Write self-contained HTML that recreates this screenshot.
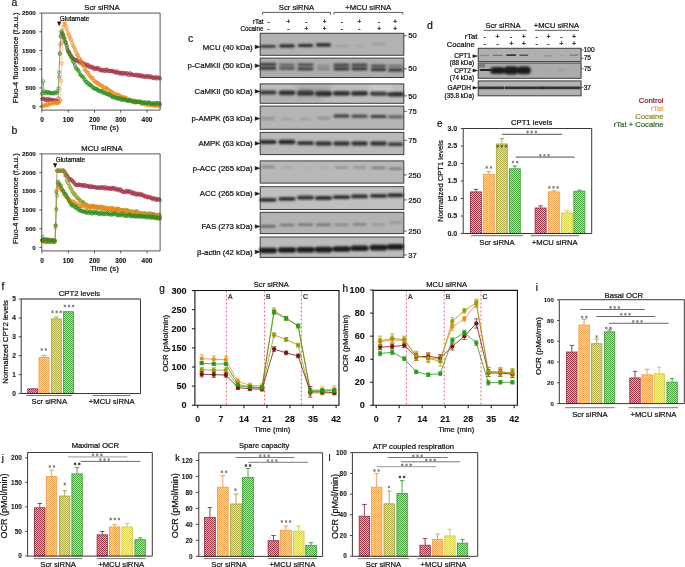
<!DOCTYPE html>
<html><head><meta charset="utf-8"><style>
html,body{margin:0;padding:0;background:#fff;}
svg{display:block;font-family:"Liberation Sans", sans-serif;will-change:transform;}
</style></head><body>
<svg width="685" height="567" viewBox="0 0 685 567">
<rect width="685" height="567" fill="#fff"/>
<path d="M42.00,99.15 L42.68,98.58 L43.37,99.10 L44.05,98.70 L44.73,98.77 L45.41,100.15 L46.09,100.39 L46.78,98.67 L47.46,100.09 L48.14,100.27 L48.83,98.68 L49.51,99.99 L50.19,99.29 L50.87,100.22 L51.55,99.98 L52.24,101.20 L52.92,100.24 L53.60,99.84 L54.29,100.73 L54.97,100.37 L55.65,100.65 L56.33,102.14 L57.02,100.66 L57.70,101.10 L58.38,98.37 L59.06,76.80 L59.75,53.05 L60.43,44.39 L61.11,36.54 L61.79,33.26 L62.47,34.44 L63.16,35.07 L63.84,38.28 L64.52,39.41 L65.20,42.25 L65.89,43.18 L66.57,45.35 L67.25,49.14 L67.93,51.09 L68.62,52.78 L69.30,52.07 L69.98,54.23 L70.66,54.78 L71.35,56.48 L72.03,56.99 L72.71,58.24 L73.39,59.29 L74.08,59.32 L74.76,59.79 L75.44,59.55 L76.12,60.53 L76.81,60.33 L77.49,60.76 L78.17,60.73 L78.85,61.72 L79.54,63.13 L80.22,61.83 L80.90,61.87 L81.58,62.28 L82.27,63.30 L82.95,63.25 L83.63,64.65 L84.31,63.52 L85.00,64.37 L85.68,65.29 L86.36,66.06 L87.04,64.56 L87.73,64.52 L88.41,66.82 L89.09,65.49 L89.77,66.64 L90.46,67.49 L91.14,67.44 L91.82,66.64 L92.50,66.68 L93.19,68.81 L93.87,67.80 L94.55,69.35 L95.23,68.01 L95.92,69.00 L96.60,67.89 L97.28,67.79 L97.96,68.98 L98.65,68.00 L99.33,69.66 L100.01,70.31 L100.69,69.26 L101.38,70.66 L102.06,70.41 L102.74,70.06 L103.42,69.73 L104.11,70.87 L104.79,71.25 L105.47,69.52 L106.15,70.88 L106.84,69.56 L107.52,69.82 L108.20,71.11 L108.88,71.05 L109.57,71.03 L110.25,70.88 L110.93,71.11 L111.61,71.31 L112.30,71.30 L112.98,70.70 L113.66,71.80 L114.34,72.09 L115.03,71.55 L115.71,72.73 L116.39,72.68 L117.07,71.26 L117.76,72.38 L118.44,72.41 L119.12,73.71 L119.80,72.90 L120.49,72.63 L121.17,73.98 L121.85,72.74 L122.54,72.79 L123.22,74.17 L123.90,72.99 L124.58,73.45 L125.27,73.07 L125.95,73.89 L126.63,73.19 L127.31,73.22 L128.00,74.92 L128.68,74.93 L129.36,73.64 L130.04,73.09 L130.73,74.79 L131.41,74.42 L132.09,74.21 L132.77,74.92 L133.46,74.91 L134.14,75.12 L134.82,75.09 L135.50,74.68 L136.19,75.44 L136.87,75.36 L137.55,74.57 L138.23,76.34 L138.92,75.22 L139.60,74.95 L140.28,76.00 L140.96,76.29 L141.65,75.09 L142.33,76.45 L143.01,76.66 L143.69,76.20 L144.38,75.71 L145.06,77.15 L145.74,76.75 L146.42,76.82 L147.11,75.80 L147.79,76.78 L148.47,75.94 L149.15,77.58 L149.84,77.30 L150.52,76.69 L151.20,76.27 L151.88,77.34 L152.57,77.94 L153.25,78.27 L153.93,77.45 L154.61,78.31 L155.30,77.02 L155.98,77.05 L156.66,78.62 L157.34,78.50 L158.03,77.41 L158.71,77.88 L159.39,77.61 L160.07,78.74" fill="none" stroke="#a23444" stroke-width="0.45" opacity="0.9"/>
<g fill="none" stroke="#a23444" stroke-width="0.62"><circle cx="42.00" cy="99.15" r="1.55"/><circle cx="42.68" cy="98.58" r="1.55"/><circle cx="43.37" cy="99.10" r="1.55"/><circle cx="44.05" cy="98.70" r="1.55"/><circle cx="44.73" cy="98.77" r="1.55"/><circle cx="45.41" cy="100.15" r="1.55"/><circle cx="46.09" cy="100.39" r="1.55"/><circle cx="46.78" cy="98.67" r="1.55"/><circle cx="47.46" cy="100.09" r="1.55"/><circle cx="48.14" cy="100.27" r="1.55"/><circle cx="48.83" cy="98.68" r="1.55"/><circle cx="49.51" cy="99.99" r="1.55"/><circle cx="50.19" cy="99.29" r="1.55"/><circle cx="50.87" cy="100.22" r="1.55"/><circle cx="51.55" cy="99.98" r="1.55"/><circle cx="52.24" cy="101.20" r="1.55"/><circle cx="52.92" cy="100.24" r="1.55"/><circle cx="53.60" cy="99.84" r="1.55"/><circle cx="54.29" cy="100.73" r="1.55"/><circle cx="54.97" cy="100.37" r="1.55"/><circle cx="55.65" cy="100.65" r="1.55"/><circle cx="56.33" cy="102.14" r="1.55"/><circle cx="57.02" cy="100.66" r="1.55"/><circle cx="57.70" cy="101.10" r="1.55"/><circle cx="58.38" cy="98.37" r="1.55"/><circle cx="59.06" cy="76.80" r="1.55"/><circle cx="59.75" cy="53.05" r="1.55"/><circle cx="60.43" cy="44.39" r="1.55"/><circle cx="61.11" cy="36.54" r="1.55"/><circle cx="61.79" cy="33.26" r="1.55"/><circle cx="62.47" cy="34.44" r="1.55"/><circle cx="63.16" cy="35.07" r="1.55"/><circle cx="63.84" cy="38.28" r="1.55"/><circle cx="64.52" cy="39.41" r="1.55"/><circle cx="65.20" cy="42.25" r="1.55"/><circle cx="65.89" cy="43.18" r="1.55"/><circle cx="66.57" cy="45.35" r="1.55"/><circle cx="67.25" cy="49.14" r="1.55"/><circle cx="67.93" cy="51.09" r="1.55"/><circle cx="68.62" cy="52.78" r="1.55"/><circle cx="69.30" cy="52.07" r="1.55"/><circle cx="69.98" cy="54.23" r="1.55"/><circle cx="70.66" cy="54.78" r="1.55"/><circle cx="71.35" cy="56.48" r="1.55"/><circle cx="72.03" cy="56.99" r="1.55"/><circle cx="72.71" cy="58.24" r="1.55"/><circle cx="73.39" cy="59.29" r="1.55"/><circle cx="74.08" cy="59.32" r="1.55"/><circle cx="74.76" cy="59.79" r="1.55"/><circle cx="75.44" cy="59.55" r="1.55"/><circle cx="76.12" cy="60.53" r="1.55"/><circle cx="76.81" cy="60.33" r="1.55"/><circle cx="77.49" cy="60.76" r="1.55"/><circle cx="78.17" cy="60.73" r="1.55"/><circle cx="78.85" cy="61.72" r="1.55"/><circle cx="79.54" cy="63.13" r="1.55"/><circle cx="80.22" cy="61.83" r="1.55"/><circle cx="80.90" cy="61.87" r="1.55"/><circle cx="81.58" cy="62.28" r="1.55"/><circle cx="82.27" cy="63.30" r="1.55"/><circle cx="82.95" cy="63.25" r="1.55"/><circle cx="83.63" cy="64.65" r="1.55"/><circle cx="84.31" cy="63.52" r="1.55"/><circle cx="85.00" cy="64.37" r="1.55"/><circle cx="85.68" cy="65.29" r="1.55"/><circle cx="86.36" cy="66.06" r="1.55"/><circle cx="87.04" cy="64.56" r="1.55"/><circle cx="87.73" cy="64.52" r="1.55"/><circle cx="88.41" cy="66.82" r="1.55"/><circle cx="89.09" cy="65.49" r="1.55"/><circle cx="89.77" cy="66.64" r="1.55"/><circle cx="90.46" cy="67.49" r="1.55"/><circle cx="91.14" cy="67.44" r="1.55"/><circle cx="91.82" cy="66.64" r="1.55"/><circle cx="92.50" cy="66.68" r="1.55"/><circle cx="93.19" cy="68.81" r="1.55"/><circle cx="93.87" cy="67.80" r="1.55"/><circle cx="94.55" cy="69.35" r="1.55"/><circle cx="95.23" cy="68.01" r="1.55"/><circle cx="95.92" cy="69.00" r="1.55"/><circle cx="96.60" cy="67.89" r="1.55"/><circle cx="97.28" cy="67.79" r="1.55"/><circle cx="97.96" cy="68.98" r="1.55"/><circle cx="98.65" cy="68.00" r="1.55"/><circle cx="99.33" cy="69.66" r="1.55"/><circle cx="100.01" cy="70.31" r="1.55"/><circle cx="100.69" cy="69.26" r="1.55"/><circle cx="101.38" cy="70.66" r="1.55"/><circle cx="102.06" cy="70.41" r="1.55"/><circle cx="102.74" cy="70.06" r="1.55"/><circle cx="103.42" cy="69.73" r="1.55"/><circle cx="104.11" cy="70.87" r="1.55"/><circle cx="104.79" cy="71.25" r="1.55"/><circle cx="105.47" cy="69.52" r="1.55"/><circle cx="106.15" cy="70.88" r="1.55"/><circle cx="106.84" cy="69.56" r="1.55"/><circle cx="107.52" cy="69.82" r="1.55"/><circle cx="108.20" cy="71.11" r="1.55"/><circle cx="108.88" cy="71.05" r="1.55"/><circle cx="109.57" cy="71.03" r="1.55"/><circle cx="110.25" cy="70.88" r="1.55"/><circle cx="110.93" cy="71.11" r="1.55"/><circle cx="111.61" cy="71.31" r="1.55"/><circle cx="112.30" cy="71.30" r="1.55"/><circle cx="112.98" cy="70.70" r="1.55"/><circle cx="113.66" cy="71.80" r="1.55"/><circle cx="114.34" cy="72.09" r="1.55"/><circle cx="115.03" cy="71.55" r="1.55"/><circle cx="115.71" cy="72.73" r="1.55"/><circle cx="116.39" cy="72.68" r="1.55"/><circle cx="117.07" cy="71.26" r="1.55"/><circle cx="117.76" cy="72.38" r="1.55"/><circle cx="118.44" cy="72.41" r="1.55"/><circle cx="119.12" cy="73.71" r="1.55"/><circle cx="119.80" cy="72.90" r="1.55"/><circle cx="120.49" cy="72.63" r="1.55"/><circle cx="121.17" cy="73.98" r="1.55"/><circle cx="121.85" cy="72.74" r="1.55"/><circle cx="122.54" cy="72.79" r="1.55"/><circle cx="123.22" cy="74.17" r="1.55"/><circle cx="123.90" cy="72.99" r="1.55"/><circle cx="124.58" cy="73.45" r="1.55"/><circle cx="125.27" cy="73.07" r="1.55"/><circle cx="125.95" cy="73.89" r="1.55"/><circle cx="126.63" cy="73.19" r="1.55"/><circle cx="127.31" cy="73.22" r="1.55"/><circle cx="128.00" cy="74.92" r="1.55"/><circle cx="128.68" cy="74.93" r="1.55"/><circle cx="129.36" cy="73.64" r="1.55"/><circle cx="130.04" cy="73.09" r="1.55"/><circle cx="130.73" cy="74.79" r="1.55"/><circle cx="131.41" cy="74.42" r="1.55"/><circle cx="132.09" cy="74.21" r="1.55"/><circle cx="132.77" cy="74.92" r="1.55"/><circle cx="133.46" cy="74.91" r="1.55"/><circle cx="134.14" cy="75.12" r="1.55"/><circle cx="134.82" cy="75.09" r="1.55"/><circle cx="135.50" cy="74.68" r="1.55"/><circle cx="136.19" cy="75.44" r="1.55"/><circle cx="136.87" cy="75.36" r="1.55"/><circle cx="137.55" cy="74.57" r="1.55"/><circle cx="138.23" cy="76.34" r="1.55"/><circle cx="138.92" cy="75.22" r="1.55"/><circle cx="139.60" cy="74.95" r="1.55"/><circle cx="140.28" cy="76.00" r="1.55"/><circle cx="140.96" cy="76.29" r="1.55"/><circle cx="141.65" cy="75.09" r="1.55"/><circle cx="142.33" cy="76.45" r="1.55"/><circle cx="143.01" cy="76.66" r="1.55"/><circle cx="143.69" cy="76.20" r="1.55"/><circle cx="144.38" cy="75.71" r="1.55"/><circle cx="145.06" cy="77.15" r="1.55"/><circle cx="145.74" cy="76.75" r="1.55"/><circle cx="146.42" cy="76.82" r="1.55"/><circle cx="147.11" cy="75.80" r="1.55"/><circle cx="147.79" cy="76.78" r="1.55"/><circle cx="148.47" cy="75.94" r="1.55"/><circle cx="149.15" cy="77.58" r="1.55"/><circle cx="149.84" cy="77.30" r="1.55"/><circle cx="150.52" cy="76.69" r="1.55"/><circle cx="151.20" cy="76.27" r="1.55"/><circle cx="151.88" cy="77.34" r="1.55"/><circle cx="152.57" cy="77.94" r="1.55"/><circle cx="153.25" cy="78.27" r="1.55"/><circle cx="153.93" cy="77.45" r="1.55"/><circle cx="154.61" cy="78.31" r="1.55"/><circle cx="155.30" cy="77.02" r="1.55"/><circle cx="155.98" cy="77.05" r="1.55"/><circle cx="156.66" cy="78.62" r="1.55"/><circle cx="157.34" cy="78.50" r="1.55"/><circle cx="158.03" cy="77.41" r="1.55"/><circle cx="158.71" cy="77.88" r="1.55"/><circle cx="159.39" cy="77.61" r="1.55"/><circle cx="160.07" cy="78.74" r="1.55"/></g>
<path d="M42.00,106.57 L42.68,106.11 L43.37,104.99 L44.05,105.86 L44.73,105.57 L45.41,105.28 L46.09,105.13 L46.78,105.01 L47.46,103.87 L48.14,105.21 L48.83,105.36 L49.51,103.39 L50.19,103.36 L50.87,103.01 L51.55,103.94 L52.24,102.79 L52.92,102.69 L53.60,103.91 L54.29,102.75 L54.97,102.43 L55.65,102.62 L56.33,102.75 L57.02,103.05 L57.70,102.81 L58.38,102.66 L59.06,102.58 L59.75,101.18 L60.43,100.00 L61.11,80.75 L61.79,63.35 L62.47,42.24 L63.16,27.37 L63.84,24.60 L64.52,21.94 L65.20,23.75 L65.89,26.07 L66.57,28.47 L67.25,30.38 L67.93,33.30 L68.62,34.93 L69.30,35.83 L69.98,37.71 L70.66,39.54 L71.35,40.13 L72.03,42.38 L72.71,44.52 L73.39,46.31 L74.08,46.73 L74.76,49.09 L75.44,50.11 L76.12,52.56 L76.81,54.27 L77.49,54.90 L78.17,55.64 L78.85,58.18 L79.54,58.26 L80.22,59.30 L80.90,60.81 L81.58,62.06 L82.27,64.93 L82.95,65.01 L83.63,65.84 L84.31,68.71 L85.00,69.57 L85.68,70.79 L86.36,71.10 L87.04,72.12 L87.73,72.84 L88.41,73.06 L89.09,75.39 L89.77,76.10 L90.46,76.78 L91.14,77.60 L91.82,78.53 L92.50,77.58 L93.19,78.63 L93.87,80.94 L94.55,80.95 L95.23,81.86 L95.92,82.30 L96.60,82.66 L97.28,82.52 L97.96,83.07 L98.65,83.95 L99.33,84.71 L100.01,84.87 L100.69,85.71 L101.38,85.30 L102.06,85.42 L102.74,86.51 L103.42,87.53 L104.11,87.77 L104.79,87.82 L105.47,87.81 L106.15,87.90 L106.84,89.11 L107.52,88.73 L108.20,89.51 L108.88,90.31 L109.57,90.86 L110.25,91.06 L110.93,91.09 L111.61,92.07 L112.30,91.97 L112.98,92.86 L113.66,93.71 L114.34,93.58 L115.03,93.65 L115.71,95.17 L116.39,94.79 L117.07,95.10 L117.76,94.52 L118.44,94.72 L119.12,96.13 L119.80,95.42 L120.49,95.93 L121.17,97.27 L121.85,97.19 L122.54,98.11 L123.22,97.01 L123.90,97.54 L124.58,97.35 L125.27,97.77 L125.95,98.25 L126.63,98.37 L127.31,98.94 L128.00,100.07 L128.68,99.37 L129.36,100.74 L130.04,100.71 L130.73,99.73 L131.41,101.39 L132.09,101.53 L132.77,101.76 L133.46,100.48 L134.14,102.08 L134.82,102.63 L135.50,101.20 L136.19,102.75 L136.87,101.49 L137.55,101.97 L138.23,101.80 L138.92,101.72 L139.60,102.60 L140.28,102.32 L140.96,103.95 L141.65,102.67 L142.33,103.32 L143.01,103.07 L143.69,104.40 L144.38,103.30 L145.06,103.09 L145.74,104.94 L146.42,104.57 L147.11,104.24 L147.79,103.81 L148.47,105.03 L149.15,105.24 L149.84,105.18 L150.52,104.55 L151.20,104.37 L151.88,105.15 L152.57,105.28 L153.25,105.30 L153.93,105.48 L154.61,105.43 L155.30,106.16 L155.98,105.43 L156.66,104.59 L157.34,105.76 L158.03,105.19 L158.71,106.42 L159.39,105.47 L160.07,105.42" fill="none" stroke="#f08a18" stroke-width="0.45" opacity="0.9"/>
<g fill="none" stroke="#f08a18" stroke-width="0.62"><circle cx="42.00" cy="106.57" r="1.55"/><circle cx="42.68" cy="106.11" r="1.55"/><circle cx="43.37" cy="104.99" r="1.55"/><circle cx="44.05" cy="105.86" r="1.55"/><circle cx="44.73" cy="105.57" r="1.55"/><circle cx="45.41" cy="105.28" r="1.55"/><circle cx="46.09" cy="105.13" r="1.55"/><circle cx="46.78" cy="105.01" r="1.55"/><circle cx="47.46" cy="103.87" r="1.55"/><circle cx="48.14" cy="105.21" r="1.55"/><circle cx="48.83" cy="105.36" r="1.55"/><circle cx="49.51" cy="103.39" r="1.55"/><circle cx="50.19" cy="103.36" r="1.55"/><circle cx="50.87" cy="103.01" r="1.55"/><circle cx="51.55" cy="103.94" r="1.55"/><circle cx="52.24" cy="102.79" r="1.55"/><circle cx="52.92" cy="102.69" r="1.55"/><circle cx="53.60" cy="103.91" r="1.55"/><circle cx="54.29" cy="102.75" r="1.55"/><circle cx="54.97" cy="102.43" r="1.55"/><circle cx="55.65" cy="102.62" r="1.55"/><circle cx="56.33" cy="102.75" r="1.55"/><circle cx="57.02" cy="103.05" r="1.55"/><circle cx="57.70" cy="102.81" r="1.55"/><circle cx="58.38" cy="102.66" r="1.55"/><circle cx="59.06" cy="102.58" r="1.55"/><circle cx="59.75" cy="101.18" r="1.55"/><circle cx="60.43" cy="100.00" r="1.55"/><circle cx="61.11" cy="80.75" r="1.55"/><circle cx="61.79" cy="63.35" r="1.55"/><circle cx="62.47" cy="42.24" r="1.55"/><circle cx="63.16" cy="27.37" r="1.55"/><circle cx="63.84" cy="24.60" r="1.55"/><circle cx="64.52" cy="21.94" r="1.55"/><circle cx="65.20" cy="23.75" r="1.55"/><circle cx="65.89" cy="26.07" r="1.55"/><circle cx="66.57" cy="28.47" r="1.55"/><circle cx="67.25" cy="30.38" r="1.55"/><circle cx="67.93" cy="33.30" r="1.55"/><circle cx="68.62" cy="34.93" r="1.55"/><circle cx="69.30" cy="35.83" r="1.55"/><circle cx="69.98" cy="37.71" r="1.55"/><circle cx="70.66" cy="39.54" r="1.55"/><circle cx="71.35" cy="40.13" r="1.55"/><circle cx="72.03" cy="42.38" r="1.55"/><circle cx="72.71" cy="44.52" r="1.55"/><circle cx="73.39" cy="46.31" r="1.55"/><circle cx="74.08" cy="46.73" r="1.55"/><circle cx="74.76" cy="49.09" r="1.55"/><circle cx="75.44" cy="50.11" r="1.55"/><circle cx="76.12" cy="52.56" r="1.55"/><circle cx="76.81" cy="54.27" r="1.55"/><circle cx="77.49" cy="54.90" r="1.55"/><circle cx="78.17" cy="55.64" r="1.55"/><circle cx="78.85" cy="58.18" r="1.55"/><circle cx="79.54" cy="58.26" r="1.55"/><circle cx="80.22" cy="59.30" r="1.55"/><circle cx="80.90" cy="60.81" r="1.55"/><circle cx="81.58" cy="62.06" r="1.55"/><circle cx="82.27" cy="64.93" r="1.55"/><circle cx="82.95" cy="65.01" r="1.55"/><circle cx="83.63" cy="65.84" r="1.55"/><circle cx="84.31" cy="68.71" r="1.55"/><circle cx="85.00" cy="69.57" r="1.55"/><circle cx="85.68" cy="70.79" r="1.55"/><circle cx="86.36" cy="71.10" r="1.55"/><circle cx="87.04" cy="72.12" r="1.55"/><circle cx="87.73" cy="72.84" r="1.55"/><circle cx="88.41" cy="73.06" r="1.55"/><circle cx="89.09" cy="75.39" r="1.55"/><circle cx="89.77" cy="76.10" r="1.55"/><circle cx="90.46" cy="76.78" r="1.55"/><circle cx="91.14" cy="77.60" r="1.55"/><circle cx="91.82" cy="78.53" r="1.55"/><circle cx="92.50" cy="77.58" r="1.55"/><circle cx="93.19" cy="78.63" r="1.55"/><circle cx="93.87" cy="80.94" r="1.55"/><circle cx="94.55" cy="80.95" r="1.55"/><circle cx="95.23" cy="81.86" r="1.55"/><circle cx="95.92" cy="82.30" r="1.55"/><circle cx="96.60" cy="82.66" r="1.55"/><circle cx="97.28" cy="82.52" r="1.55"/><circle cx="97.96" cy="83.07" r="1.55"/><circle cx="98.65" cy="83.95" r="1.55"/><circle cx="99.33" cy="84.71" r="1.55"/><circle cx="100.01" cy="84.87" r="1.55"/><circle cx="100.69" cy="85.71" r="1.55"/><circle cx="101.38" cy="85.30" r="1.55"/><circle cx="102.06" cy="85.42" r="1.55"/><circle cx="102.74" cy="86.51" r="1.55"/><circle cx="103.42" cy="87.53" r="1.55"/><circle cx="104.11" cy="87.77" r="1.55"/><circle cx="104.79" cy="87.82" r="1.55"/><circle cx="105.47" cy="87.81" r="1.55"/><circle cx="106.15" cy="87.90" r="1.55"/><circle cx="106.84" cy="89.11" r="1.55"/><circle cx="107.52" cy="88.73" r="1.55"/><circle cx="108.20" cy="89.51" r="1.55"/><circle cx="108.88" cy="90.31" r="1.55"/><circle cx="109.57" cy="90.86" r="1.55"/><circle cx="110.25" cy="91.06" r="1.55"/><circle cx="110.93" cy="91.09" r="1.55"/><circle cx="111.61" cy="92.07" r="1.55"/><circle cx="112.30" cy="91.97" r="1.55"/><circle cx="112.98" cy="92.86" r="1.55"/><circle cx="113.66" cy="93.71" r="1.55"/><circle cx="114.34" cy="93.58" r="1.55"/><circle cx="115.03" cy="93.65" r="1.55"/><circle cx="115.71" cy="95.17" r="1.55"/><circle cx="116.39" cy="94.79" r="1.55"/><circle cx="117.07" cy="95.10" r="1.55"/><circle cx="117.76" cy="94.52" r="1.55"/><circle cx="118.44" cy="94.72" r="1.55"/><circle cx="119.12" cy="96.13" r="1.55"/><circle cx="119.80" cy="95.42" r="1.55"/><circle cx="120.49" cy="95.93" r="1.55"/><circle cx="121.17" cy="97.27" r="1.55"/><circle cx="121.85" cy="97.19" r="1.55"/><circle cx="122.54" cy="98.11" r="1.55"/><circle cx="123.22" cy="97.01" r="1.55"/><circle cx="123.90" cy="97.54" r="1.55"/><circle cx="124.58" cy="97.35" r="1.55"/><circle cx="125.27" cy="97.77" r="1.55"/><circle cx="125.95" cy="98.25" r="1.55"/><circle cx="126.63" cy="98.37" r="1.55"/><circle cx="127.31" cy="98.94" r="1.55"/><circle cx="128.00" cy="100.07" r="1.55"/><circle cx="128.68" cy="99.37" r="1.55"/><circle cx="129.36" cy="100.74" r="1.55"/><circle cx="130.04" cy="100.71" r="1.55"/><circle cx="130.73" cy="99.73" r="1.55"/><circle cx="131.41" cy="101.39" r="1.55"/><circle cx="132.09" cy="101.53" r="1.55"/><circle cx="132.77" cy="101.76" r="1.55"/><circle cx="133.46" cy="100.48" r="1.55"/><circle cx="134.14" cy="102.08" r="1.55"/><circle cx="134.82" cy="102.63" r="1.55"/><circle cx="135.50" cy="101.20" r="1.55"/><circle cx="136.19" cy="102.75" r="1.55"/><circle cx="136.87" cy="101.49" r="1.55"/><circle cx="137.55" cy="101.97" r="1.55"/><circle cx="138.23" cy="101.80" r="1.55"/><circle cx="138.92" cy="101.72" r="1.55"/><circle cx="139.60" cy="102.60" r="1.55"/><circle cx="140.28" cy="102.32" r="1.55"/><circle cx="140.96" cy="103.95" r="1.55"/><circle cx="141.65" cy="102.67" r="1.55"/><circle cx="142.33" cy="103.32" r="1.55"/><circle cx="143.01" cy="103.07" r="1.55"/><circle cx="143.69" cy="104.40" r="1.55"/><circle cx="144.38" cy="103.30" r="1.55"/><circle cx="145.06" cy="103.09" r="1.55"/><circle cx="145.74" cy="104.94" r="1.55"/><circle cx="146.42" cy="104.57" r="1.55"/><circle cx="147.11" cy="104.24" r="1.55"/><circle cx="147.79" cy="103.81" r="1.55"/><circle cx="148.47" cy="105.03" r="1.55"/><circle cx="149.15" cy="105.24" r="1.55"/><circle cx="149.84" cy="105.18" r="1.55"/><circle cx="150.52" cy="104.55" r="1.55"/><circle cx="151.20" cy="104.37" r="1.55"/><circle cx="151.88" cy="105.15" r="1.55"/><circle cx="152.57" cy="105.28" r="1.55"/><circle cx="153.25" cy="105.30" r="1.55"/><circle cx="153.93" cy="105.48" r="1.55"/><circle cx="154.61" cy="105.43" r="1.55"/><circle cx="155.30" cy="106.16" r="1.55"/><circle cx="155.98" cy="105.43" r="1.55"/><circle cx="156.66" cy="104.59" r="1.55"/><circle cx="157.34" cy="105.76" r="1.55"/><circle cx="158.03" cy="105.19" r="1.55"/><circle cx="158.71" cy="106.42" r="1.55"/><circle cx="159.39" cy="105.47" r="1.55"/><circle cx="160.07" cy="105.42" r="1.55"/></g>
<path d="M42.00,93.92 L42.68,93.25 L43.37,81.25 L44.05,91.31 L44.73,91.65 L45.41,93.15 L46.09,93.29 L46.78,92.07 L47.46,91.78 L48.14,92.60 L48.83,92.79 L49.51,92.29 L50.19,93.37 L50.87,93.25 L51.55,93.43 L52.24,92.71 L52.92,93.28 L53.60,93.48 L54.29,92.63 L54.97,92.17 L55.65,93.49 L56.33,92.73 L57.02,92.60 L57.70,90.91 L58.38,88.18 L59.06,72.27 L59.75,54.04 L60.43,36.20 L61.11,31.75 L61.79,30.99 L62.47,33.12 L63.16,34.46 L63.84,36.81 L64.52,38.20 L65.20,41.69 L65.89,42.31 L66.57,45.58 L67.25,47.61 L67.93,50.14 L68.62,51.56 L69.30,53.01 L69.98,54.95 L70.66,56.52 L71.35,57.48 L72.03,58.64 L72.71,60.95 L73.39,61.72 L74.08,62.70 L74.76,65.08 L75.44,66.97 L76.12,68.38 L76.81,68.58 L77.49,69.61 L78.17,70.01 L78.85,71.16 L79.54,73.30 L80.22,74.35 L80.90,75.17 L81.58,76.26 L82.27,76.20 L82.95,76.85 L83.63,77.72 L84.31,79.93 L85.00,79.69 L85.68,81.65 L86.36,81.98 L87.04,81.93 L87.73,83.72 L88.41,84.25 L89.09,83.35 L89.77,84.94 L90.46,85.36 L91.14,85.47 L91.82,85.82 L92.50,87.67 L93.19,87.57 L93.87,87.91 L94.55,88.36 L95.23,89.28 L95.92,88.86 L96.60,88.45 L97.28,89.86 L97.96,89.87 L98.65,91.01 L99.33,91.02 L100.01,90.57 L100.69,91.95 L101.38,90.76 L102.06,91.03 L102.74,92.92 L103.42,91.59 L104.11,93.00 L104.79,92.54 L105.47,92.88 L106.15,94.09 L106.84,93.66 L107.52,94.01 L108.20,94.03 L108.88,95.39 L109.57,94.75 L110.25,94.66 L110.93,95.53 L111.61,96.11 L112.30,97.24 L112.98,96.81 L113.66,97.40 L114.34,97.00 L115.03,97.32 L115.71,97.70 L116.39,98.62 L117.07,97.88 L117.76,98.08 L118.44,99.12 L119.12,97.91 L119.80,98.53 L120.49,99.73 L121.17,98.32 L121.85,100.03 L122.54,99.78 L123.22,99.13 L123.90,99.48 L124.58,99.66 L125.27,99.59 L125.95,100.06 L126.63,100.45 L127.31,100.82 L128.00,101.14 L128.68,99.98 L129.36,100.01 L130.04,100.53 L130.73,100.25 L131.41,101.10 L132.09,101.38 L132.77,101.26 L133.46,100.41 L134.14,102.13 L134.82,101.34 L135.50,101.93 L136.19,101.00 L136.87,101.89 L137.55,102.01 L138.23,101.96 L138.92,101.78 L139.60,101.41 L140.28,102.31 L140.96,101.44 L141.65,102.95 L142.33,102.73 L143.01,103.14 L143.69,103.20 L144.38,101.99 L145.06,102.18 L145.74,103.32 L146.42,103.39 L147.11,103.03 L147.79,102.45 L148.47,102.36 L149.15,102.55 L149.84,102.91 L150.52,103.83 L151.20,103.39 L151.88,103.85 L152.57,103.25 L153.25,103.23 L153.93,103.99 L154.61,103.95 L155.30,102.97 L155.98,104.49 L156.66,103.04 L157.34,102.92 L158.03,102.87 L158.71,104.02 L159.39,103.75 L160.07,103.74" fill="none" stroke="#2e8c1e" stroke-width="0.45" opacity="0.9"/>
<g fill="none" stroke="#2e8c1e" stroke-width="0.62"><circle cx="42.00" cy="93.92" r="1.55"/><circle cx="42.68" cy="93.25" r="1.55"/><circle cx="43.37" cy="81.25" r="1.55"/><circle cx="44.05" cy="91.31" r="1.55"/><circle cx="44.73" cy="91.65" r="1.55"/><circle cx="45.41" cy="93.15" r="1.55"/><circle cx="46.09" cy="93.29" r="1.55"/><circle cx="46.78" cy="92.07" r="1.55"/><circle cx="47.46" cy="91.78" r="1.55"/><circle cx="48.14" cy="92.60" r="1.55"/><circle cx="48.83" cy="92.79" r="1.55"/><circle cx="49.51" cy="92.29" r="1.55"/><circle cx="50.19" cy="93.37" r="1.55"/><circle cx="50.87" cy="93.25" r="1.55"/><circle cx="51.55" cy="93.43" r="1.55"/><circle cx="52.24" cy="92.71" r="1.55"/><circle cx="52.92" cy="93.28" r="1.55"/><circle cx="53.60" cy="93.48" r="1.55"/><circle cx="54.29" cy="92.63" r="1.55"/><circle cx="54.97" cy="92.17" r="1.55"/><circle cx="55.65" cy="93.49" r="1.55"/><circle cx="56.33" cy="92.73" r="1.55"/><circle cx="57.02" cy="92.60" r="1.55"/><circle cx="57.70" cy="90.91" r="1.55"/><circle cx="58.38" cy="88.18" r="1.55"/><circle cx="59.06" cy="72.27" r="1.55"/><circle cx="59.75" cy="54.04" r="1.55"/><circle cx="60.43" cy="36.20" r="1.55"/><circle cx="61.11" cy="31.75" r="1.55"/><circle cx="61.79" cy="30.99" r="1.55"/><circle cx="62.47" cy="33.12" r="1.55"/><circle cx="63.16" cy="34.46" r="1.55"/><circle cx="63.84" cy="36.81" r="1.55"/><circle cx="64.52" cy="38.20" r="1.55"/><circle cx="65.20" cy="41.69" r="1.55"/><circle cx="65.89" cy="42.31" r="1.55"/><circle cx="66.57" cy="45.58" r="1.55"/><circle cx="67.25" cy="47.61" r="1.55"/><circle cx="67.93" cy="50.14" r="1.55"/><circle cx="68.62" cy="51.56" r="1.55"/><circle cx="69.30" cy="53.01" r="1.55"/><circle cx="69.98" cy="54.95" r="1.55"/><circle cx="70.66" cy="56.52" r="1.55"/><circle cx="71.35" cy="57.48" r="1.55"/><circle cx="72.03" cy="58.64" r="1.55"/><circle cx="72.71" cy="60.95" r="1.55"/><circle cx="73.39" cy="61.72" r="1.55"/><circle cx="74.08" cy="62.70" r="1.55"/><circle cx="74.76" cy="65.08" r="1.55"/><circle cx="75.44" cy="66.97" r="1.55"/><circle cx="76.12" cy="68.38" r="1.55"/><circle cx="76.81" cy="68.58" r="1.55"/><circle cx="77.49" cy="69.61" r="1.55"/><circle cx="78.17" cy="70.01" r="1.55"/><circle cx="78.85" cy="71.16" r="1.55"/><circle cx="79.54" cy="73.30" r="1.55"/><circle cx="80.22" cy="74.35" r="1.55"/><circle cx="80.90" cy="75.17" r="1.55"/><circle cx="81.58" cy="76.26" r="1.55"/><circle cx="82.27" cy="76.20" r="1.55"/><circle cx="82.95" cy="76.85" r="1.55"/><circle cx="83.63" cy="77.72" r="1.55"/><circle cx="84.31" cy="79.93" r="1.55"/><circle cx="85.00" cy="79.69" r="1.55"/><circle cx="85.68" cy="81.65" r="1.55"/><circle cx="86.36" cy="81.98" r="1.55"/><circle cx="87.04" cy="81.93" r="1.55"/><circle cx="87.73" cy="83.72" r="1.55"/><circle cx="88.41" cy="84.25" r="1.55"/><circle cx="89.09" cy="83.35" r="1.55"/><circle cx="89.77" cy="84.94" r="1.55"/><circle cx="90.46" cy="85.36" r="1.55"/><circle cx="91.14" cy="85.47" r="1.55"/><circle cx="91.82" cy="85.82" r="1.55"/><circle cx="92.50" cy="87.67" r="1.55"/><circle cx="93.19" cy="87.57" r="1.55"/><circle cx="93.87" cy="87.91" r="1.55"/><circle cx="94.55" cy="88.36" r="1.55"/><circle cx="95.23" cy="89.28" r="1.55"/><circle cx="95.92" cy="88.86" r="1.55"/><circle cx="96.60" cy="88.45" r="1.55"/><circle cx="97.28" cy="89.86" r="1.55"/><circle cx="97.96" cy="89.87" r="1.55"/><circle cx="98.65" cy="91.01" r="1.55"/><circle cx="99.33" cy="91.02" r="1.55"/><circle cx="100.01" cy="90.57" r="1.55"/><circle cx="100.69" cy="91.95" r="1.55"/><circle cx="101.38" cy="90.76" r="1.55"/><circle cx="102.06" cy="91.03" r="1.55"/><circle cx="102.74" cy="92.92" r="1.55"/><circle cx="103.42" cy="91.59" r="1.55"/><circle cx="104.11" cy="93.00" r="1.55"/><circle cx="104.79" cy="92.54" r="1.55"/><circle cx="105.47" cy="92.88" r="1.55"/><circle cx="106.15" cy="94.09" r="1.55"/><circle cx="106.84" cy="93.66" r="1.55"/><circle cx="107.52" cy="94.01" r="1.55"/><circle cx="108.20" cy="94.03" r="1.55"/><circle cx="108.88" cy="95.39" r="1.55"/><circle cx="109.57" cy="94.75" r="1.55"/><circle cx="110.25" cy="94.66" r="1.55"/><circle cx="110.93" cy="95.53" r="1.55"/><circle cx="111.61" cy="96.11" r="1.55"/><circle cx="112.30" cy="97.24" r="1.55"/><circle cx="112.98" cy="96.81" r="1.55"/><circle cx="113.66" cy="97.40" r="1.55"/><circle cx="114.34" cy="97.00" r="1.55"/><circle cx="115.03" cy="97.32" r="1.55"/><circle cx="115.71" cy="97.70" r="1.55"/><circle cx="116.39" cy="98.62" r="1.55"/><circle cx="117.07" cy="97.88" r="1.55"/><circle cx="117.76" cy="98.08" r="1.55"/><circle cx="118.44" cy="99.12" r="1.55"/><circle cx="119.12" cy="97.91" r="1.55"/><circle cx="119.80" cy="98.53" r="1.55"/><circle cx="120.49" cy="99.73" r="1.55"/><circle cx="121.17" cy="98.32" r="1.55"/><circle cx="121.85" cy="100.03" r="1.55"/><circle cx="122.54" cy="99.78" r="1.55"/><circle cx="123.22" cy="99.13" r="1.55"/><circle cx="123.90" cy="99.48" r="1.55"/><circle cx="124.58" cy="99.66" r="1.55"/><circle cx="125.27" cy="99.59" r="1.55"/><circle cx="125.95" cy="100.06" r="1.55"/><circle cx="126.63" cy="100.45" r="1.55"/><circle cx="127.31" cy="100.82" r="1.55"/><circle cx="128.00" cy="101.14" r="1.55"/><circle cx="128.68" cy="99.98" r="1.55"/><circle cx="129.36" cy="100.01" r="1.55"/><circle cx="130.04" cy="100.53" r="1.55"/><circle cx="130.73" cy="100.25" r="1.55"/><circle cx="131.41" cy="101.10" r="1.55"/><circle cx="132.09" cy="101.38" r="1.55"/><circle cx="132.77" cy="101.26" r="1.55"/><circle cx="133.46" cy="100.41" r="1.55"/><circle cx="134.14" cy="102.13" r="1.55"/><circle cx="134.82" cy="101.34" r="1.55"/><circle cx="135.50" cy="101.93" r="1.55"/><circle cx="136.19" cy="101.00" r="1.55"/><circle cx="136.87" cy="101.89" r="1.55"/><circle cx="137.55" cy="102.01" r="1.55"/><circle cx="138.23" cy="101.96" r="1.55"/><circle cx="138.92" cy="101.78" r="1.55"/><circle cx="139.60" cy="101.41" r="1.55"/><circle cx="140.28" cy="102.31" r="1.55"/><circle cx="140.96" cy="101.44" r="1.55"/><circle cx="141.65" cy="102.95" r="1.55"/><circle cx="142.33" cy="102.73" r="1.55"/><circle cx="143.01" cy="103.14" r="1.55"/><circle cx="143.69" cy="103.20" r="1.55"/><circle cx="144.38" cy="101.99" r="1.55"/><circle cx="145.06" cy="102.18" r="1.55"/><circle cx="145.74" cy="103.32" r="1.55"/><circle cx="146.42" cy="103.39" r="1.55"/><circle cx="147.11" cy="103.03" r="1.55"/><circle cx="147.79" cy="102.45" r="1.55"/><circle cx="148.47" cy="102.36" r="1.55"/><circle cx="149.15" cy="102.55" r="1.55"/><circle cx="149.84" cy="102.91" r="1.55"/><circle cx="150.52" cy="103.83" r="1.55"/><circle cx="151.20" cy="103.39" r="1.55"/><circle cx="151.88" cy="103.85" r="1.55"/><circle cx="152.57" cy="103.25" r="1.55"/><circle cx="153.25" cy="103.23" r="1.55"/><circle cx="153.93" cy="103.99" r="1.55"/><circle cx="154.61" cy="103.95" r="1.55"/><circle cx="155.30" cy="102.97" r="1.55"/><circle cx="155.98" cy="104.49" r="1.55"/><circle cx="156.66" cy="103.04" r="1.55"/><circle cx="157.34" cy="102.92" r="1.55"/><circle cx="158.03" cy="102.87" r="1.55"/><circle cx="158.71" cy="104.02" r="1.55"/><circle cx="159.39" cy="103.75" r="1.55"/><circle cx="160.07" cy="103.74" r="1.55"/></g>
<path d="M41.80,13.10 H160.12 V110.10 H41.80 Z" fill="none" stroke="#444" stroke-width="0.9"/>
<line x1="39.30" y1="106.60" x2="41.80" y2="106.60" stroke="#333" stroke-width="0.8" />
<text x="35.80" y="108.73" font-size="6.2" text-anchor="end" font-weight="bold" fill="#111" stroke="#111" stroke-width="0.1" >0</text>
<line x1="39.30" y1="87.90" x2="41.80" y2="87.90" stroke="#333" stroke-width="0.8" />
<text x="35.80" y="90.03" font-size="6.2" text-anchor="end" font-weight="bold" fill="#111" stroke="#111" stroke-width="0.1" >500</text>
<line x1="39.30" y1="69.20" x2="41.80" y2="69.20" stroke="#333" stroke-width="0.8" />
<text x="35.80" y="71.33" font-size="6.2" text-anchor="end" font-weight="bold" fill="#111" stroke="#111" stroke-width="0.1" >1000</text>
<line x1="39.30" y1="50.50" x2="41.80" y2="50.50" stroke="#333" stroke-width="0.8" />
<text x="35.80" y="52.63" font-size="6.2" text-anchor="end" font-weight="bold" fill="#111" stroke="#111" stroke-width="0.1" >1500</text>
<line x1="39.30" y1="31.80" x2="41.80" y2="31.80" stroke="#333" stroke-width="0.8" />
<text x="35.80" y="33.93" font-size="6.2" text-anchor="end" font-weight="bold" fill="#111" stroke="#111" stroke-width="0.1" >2000</text>
<line x1="39.30" y1="13.10" x2="41.80" y2="13.10" stroke="#333" stroke-width="0.8" />
<text x="35.80" y="15.23" font-size="6.2" text-anchor="end" font-weight="bold" fill="#111" stroke="#111" stroke-width="0.1" >2500</text>
<line x1="42.00" y1="110.10" x2="42.00" y2="112.60" stroke="#333" stroke-width="0.8" />
<text x="42.00" y="121.94" font-size="6.5" text-anchor="middle" font-weight="bold" fill="#111" stroke="#111" stroke-width="0.1" >0</text>
<line x1="68.25" y1="110.10" x2="68.25" y2="112.60" stroke="#333" stroke-width="0.8" />
<text x="68.25" y="121.94" font-size="6.5" text-anchor="middle" font-weight="bold" fill="#111" stroke="#111" stroke-width="0.1" >100</text>
<line x1="94.50" y1="110.10" x2="94.50" y2="112.60" stroke="#333" stroke-width="0.8" />
<text x="94.50" y="121.94" font-size="6.5" text-anchor="middle" font-weight="bold" fill="#111" stroke="#111" stroke-width="0.1" >200</text>
<line x1="120.75" y1="110.10" x2="120.75" y2="112.60" stroke="#333" stroke-width="0.8" />
<text x="120.75" y="121.94" font-size="6.5" text-anchor="middle" font-weight="bold" fill="#111" stroke="#111" stroke-width="0.1" >300</text>
<line x1="147.00" y1="110.10" x2="147.00" y2="112.60" stroke="#333" stroke-width="0.8" />
<text x="147.00" y="121.94" font-size="6.5" text-anchor="middle" font-weight="bold" fill="#111" stroke="#111" stroke-width="0.1" >400</text>
<text x="104.60" y="130.02" font-size="7.9" text-anchor="middle" font-weight="normal" fill="#111" stroke="#111" stroke-width="0.22" >Time (s)</text>
<text x="0" y="2.61" font-size="7.6" text-anchor="middle" font-weight="normal" fill="#111" stroke="#111" stroke-width="0.22" transform="translate(15.80,57.85) rotate(-90)" >Fluo-4 fluorescence (f.a.u.)</text>
<text x="102.00" y="10.05" font-size="7.7" text-anchor="middle" font-weight="normal" fill="#111" stroke="#111" stroke-width="0.22" >Scr siRNA</text>
<path d="M57.04,21.60 L61.36,21.60 L59.20,26.40 Z" fill="#1a1a1a"/>
<text x="59.80" y="20.60" font-size="6.4" text-anchor="start" font-weight="normal" fill="#111" stroke="#111" stroke-width="0.22" >Glutamate</text>
<text x="11.50" y="5.81" font-size="10.5" text-anchor="start" font-weight="normal" fill="#222" stroke="#222" stroke-width="0.22" >a</text>
<path d="M42.00,240.37 L42.68,239.61 L43.37,240.27 L44.05,241.15 L44.73,239.90 L45.41,240.75 L46.09,240.50 L46.78,240.23 L47.46,241.86 L48.14,240.15 L48.83,240.40 L49.51,240.79 L50.19,240.73 L50.87,240.88 L51.55,241.49 L52.24,240.75 L52.92,241.86 L53.60,240.83 L54.29,240.52 L54.97,240.98 L55.65,225.12 L56.33,191.52 L57.02,170.55 L57.70,170.87 L58.38,170.55 L59.06,170.61 L59.75,170.85 L60.43,170.69 L61.11,170.73 L61.79,170.79 L62.47,170.56 L63.16,170.37 L63.84,170.71 L64.52,171.60 L65.20,172.81 L65.89,174.85 L66.57,174.38 L67.25,176.13 L67.93,176.56 L68.62,178.10 L69.30,178.54 L69.98,179.93 L70.66,179.38 L71.35,179.60 L72.03,180.25 L72.71,181.70 L73.39,181.48 L74.08,182.58 L74.76,183.92 L75.44,184.57 L76.12,184.98 L76.81,185.12 L77.49,185.32 L78.17,184.67 L78.85,184.33 L79.54,184.80 L80.22,185.17 L80.90,184.77 L81.58,185.65 L82.27,185.41 L82.95,184.86 L83.63,185.77 L84.31,186.37 L85.00,184.84 L85.68,185.30 L86.36,186.16 L87.04,186.21 L87.73,185.92 L88.41,185.83 L89.09,186.73 L89.77,187.29 L90.46,186.89 L91.14,185.67 L91.82,187.16 L92.50,186.52 L93.19,187.17 L93.87,187.21 L94.55,187.35 L95.23,186.90 L95.92,187.49 L96.60,187.87 L97.28,187.74 L97.96,187.68 L98.65,187.02 L99.33,188.05 L100.01,188.19 L100.69,187.30 L101.38,187.45 L102.06,186.85 L102.74,188.38 L103.42,187.65 L104.11,187.73 L104.79,188.62 L105.47,186.58 L106.15,188.32 L106.84,188.66 L107.52,187.87 L108.20,188.63 L108.88,187.66 L109.57,188.35 L110.25,188.91 L110.93,189.13 L111.61,187.68 L112.30,188.76 L112.98,187.69 L113.66,188.57 L114.34,187.68 L115.03,189.26 L115.71,189.54 L116.39,189.66 L117.07,188.59 L117.76,189.17 L118.44,189.97 L119.12,190.69 L119.80,189.53 L120.49,189.05 L121.17,190.06 L121.85,191.54 L122.54,191.64 L123.22,191.67 L123.90,191.65 L124.58,192.11 L125.27,192.23 L125.95,191.05 L126.63,190.66 L127.31,192.39 L128.00,190.81 L128.68,192.09 L129.36,191.52 L130.04,191.42 L130.73,191.53 L131.41,193.73 L132.09,193.28 L132.77,192.77 L133.46,192.16 L134.14,194.25 L134.82,193.95 L135.50,192.87 L136.19,194.68 L136.87,194.22 L137.55,194.51 L138.23,193.89 L138.92,193.49 L139.60,195.35 L140.28,194.24 L140.96,194.44 L141.65,194.40 L142.33,195.23 L143.01,194.59 L143.69,196.04 L144.38,196.12 L145.06,196.73 L145.74,195.69 L146.42,196.55 L147.11,197.22 L147.79,197.64 L148.47,196.59 L149.15,197.05 L149.84,197.00 L150.52,197.92 L151.20,197.89 L151.88,198.83 L152.57,197.78 L153.25,199.51 L153.93,198.71 L154.61,198.25 L155.30,198.62 L155.98,200.12 L156.66,200.00 L157.34,198.83 L158.03,199.47 L158.71,199.14 L159.39,199.34 L160.07,200.49" fill="none" stroke="#a23444" stroke-width="0.45" opacity="0.9"/>
<g fill="none" stroke="#a23444" stroke-width="0.62"><circle cx="42.00" cy="240.37" r="1.55"/><circle cx="42.68" cy="239.61" r="1.55"/><circle cx="43.37" cy="240.27" r="1.55"/><circle cx="44.05" cy="241.15" r="1.55"/><circle cx="44.73" cy="239.90" r="1.55"/><circle cx="45.41" cy="240.75" r="1.55"/><circle cx="46.09" cy="240.50" r="1.55"/><circle cx="46.78" cy="240.23" r="1.55"/><circle cx="47.46" cy="241.86" r="1.55"/><circle cx="48.14" cy="240.15" r="1.55"/><circle cx="48.83" cy="240.40" r="1.55"/><circle cx="49.51" cy="240.79" r="1.55"/><circle cx="50.19" cy="240.73" r="1.55"/><circle cx="50.87" cy="240.88" r="1.55"/><circle cx="51.55" cy="241.49" r="1.55"/><circle cx="52.24" cy="240.75" r="1.55"/><circle cx="52.92" cy="241.86" r="1.55"/><circle cx="53.60" cy="240.83" r="1.55"/><circle cx="54.29" cy="240.52" r="1.55"/><circle cx="54.97" cy="240.98" r="1.55"/><circle cx="55.65" cy="225.12" r="1.55"/><circle cx="56.33" cy="191.52" r="1.55"/><circle cx="57.02" cy="170.55" r="1.55"/><circle cx="57.70" cy="170.87" r="1.55"/><circle cx="58.38" cy="170.55" r="1.55"/><circle cx="59.06" cy="170.61" r="1.55"/><circle cx="59.75" cy="170.85" r="1.55"/><circle cx="60.43" cy="170.69" r="1.55"/><circle cx="61.11" cy="170.73" r="1.55"/><circle cx="61.79" cy="170.79" r="1.55"/><circle cx="62.47" cy="170.56" r="1.55"/><circle cx="63.16" cy="170.37" r="1.55"/><circle cx="63.84" cy="170.71" r="1.55"/><circle cx="64.52" cy="171.60" r="1.55"/><circle cx="65.20" cy="172.81" r="1.55"/><circle cx="65.89" cy="174.85" r="1.55"/><circle cx="66.57" cy="174.38" r="1.55"/><circle cx="67.25" cy="176.13" r="1.55"/><circle cx="67.93" cy="176.56" r="1.55"/><circle cx="68.62" cy="178.10" r="1.55"/><circle cx="69.30" cy="178.54" r="1.55"/><circle cx="69.98" cy="179.93" r="1.55"/><circle cx="70.66" cy="179.38" r="1.55"/><circle cx="71.35" cy="179.60" r="1.55"/><circle cx="72.03" cy="180.25" r="1.55"/><circle cx="72.71" cy="181.70" r="1.55"/><circle cx="73.39" cy="181.48" r="1.55"/><circle cx="74.08" cy="182.58" r="1.55"/><circle cx="74.76" cy="183.92" r="1.55"/><circle cx="75.44" cy="184.57" r="1.55"/><circle cx="76.12" cy="184.98" r="1.55"/><circle cx="76.81" cy="185.12" r="1.55"/><circle cx="77.49" cy="185.32" r="1.55"/><circle cx="78.17" cy="184.67" r="1.55"/><circle cx="78.85" cy="184.33" r="1.55"/><circle cx="79.54" cy="184.80" r="1.55"/><circle cx="80.22" cy="185.17" r="1.55"/><circle cx="80.90" cy="184.77" r="1.55"/><circle cx="81.58" cy="185.65" r="1.55"/><circle cx="82.27" cy="185.41" r="1.55"/><circle cx="82.95" cy="184.86" r="1.55"/><circle cx="83.63" cy="185.77" r="1.55"/><circle cx="84.31" cy="186.37" r="1.55"/><circle cx="85.00" cy="184.84" r="1.55"/><circle cx="85.68" cy="185.30" r="1.55"/><circle cx="86.36" cy="186.16" r="1.55"/><circle cx="87.04" cy="186.21" r="1.55"/><circle cx="87.73" cy="185.92" r="1.55"/><circle cx="88.41" cy="185.83" r="1.55"/><circle cx="89.09" cy="186.73" r="1.55"/><circle cx="89.77" cy="187.29" r="1.55"/><circle cx="90.46" cy="186.89" r="1.55"/><circle cx="91.14" cy="185.67" r="1.55"/><circle cx="91.82" cy="187.16" r="1.55"/><circle cx="92.50" cy="186.52" r="1.55"/><circle cx="93.19" cy="187.17" r="1.55"/><circle cx="93.87" cy="187.21" r="1.55"/><circle cx="94.55" cy="187.35" r="1.55"/><circle cx="95.23" cy="186.90" r="1.55"/><circle cx="95.92" cy="187.49" r="1.55"/><circle cx="96.60" cy="187.87" r="1.55"/><circle cx="97.28" cy="187.74" r="1.55"/><circle cx="97.96" cy="187.68" r="1.55"/><circle cx="98.65" cy="187.02" r="1.55"/><circle cx="99.33" cy="188.05" r="1.55"/><circle cx="100.01" cy="188.19" r="1.55"/><circle cx="100.69" cy="187.30" r="1.55"/><circle cx="101.38" cy="187.45" r="1.55"/><circle cx="102.06" cy="186.85" r="1.55"/><circle cx="102.74" cy="188.38" r="1.55"/><circle cx="103.42" cy="187.65" r="1.55"/><circle cx="104.11" cy="187.73" r="1.55"/><circle cx="104.79" cy="188.62" r="1.55"/><circle cx="105.47" cy="186.58" r="1.55"/><circle cx="106.15" cy="188.32" r="1.55"/><circle cx="106.84" cy="188.66" r="1.55"/><circle cx="107.52" cy="187.87" r="1.55"/><circle cx="108.20" cy="188.63" r="1.55"/><circle cx="108.88" cy="187.66" r="1.55"/><circle cx="109.57" cy="188.35" r="1.55"/><circle cx="110.25" cy="188.91" r="1.55"/><circle cx="110.93" cy="189.13" r="1.55"/><circle cx="111.61" cy="187.68" r="1.55"/><circle cx="112.30" cy="188.76" r="1.55"/><circle cx="112.98" cy="187.69" r="1.55"/><circle cx="113.66" cy="188.57" r="1.55"/><circle cx="114.34" cy="187.68" r="1.55"/><circle cx="115.03" cy="189.26" r="1.55"/><circle cx="115.71" cy="189.54" r="1.55"/><circle cx="116.39" cy="189.66" r="1.55"/><circle cx="117.07" cy="188.59" r="1.55"/><circle cx="117.76" cy="189.17" r="1.55"/><circle cx="118.44" cy="189.97" r="1.55"/><circle cx="119.12" cy="190.69" r="1.55"/><circle cx="119.80" cy="189.53" r="1.55"/><circle cx="120.49" cy="189.05" r="1.55"/><circle cx="121.17" cy="190.06" r="1.55"/><circle cx="121.85" cy="191.54" r="1.55"/><circle cx="122.54" cy="191.64" r="1.55"/><circle cx="123.22" cy="191.67" r="1.55"/><circle cx="123.90" cy="191.65" r="1.55"/><circle cx="124.58" cy="192.11" r="1.55"/><circle cx="125.27" cy="192.23" r="1.55"/><circle cx="125.95" cy="191.05" r="1.55"/><circle cx="126.63" cy="190.66" r="1.55"/><circle cx="127.31" cy="192.39" r="1.55"/><circle cx="128.00" cy="190.81" r="1.55"/><circle cx="128.68" cy="192.09" r="1.55"/><circle cx="129.36" cy="191.52" r="1.55"/><circle cx="130.04" cy="191.42" r="1.55"/><circle cx="130.73" cy="191.53" r="1.55"/><circle cx="131.41" cy="193.73" r="1.55"/><circle cx="132.09" cy="193.28" r="1.55"/><circle cx="132.77" cy="192.77" r="1.55"/><circle cx="133.46" cy="192.16" r="1.55"/><circle cx="134.14" cy="194.25" r="1.55"/><circle cx="134.82" cy="193.95" r="1.55"/><circle cx="135.50" cy="192.87" r="1.55"/><circle cx="136.19" cy="194.68" r="1.55"/><circle cx="136.87" cy="194.22" r="1.55"/><circle cx="137.55" cy="194.51" r="1.55"/><circle cx="138.23" cy="193.89" r="1.55"/><circle cx="138.92" cy="193.49" r="1.55"/><circle cx="139.60" cy="195.35" r="1.55"/><circle cx="140.28" cy="194.24" r="1.55"/><circle cx="140.96" cy="194.44" r="1.55"/><circle cx="141.65" cy="194.40" r="1.55"/><circle cx="142.33" cy="195.23" r="1.55"/><circle cx="143.01" cy="194.59" r="1.55"/><circle cx="143.69" cy="196.04" r="1.55"/><circle cx="144.38" cy="196.12" r="1.55"/><circle cx="145.06" cy="196.73" r="1.55"/><circle cx="145.74" cy="195.69" r="1.55"/><circle cx="146.42" cy="196.55" r="1.55"/><circle cx="147.11" cy="197.22" r="1.55"/><circle cx="147.79" cy="197.64" r="1.55"/><circle cx="148.47" cy="196.59" r="1.55"/><circle cx="149.15" cy="197.05" r="1.55"/><circle cx="149.84" cy="197.00" r="1.55"/><circle cx="150.52" cy="197.92" r="1.55"/><circle cx="151.20" cy="197.89" r="1.55"/><circle cx="151.88" cy="198.83" r="1.55"/><circle cx="152.57" cy="197.78" r="1.55"/><circle cx="153.25" cy="199.51" r="1.55"/><circle cx="153.93" cy="198.71" r="1.55"/><circle cx="154.61" cy="198.25" r="1.55"/><circle cx="155.30" cy="198.62" r="1.55"/><circle cx="155.98" cy="200.12" r="1.55"/><circle cx="156.66" cy="200.00" r="1.55"/><circle cx="157.34" cy="198.83" r="1.55"/><circle cx="158.03" cy="199.47" r="1.55"/><circle cx="158.71" cy="199.14" r="1.55"/><circle cx="159.39" cy="199.34" r="1.55"/><circle cx="160.07" cy="200.49" r="1.55"/></g>
<path d="M42.00,240.15 L42.68,240.53 L43.37,241.43 L44.05,241.36 L44.73,242.04 L45.41,241.32 L46.09,240.08 L46.78,242.00 L47.46,240.97 L48.14,242.00 L48.83,242.08 L49.51,240.81 L50.19,241.74 L50.87,242.18 L51.55,241.96 L52.24,240.86 L52.92,241.01 L53.60,242.30 L54.29,241.82 L54.97,240.18 L55.65,226.02 L56.33,192.41 L57.02,170.77 L57.70,170.60 L58.38,170.68 L59.06,170.60 L59.75,170.71 L60.43,170.87 L61.11,170.87 L61.79,170.92 L62.47,170.58 L63.16,170.90 L63.84,171.10 L64.52,172.70 L65.20,175.61 L65.89,176.08 L66.57,179.92 L67.25,180.91 L67.93,183.07 L68.62,183.33 L69.30,185.43 L69.98,186.99 L70.66,188.34 L71.35,189.23 L72.03,191.33 L72.71,191.67 L73.39,192.95 L74.08,194.62 L74.76,193.91 L75.44,195.37 L76.12,195.80 L76.81,198.00 L77.49,197.82 L78.17,198.56 L78.85,198.53 L79.54,200.56 L80.22,200.53 L80.90,200.78 L81.58,202.28 L82.27,201.77 L82.95,201.93 L83.63,203.19 L84.31,203.26 L85.00,203.92 L85.68,205.37 L86.36,205.63 L87.04,204.50 L87.73,206.14 L88.41,206.09 L89.09,207.03 L89.77,206.89 L90.46,207.17 L91.14,205.62 L91.82,206.24 L92.50,206.07 L93.19,205.98 L93.87,206.98 L94.55,206.42 L95.23,207.38 L95.92,207.71 L96.60,206.59 L97.28,206.75 L97.96,206.72 L98.65,207.83 L99.33,207.25 L100.01,208.14 L100.69,206.88 L101.38,207.12 L102.06,208.60 L102.74,207.23 L103.42,208.98 L104.11,209.25 L104.79,207.91 L105.47,208.94 L106.15,208.50 L106.84,208.30 L107.52,209.71 L108.20,208.20 L108.88,209.32 L109.57,209.04 L110.25,209.30 L110.93,208.48 L111.61,208.54 L112.30,209.63 L112.98,210.12 L113.66,209.74 L114.34,209.56 L115.03,210.38 L115.71,210.28 L116.39,208.98 L117.07,209.18 L117.76,208.63 L118.44,208.69 L119.12,208.99 L119.80,210.19 L120.49,210.73 L121.17,210.48 L121.85,210.24 L122.54,210.20 L123.22,210.26 L123.90,210.76 L124.58,209.75 L125.27,211.13 L125.95,210.82 L126.63,209.97 L127.31,210.25 L128.00,211.49 L128.68,211.71 L129.36,210.54 L130.04,212.42 L130.73,212.25 L131.41,211.45 L132.09,211.54 L132.77,212.46 L133.46,212.82 L134.14,212.57 L134.82,211.40 L135.50,212.18 L136.19,211.12 L136.87,211.66 L137.55,211.32 L138.23,213.53 L138.92,213.29 L139.60,213.78 L140.28,212.93 L140.96,213.24 L141.65,213.98 L142.33,212.97 L143.01,214.08 L143.69,213.69 L144.38,213.93 L145.06,212.79 L145.74,213.74 L146.42,214.20 L147.11,214.78 L147.79,214.01 L148.47,213.66 L149.15,213.65 L149.84,213.22 L150.52,213.55 L151.20,214.91 L151.88,215.25 L152.57,213.95 L153.25,213.98 L153.93,214.71 L154.61,214.08 L155.30,214.81 L155.98,215.51 L156.66,215.86 L157.34,216.30 L158.03,214.99 L158.71,214.52 L159.39,214.59 L160.07,215.68" fill="none" stroke="#8e9420" stroke-width="0.45" opacity="0.9"/>
<g fill="none" stroke="#8e9420" stroke-width="0.62"><circle cx="42.00" cy="240.15" r="1.55"/><circle cx="42.68" cy="240.53" r="1.55"/><circle cx="43.37" cy="241.43" r="1.55"/><circle cx="44.05" cy="241.36" r="1.55"/><circle cx="44.73" cy="242.04" r="1.55"/><circle cx="45.41" cy="241.32" r="1.55"/><circle cx="46.09" cy="240.08" r="1.55"/><circle cx="46.78" cy="242.00" r="1.55"/><circle cx="47.46" cy="240.97" r="1.55"/><circle cx="48.14" cy="242.00" r="1.55"/><circle cx="48.83" cy="242.08" r="1.55"/><circle cx="49.51" cy="240.81" r="1.55"/><circle cx="50.19" cy="241.74" r="1.55"/><circle cx="50.87" cy="242.18" r="1.55"/><circle cx="51.55" cy="241.96" r="1.55"/><circle cx="52.24" cy="240.86" r="1.55"/><circle cx="52.92" cy="241.01" r="1.55"/><circle cx="53.60" cy="242.30" r="1.55"/><circle cx="54.29" cy="241.82" r="1.55"/><circle cx="54.97" cy="240.18" r="1.55"/><circle cx="55.65" cy="226.02" r="1.55"/><circle cx="56.33" cy="192.41" r="1.55"/><circle cx="57.02" cy="170.77" r="1.55"/><circle cx="57.70" cy="170.60" r="1.55"/><circle cx="58.38" cy="170.68" r="1.55"/><circle cx="59.06" cy="170.60" r="1.55"/><circle cx="59.75" cy="170.71" r="1.55"/><circle cx="60.43" cy="170.87" r="1.55"/><circle cx="61.11" cy="170.87" r="1.55"/><circle cx="61.79" cy="170.92" r="1.55"/><circle cx="62.47" cy="170.58" r="1.55"/><circle cx="63.16" cy="170.90" r="1.55"/><circle cx="63.84" cy="171.10" r="1.55"/><circle cx="64.52" cy="172.70" r="1.55"/><circle cx="65.20" cy="175.61" r="1.55"/><circle cx="65.89" cy="176.08" r="1.55"/><circle cx="66.57" cy="179.92" r="1.55"/><circle cx="67.25" cy="180.91" r="1.55"/><circle cx="67.93" cy="183.07" r="1.55"/><circle cx="68.62" cy="183.33" r="1.55"/><circle cx="69.30" cy="185.43" r="1.55"/><circle cx="69.98" cy="186.99" r="1.55"/><circle cx="70.66" cy="188.34" r="1.55"/><circle cx="71.35" cy="189.23" r="1.55"/><circle cx="72.03" cy="191.33" r="1.55"/><circle cx="72.71" cy="191.67" r="1.55"/><circle cx="73.39" cy="192.95" r="1.55"/><circle cx="74.08" cy="194.62" r="1.55"/><circle cx="74.76" cy="193.91" r="1.55"/><circle cx="75.44" cy="195.37" r="1.55"/><circle cx="76.12" cy="195.80" r="1.55"/><circle cx="76.81" cy="198.00" r="1.55"/><circle cx="77.49" cy="197.82" r="1.55"/><circle cx="78.17" cy="198.56" r="1.55"/><circle cx="78.85" cy="198.53" r="1.55"/><circle cx="79.54" cy="200.56" r="1.55"/><circle cx="80.22" cy="200.53" r="1.55"/><circle cx="80.90" cy="200.78" r="1.55"/><circle cx="81.58" cy="202.28" r="1.55"/><circle cx="82.27" cy="201.77" r="1.55"/><circle cx="82.95" cy="201.93" r="1.55"/><circle cx="83.63" cy="203.19" r="1.55"/><circle cx="84.31" cy="203.26" r="1.55"/><circle cx="85.00" cy="203.92" r="1.55"/><circle cx="85.68" cy="205.37" r="1.55"/><circle cx="86.36" cy="205.63" r="1.55"/><circle cx="87.04" cy="204.50" r="1.55"/><circle cx="87.73" cy="206.14" r="1.55"/><circle cx="88.41" cy="206.09" r="1.55"/><circle cx="89.09" cy="207.03" r="1.55"/><circle cx="89.77" cy="206.89" r="1.55"/><circle cx="90.46" cy="207.17" r="1.55"/><circle cx="91.14" cy="205.62" r="1.55"/><circle cx="91.82" cy="206.24" r="1.55"/><circle cx="92.50" cy="206.07" r="1.55"/><circle cx="93.19" cy="205.98" r="1.55"/><circle cx="93.87" cy="206.98" r="1.55"/><circle cx="94.55" cy="206.42" r="1.55"/><circle cx="95.23" cy="207.38" r="1.55"/><circle cx="95.92" cy="207.71" r="1.55"/><circle cx="96.60" cy="206.59" r="1.55"/><circle cx="97.28" cy="206.75" r="1.55"/><circle cx="97.96" cy="206.72" r="1.55"/><circle cx="98.65" cy="207.83" r="1.55"/><circle cx="99.33" cy="207.25" r="1.55"/><circle cx="100.01" cy="208.14" r="1.55"/><circle cx="100.69" cy="206.88" r="1.55"/><circle cx="101.38" cy="207.12" r="1.55"/><circle cx="102.06" cy="208.60" r="1.55"/><circle cx="102.74" cy="207.23" r="1.55"/><circle cx="103.42" cy="208.98" r="1.55"/><circle cx="104.11" cy="209.25" r="1.55"/><circle cx="104.79" cy="207.91" r="1.55"/><circle cx="105.47" cy="208.94" r="1.55"/><circle cx="106.15" cy="208.50" r="1.55"/><circle cx="106.84" cy="208.30" r="1.55"/><circle cx="107.52" cy="209.71" r="1.55"/><circle cx="108.20" cy="208.20" r="1.55"/><circle cx="108.88" cy="209.32" r="1.55"/><circle cx="109.57" cy="209.04" r="1.55"/><circle cx="110.25" cy="209.30" r="1.55"/><circle cx="110.93" cy="208.48" r="1.55"/><circle cx="111.61" cy="208.54" r="1.55"/><circle cx="112.30" cy="209.63" r="1.55"/><circle cx="112.98" cy="210.12" r="1.55"/><circle cx="113.66" cy="209.74" r="1.55"/><circle cx="114.34" cy="209.56" r="1.55"/><circle cx="115.03" cy="210.38" r="1.55"/><circle cx="115.71" cy="210.28" r="1.55"/><circle cx="116.39" cy="208.98" r="1.55"/><circle cx="117.07" cy="209.18" r="1.55"/><circle cx="117.76" cy="208.63" r="1.55"/><circle cx="118.44" cy="208.69" r="1.55"/><circle cx="119.12" cy="208.99" r="1.55"/><circle cx="119.80" cy="210.19" r="1.55"/><circle cx="120.49" cy="210.73" r="1.55"/><circle cx="121.17" cy="210.48" r="1.55"/><circle cx="121.85" cy="210.24" r="1.55"/><circle cx="122.54" cy="210.20" r="1.55"/><circle cx="123.22" cy="210.26" r="1.55"/><circle cx="123.90" cy="210.76" r="1.55"/><circle cx="124.58" cy="209.75" r="1.55"/><circle cx="125.27" cy="211.13" r="1.55"/><circle cx="125.95" cy="210.82" r="1.55"/><circle cx="126.63" cy="209.97" r="1.55"/><circle cx="127.31" cy="210.25" r="1.55"/><circle cx="128.00" cy="211.49" r="1.55"/><circle cx="128.68" cy="211.71" r="1.55"/><circle cx="129.36" cy="210.54" r="1.55"/><circle cx="130.04" cy="212.42" r="1.55"/><circle cx="130.73" cy="212.25" r="1.55"/><circle cx="131.41" cy="211.45" r="1.55"/><circle cx="132.09" cy="211.54" r="1.55"/><circle cx="132.77" cy="212.46" r="1.55"/><circle cx="133.46" cy="212.82" r="1.55"/><circle cx="134.14" cy="212.57" r="1.55"/><circle cx="134.82" cy="211.40" r="1.55"/><circle cx="135.50" cy="212.18" r="1.55"/><circle cx="136.19" cy="211.12" r="1.55"/><circle cx="136.87" cy="211.66" r="1.55"/><circle cx="137.55" cy="211.32" r="1.55"/><circle cx="138.23" cy="213.53" r="1.55"/><circle cx="138.92" cy="213.29" r="1.55"/><circle cx="139.60" cy="213.78" r="1.55"/><circle cx="140.28" cy="212.93" r="1.55"/><circle cx="140.96" cy="213.24" r="1.55"/><circle cx="141.65" cy="213.98" r="1.55"/><circle cx="142.33" cy="212.97" r="1.55"/><circle cx="143.01" cy="214.08" r="1.55"/><circle cx="143.69" cy="213.69" r="1.55"/><circle cx="144.38" cy="213.93" r="1.55"/><circle cx="145.06" cy="212.79" r="1.55"/><circle cx="145.74" cy="213.74" r="1.55"/><circle cx="146.42" cy="214.20" r="1.55"/><circle cx="147.11" cy="214.78" r="1.55"/><circle cx="147.79" cy="214.01" r="1.55"/><circle cx="148.47" cy="213.66" r="1.55"/><circle cx="149.15" cy="213.65" r="1.55"/><circle cx="149.84" cy="213.22" r="1.55"/><circle cx="150.52" cy="213.55" r="1.55"/><circle cx="151.20" cy="214.91" r="1.55"/><circle cx="151.88" cy="215.25" r="1.55"/><circle cx="152.57" cy="213.95" r="1.55"/><circle cx="153.25" cy="213.98" r="1.55"/><circle cx="153.93" cy="214.71" r="1.55"/><circle cx="154.61" cy="214.08" r="1.55"/><circle cx="155.30" cy="214.81" r="1.55"/><circle cx="155.98" cy="215.51" r="1.55"/><circle cx="156.66" cy="215.86" r="1.55"/><circle cx="157.34" cy="216.30" r="1.55"/><circle cx="158.03" cy="214.99" r="1.55"/><circle cx="158.71" cy="214.52" r="1.55"/><circle cx="159.39" cy="214.59" r="1.55"/><circle cx="160.07" cy="215.68" r="1.55"/></g>
<path d="M42.00,241.04 L42.68,240.46 L43.37,240.73 L44.05,241.21 L44.73,241.65 L45.41,241.42 L46.09,242.21 L46.78,242.20 L47.46,241.08 L48.14,240.40 L48.83,241.41 L49.51,241.73 L50.19,241.87 L50.87,241.64 L51.55,240.87 L52.24,241.67 L52.92,240.54 L53.60,242.35 L54.29,242.01 L54.97,241.55 L55.65,228.21 L56.33,208.58 L57.02,189.38 L57.70,183.67 L58.38,185.04 L59.06,187.15 L59.75,186.98 L60.43,188.09 L61.11,189.28 L61.79,190.80 L62.47,190.89 L63.16,191.49 L63.84,194.36 L64.52,194.14 L65.20,195.86 L65.89,196.60 L66.57,196.79 L67.25,197.70 L67.93,199.47 L68.62,201.12 L69.30,199.78 L69.98,201.73 L70.66,201.57 L71.35,200.86 L72.03,202.30 L72.71,202.70 L73.39,201.47 L74.08,201.77 L74.76,203.47 L75.44,203.59 L76.12,204.13 L76.81,204.76 L77.49,204.79 L78.17,203.44 L78.85,205.75 L79.54,205.71 L80.22,206.07 L80.90,206.63 L81.58,205.85 L82.27,205.42 L82.95,205.26 L83.63,205.78 L84.31,205.42 L85.00,207.31 L85.68,206.74 L86.36,205.28 L87.04,207.34 L87.73,206.95 L88.41,206.53 L89.09,207.07 L89.77,206.50 L90.46,207.68 L91.14,207.31 L91.82,205.75 L92.50,207.64 L93.19,205.99 L93.87,207.68 L94.55,205.91 L95.23,206.68 L95.92,206.80 L96.60,207.99 L97.28,208.25 L97.96,206.72 L98.65,208.09 L99.33,208.12 L100.01,206.76 L100.69,206.70 L101.38,208.61 L102.06,206.62 L102.74,207.63 L103.42,208.03 L104.11,208.71 L104.79,208.13 L105.47,206.85 L106.15,208.50 L106.84,208.89 L107.52,208.92 L108.20,209.07 L108.88,208.69 L109.57,207.56 L110.25,209.57 L110.93,209.43 L111.61,207.88 L112.30,207.88 L112.98,208.04 L113.66,209.82 L114.34,209.70 L115.03,208.49 L115.71,209.66 L116.39,209.30 L117.07,210.30 L117.76,211.08 L118.44,210.48 L119.12,209.70 L119.80,209.75 L120.49,210.36 L121.17,210.72 L121.85,210.68 L122.54,211.02 L123.22,210.94 L123.90,210.40 L124.58,211.94 L125.27,211.19 L125.95,210.55 L126.63,210.87 L127.31,212.50 L128.00,210.86 L128.68,211.27 L129.36,212.90 L130.04,212.81 L130.73,213.08 L131.41,213.54 L132.09,211.59 L132.77,212.99 L133.46,212.08 L134.14,213.90 L134.82,214.24 L135.50,212.44 L136.19,212.73 L136.87,212.40 L137.55,213.20 L138.23,213.68 L138.92,213.26 L139.60,214.88 L140.28,214.00 L140.96,214.34 L141.65,215.11 L142.33,214.21 L143.01,214.95 L143.69,214.66 L144.38,215.07 L145.06,215.31 L145.74,215.34 L146.42,214.91 L147.11,214.18 L147.79,214.39 L148.47,214.67 L149.15,214.85 L149.84,216.20 L150.52,214.77 L151.20,216.47 L151.88,216.92 L152.57,216.19 L153.25,215.78 L153.93,216.78 L154.61,216.21 L155.30,217.14 L155.98,215.72 L156.66,216.99 L157.34,217.05 L158.03,217.05 L158.71,216.40 L159.39,216.26 L160.07,217.41" fill="none" stroke="#f08a18" stroke-width="0.45" opacity="0.9"/>
<g fill="none" stroke="#f08a18" stroke-width="0.62"><circle cx="42.00" cy="241.04" r="1.55"/><circle cx="42.68" cy="240.46" r="1.55"/><circle cx="43.37" cy="240.73" r="1.55"/><circle cx="44.05" cy="241.21" r="1.55"/><circle cx="44.73" cy="241.65" r="1.55"/><circle cx="45.41" cy="241.42" r="1.55"/><circle cx="46.09" cy="242.21" r="1.55"/><circle cx="46.78" cy="242.20" r="1.55"/><circle cx="47.46" cy="241.08" r="1.55"/><circle cx="48.14" cy="240.40" r="1.55"/><circle cx="48.83" cy="241.41" r="1.55"/><circle cx="49.51" cy="241.73" r="1.55"/><circle cx="50.19" cy="241.87" r="1.55"/><circle cx="50.87" cy="241.64" r="1.55"/><circle cx="51.55" cy="240.87" r="1.55"/><circle cx="52.24" cy="241.67" r="1.55"/><circle cx="52.92" cy="240.54" r="1.55"/><circle cx="53.60" cy="242.35" r="1.55"/><circle cx="54.29" cy="242.01" r="1.55"/><circle cx="54.97" cy="241.55" r="1.55"/><circle cx="55.65" cy="228.21" r="1.55"/><circle cx="56.33" cy="208.58" r="1.55"/><circle cx="57.02" cy="189.38" r="1.55"/><circle cx="57.70" cy="183.67" r="1.55"/><circle cx="58.38" cy="185.04" r="1.55"/><circle cx="59.06" cy="187.15" r="1.55"/><circle cx="59.75" cy="186.98" r="1.55"/><circle cx="60.43" cy="188.09" r="1.55"/><circle cx="61.11" cy="189.28" r="1.55"/><circle cx="61.79" cy="190.80" r="1.55"/><circle cx="62.47" cy="190.89" r="1.55"/><circle cx="63.16" cy="191.49" r="1.55"/><circle cx="63.84" cy="194.36" r="1.55"/><circle cx="64.52" cy="194.14" r="1.55"/><circle cx="65.20" cy="195.86" r="1.55"/><circle cx="65.89" cy="196.60" r="1.55"/><circle cx="66.57" cy="196.79" r="1.55"/><circle cx="67.25" cy="197.70" r="1.55"/><circle cx="67.93" cy="199.47" r="1.55"/><circle cx="68.62" cy="201.12" r="1.55"/><circle cx="69.30" cy="199.78" r="1.55"/><circle cx="69.98" cy="201.73" r="1.55"/><circle cx="70.66" cy="201.57" r="1.55"/><circle cx="71.35" cy="200.86" r="1.55"/><circle cx="72.03" cy="202.30" r="1.55"/><circle cx="72.71" cy="202.70" r="1.55"/><circle cx="73.39" cy="201.47" r="1.55"/><circle cx="74.08" cy="201.77" r="1.55"/><circle cx="74.76" cy="203.47" r="1.55"/><circle cx="75.44" cy="203.59" r="1.55"/><circle cx="76.12" cy="204.13" r="1.55"/><circle cx="76.81" cy="204.76" r="1.55"/><circle cx="77.49" cy="204.79" r="1.55"/><circle cx="78.17" cy="203.44" r="1.55"/><circle cx="78.85" cy="205.75" r="1.55"/><circle cx="79.54" cy="205.71" r="1.55"/><circle cx="80.22" cy="206.07" r="1.55"/><circle cx="80.90" cy="206.63" r="1.55"/><circle cx="81.58" cy="205.85" r="1.55"/><circle cx="82.27" cy="205.42" r="1.55"/><circle cx="82.95" cy="205.26" r="1.55"/><circle cx="83.63" cy="205.78" r="1.55"/><circle cx="84.31" cy="205.42" r="1.55"/><circle cx="85.00" cy="207.31" r="1.55"/><circle cx="85.68" cy="206.74" r="1.55"/><circle cx="86.36" cy="205.28" r="1.55"/><circle cx="87.04" cy="207.34" r="1.55"/><circle cx="87.73" cy="206.95" r="1.55"/><circle cx="88.41" cy="206.53" r="1.55"/><circle cx="89.09" cy="207.07" r="1.55"/><circle cx="89.77" cy="206.50" r="1.55"/><circle cx="90.46" cy="207.68" r="1.55"/><circle cx="91.14" cy="207.31" r="1.55"/><circle cx="91.82" cy="205.75" r="1.55"/><circle cx="92.50" cy="207.64" r="1.55"/><circle cx="93.19" cy="205.99" r="1.55"/><circle cx="93.87" cy="207.68" r="1.55"/><circle cx="94.55" cy="205.91" r="1.55"/><circle cx="95.23" cy="206.68" r="1.55"/><circle cx="95.92" cy="206.80" r="1.55"/><circle cx="96.60" cy="207.99" r="1.55"/><circle cx="97.28" cy="208.25" r="1.55"/><circle cx="97.96" cy="206.72" r="1.55"/><circle cx="98.65" cy="208.09" r="1.55"/><circle cx="99.33" cy="208.12" r="1.55"/><circle cx="100.01" cy="206.76" r="1.55"/><circle cx="100.69" cy="206.70" r="1.55"/><circle cx="101.38" cy="208.61" r="1.55"/><circle cx="102.06" cy="206.62" r="1.55"/><circle cx="102.74" cy="207.63" r="1.55"/><circle cx="103.42" cy="208.03" r="1.55"/><circle cx="104.11" cy="208.71" r="1.55"/><circle cx="104.79" cy="208.13" r="1.55"/><circle cx="105.47" cy="206.85" r="1.55"/><circle cx="106.15" cy="208.50" r="1.55"/><circle cx="106.84" cy="208.89" r="1.55"/><circle cx="107.52" cy="208.92" r="1.55"/><circle cx="108.20" cy="209.07" r="1.55"/><circle cx="108.88" cy="208.69" r="1.55"/><circle cx="109.57" cy="207.56" r="1.55"/><circle cx="110.25" cy="209.57" r="1.55"/><circle cx="110.93" cy="209.43" r="1.55"/><circle cx="111.61" cy="207.88" r="1.55"/><circle cx="112.30" cy="207.88" r="1.55"/><circle cx="112.98" cy="208.04" r="1.55"/><circle cx="113.66" cy="209.82" r="1.55"/><circle cx="114.34" cy="209.70" r="1.55"/><circle cx="115.03" cy="208.49" r="1.55"/><circle cx="115.71" cy="209.66" r="1.55"/><circle cx="116.39" cy="209.30" r="1.55"/><circle cx="117.07" cy="210.30" r="1.55"/><circle cx="117.76" cy="211.08" r="1.55"/><circle cx="118.44" cy="210.48" r="1.55"/><circle cx="119.12" cy="209.70" r="1.55"/><circle cx="119.80" cy="209.75" r="1.55"/><circle cx="120.49" cy="210.36" r="1.55"/><circle cx="121.17" cy="210.72" r="1.55"/><circle cx="121.85" cy="210.68" r="1.55"/><circle cx="122.54" cy="211.02" r="1.55"/><circle cx="123.22" cy="210.94" r="1.55"/><circle cx="123.90" cy="210.40" r="1.55"/><circle cx="124.58" cy="211.94" r="1.55"/><circle cx="125.27" cy="211.19" r="1.55"/><circle cx="125.95" cy="210.55" r="1.55"/><circle cx="126.63" cy="210.87" r="1.55"/><circle cx="127.31" cy="212.50" r="1.55"/><circle cx="128.00" cy="210.86" r="1.55"/><circle cx="128.68" cy="211.27" r="1.55"/><circle cx="129.36" cy="212.90" r="1.55"/><circle cx="130.04" cy="212.81" r="1.55"/><circle cx="130.73" cy="213.08" r="1.55"/><circle cx="131.41" cy="213.54" r="1.55"/><circle cx="132.09" cy="211.59" r="1.55"/><circle cx="132.77" cy="212.99" r="1.55"/><circle cx="133.46" cy="212.08" r="1.55"/><circle cx="134.14" cy="213.90" r="1.55"/><circle cx="134.82" cy="214.24" r="1.55"/><circle cx="135.50" cy="212.44" r="1.55"/><circle cx="136.19" cy="212.73" r="1.55"/><circle cx="136.87" cy="212.40" r="1.55"/><circle cx="137.55" cy="213.20" r="1.55"/><circle cx="138.23" cy="213.68" r="1.55"/><circle cx="138.92" cy="213.26" r="1.55"/><circle cx="139.60" cy="214.88" r="1.55"/><circle cx="140.28" cy="214.00" r="1.55"/><circle cx="140.96" cy="214.34" r="1.55"/><circle cx="141.65" cy="215.11" r="1.55"/><circle cx="142.33" cy="214.21" r="1.55"/><circle cx="143.01" cy="214.95" r="1.55"/><circle cx="143.69" cy="214.66" r="1.55"/><circle cx="144.38" cy="215.07" r="1.55"/><circle cx="145.06" cy="215.31" r="1.55"/><circle cx="145.74" cy="215.34" r="1.55"/><circle cx="146.42" cy="214.91" r="1.55"/><circle cx="147.11" cy="214.18" r="1.55"/><circle cx="147.79" cy="214.39" r="1.55"/><circle cx="148.47" cy="214.67" r="1.55"/><circle cx="149.15" cy="214.85" r="1.55"/><circle cx="149.84" cy="216.20" r="1.55"/><circle cx="150.52" cy="214.77" r="1.55"/><circle cx="151.20" cy="216.47" r="1.55"/><circle cx="151.88" cy="216.92" r="1.55"/><circle cx="152.57" cy="216.19" r="1.55"/><circle cx="153.25" cy="215.78" r="1.55"/><circle cx="153.93" cy="216.78" r="1.55"/><circle cx="154.61" cy="216.21" r="1.55"/><circle cx="155.30" cy="217.14" r="1.55"/><circle cx="155.98" cy="215.72" r="1.55"/><circle cx="156.66" cy="216.99" r="1.55"/><circle cx="157.34" cy="217.05" r="1.55"/><circle cx="158.03" cy="217.05" r="1.55"/><circle cx="158.71" cy="216.40" r="1.55"/><circle cx="159.39" cy="216.26" r="1.55"/><circle cx="160.07" cy="217.41" r="1.55"/></g>
<path d="M42.00,240.06 L42.68,236.65 L43.37,240.96 L44.05,240.17 L44.73,239.22 L45.41,239.46 L46.09,241.24 L46.78,239.40 L47.46,240.59 L48.14,239.23 L48.83,240.76 L49.51,241.19 L50.19,240.46 L50.87,239.72 L51.55,240.87 L52.24,239.89 L52.92,240.33 L53.60,241.23 L54.29,241.44 L54.97,241.01 L55.65,225.58 L56.33,209.58 L57.02,195.57 L57.70,181.70 L58.38,181.97 L59.06,183.67 L59.75,184.52 L60.43,185.42 L61.11,186.09 L61.79,188.49 L62.47,189.89 L63.16,190.58 L63.84,191.92 L64.52,193.79 L65.20,193.83 L65.89,194.18 L66.57,196.36 L67.25,197.14 L67.93,198.18 L68.62,199.41 L69.30,200.49 L69.98,202.88 L70.66,203.57 L71.35,205.57 L72.03,204.14 L72.71,205.73 L73.39,205.89 L74.08,205.28 L74.76,207.11 L75.44,207.74 L76.12,206.61 L76.81,207.53 L77.49,209.15 L78.17,209.68 L78.85,209.29 L79.54,210.51 L80.22,208.92 L80.90,210.86 L81.58,211.03 L82.27,211.15 L82.95,211.24 L83.63,211.82 L84.31,211.59 L85.00,211.57 L85.68,212.16 L86.36,213.02 L87.04,210.96 L87.73,211.71 L88.41,213.22 L89.09,212.41 L89.77,211.72 L90.46,211.20 L91.14,213.47 L91.82,213.66 L92.50,212.59 L93.19,212.78 L93.87,211.71 L94.55,211.92 L95.23,213.16 L95.92,213.01 L96.60,212.67 L97.28,212.00 L97.96,213.69 L98.65,213.29 L99.33,214.07 L100.01,212.80 L100.69,214.32 L101.38,212.20 L102.06,213.24 L102.74,213.18 L103.42,214.40 L104.11,214.10 L104.79,213.59 L105.47,212.71 L106.15,213.53 L106.84,214.19 L107.52,212.58 L108.20,213.39 L108.88,213.76 L109.57,214.59 L110.25,214.41 L110.93,213.02 L111.61,214.90 L112.30,214.00 L112.98,213.83 L113.66,214.52 L114.34,213.58 L115.03,213.29 L115.71,213.46 L116.39,213.79 L117.07,215.12 L117.76,215.52 L118.44,214.67 L119.12,215.01 L119.80,215.34 L120.49,213.77 L121.17,215.38 L121.85,213.98 L122.54,213.75 L123.22,215.76 L123.90,213.91 L124.58,215.19 L125.27,215.69 L125.95,215.80 L126.63,216.20 L127.31,215.15 L128.00,215.47 L128.68,214.40 L129.36,214.49 L130.04,216.40 L130.73,215.62 L131.41,215.70 L132.09,216.25 L132.77,216.13 L133.46,216.15 L134.14,215.17 L134.82,216.09 L135.50,216.70 L136.19,216.51 L136.87,216.05 L137.55,215.82 L138.23,216.65 L138.92,215.63 L139.60,216.86 L140.28,215.84 L140.96,216.06 L141.65,217.16 L142.33,215.85 L143.01,216.77 L143.69,216.49 L144.38,216.42 L145.06,216.42 L145.74,216.93 L146.42,217.92 L147.11,216.24 L147.79,216.14 L148.47,217.09 L149.15,216.94 L149.84,217.76 L150.52,216.32 L151.20,216.89 L151.88,218.07 L152.57,216.71 L153.25,216.38 L153.93,217.98 L154.61,216.49 L155.30,217.79 L155.98,218.58 L156.66,217.36 L157.34,218.34 L158.03,217.46 L158.71,217.89 L159.39,219.09 L160.07,218.16" fill="none" stroke="#2e8c1e" stroke-width="0.45" opacity="0.9"/>
<g fill="none" stroke="#2e8c1e" stroke-width="0.62"><circle cx="42.00" cy="240.06" r="1.55"/><circle cx="42.68" cy="236.65" r="1.55"/><circle cx="43.37" cy="240.96" r="1.55"/><circle cx="44.05" cy="240.17" r="1.55"/><circle cx="44.73" cy="239.22" r="1.55"/><circle cx="45.41" cy="239.46" r="1.55"/><circle cx="46.09" cy="241.24" r="1.55"/><circle cx="46.78" cy="239.40" r="1.55"/><circle cx="47.46" cy="240.59" r="1.55"/><circle cx="48.14" cy="239.23" r="1.55"/><circle cx="48.83" cy="240.76" r="1.55"/><circle cx="49.51" cy="241.19" r="1.55"/><circle cx="50.19" cy="240.46" r="1.55"/><circle cx="50.87" cy="239.72" r="1.55"/><circle cx="51.55" cy="240.87" r="1.55"/><circle cx="52.24" cy="239.89" r="1.55"/><circle cx="52.92" cy="240.33" r="1.55"/><circle cx="53.60" cy="241.23" r="1.55"/><circle cx="54.29" cy="241.44" r="1.55"/><circle cx="54.97" cy="241.01" r="1.55"/><circle cx="55.65" cy="225.58" r="1.55"/><circle cx="56.33" cy="209.58" r="1.55"/><circle cx="57.02" cy="195.57" r="1.55"/><circle cx="57.70" cy="181.70" r="1.55"/><circle cx="58.38" cy="181.97" r="1.55"/><circle cx="59.06" cy="183.67" r="1.55"/><circle cx="59.75" cy="184.52" r="1.55"/><circle cx="60.43" cy="185.42" r="1.55"/><circle cx="61.11" cy="186.09" r="1.55"/><circle cx="61.79" cy="188.49" r="1.55"/><circle cx="62.47" cy="189.89" r="1.55"/><circle cx="63.16" cy="190.58" r="1.55"/><circle cx="63.84" cy="191.92" r="1.55"/><circle cx="64.52" cy="193.79" r="1.55"/><circle cx="65.20" cy="193.83" r="1.55"/><circle cx="65.89" cy="194.18" r="1.55"/><circle cx="66.57" cy="196.36" r="1.55"/><circle cx="67.25" cy="197.14" r="1.55"/><circle cx="67.93" cy="198.18" r="1.55"/><circle cx="68.62" cy="199.41" r="1.55"/><circle cx="69.30" cy="200.49" r="1.55"/><circle cx="69.98" cy="202.88" r="1.55"/><circle cx="70.66" cy="203.57" r="1.55"/><circle cx="71.35" cy="205.57" r="1.55"/><circle cx="72.03" cy="204.14" r="1.55"/><circle cx="72.71" cy="205.73" r="1.55"/><circle cx="73.39" cy="205.89" r="1.55"/><circle cx="74.08" cy="205.28" r="1.55"/><circle cx="74.76" cy="207.11" r="1.55"/><circle cx="75.44" cy="207.74" r="1.55"/><circle cx="76.12" cy="206.61" r="1.55"/><circle cx="76.81" cy="207.53" r="1.55"/><circle cx="77.49" cy="209.15" r="1.55"/><circle cx="78.17" cy="209.68" r="1.55"/><circle cx="78.85" cy="209.29" r="1.55"/><circle cx="79.54" cy="210.51" r="1.55"/><circle cx="80.22" cy="208.92" r="1.55"/><circle cx="80.90" cy="210.86" r="1.55"/><circle cx="81.58" cy="211.03" r="1.55"/><circle cx="82.27" cy="211.15" r="1.55"/><circle cx="82.95" cy="211.24" r="1.55"/><circle cx="83.63" cy="211.82" r="1.55"/><circle cx="84.31" cy="211.59" r="1.55"/><circle cx="85.00" cy="211.57" r="1.55"/><circle cx="85.68" cy="212.16" r="1.55"/><circle cx="86.36" cy="213.02" r="1.55"/><circle cx="87.04" cy="210.96" r="1.55"/><circle cx="87.73" cy="211.71" r="1.55"/><circle cx="88.41" cy="213.22" r="1.55"/><circle cx="89.09" cy="212.41" r="1.55"/><circle cx="89.77" cy="211.72" r="1.55"/><circle cx="90.46" cy="211.20" r="1.55"/><circle cx="91.14" cy="213.47" r="1.55"/><circle cx="91.82" cy="213.66" r="1.55"/><circle cx="92.50" cy="212.59" r="1.55"/><circle cx="93.19" cy="212.78" r="1.55"/><circle cx="93.87" cy="211.71" r="1.55"/><circle cx="94.55" cy="211.92" r="1.55"/><circle cx="95.23" cy="213.16" r="1.55"/><circle cx="95.92" cy="213.01" r="1.55"/><circle cx="96.60" cy="212.67" r="1.55"/><circle cx="97.28" cy="212.00" r="1.55"/><circle cx="97.96" cy="213.69" r="1.55"/><circle cx="98.65" cy="213.29" r="1.55"/><circle cx="99.33" cy="214.07" r="1.55"/><circle cx="100.01" cy="212.80" r="1.55"/><circle cx="100.69" cy="214.32" r="1.55"/><circle cx="101.38" cy="212.20" r="1.55"/><circle cx="102.06" cy="213.24" r="1.55"/><circle cx="102.74" cy="213.18" r="1.55"/><circle cx="103.42" cy="214.40" r="1.55"/><circle cx="104.11" cy="214.10" r="1.55"/><circle cx="104.79" cy="213.59" r="1.55"/><circle cx="105.47" cy="212.71" r="1.55"/><circle cx="106.15" cy="213.53" r="1.55"/><circle cx="106.84" cy="214.19" r="1.55"/><circle cx="107.52" cy="212.58" r="1.55"/><circle cx="108.20" cy="213.39" r="1.55"/><circle cx="108.88" cy="213.76" r="1.55"/><circle cx="109.57" cy="214.59" r="1.55"/><circle cx="110.25" cy="214.41" r="1.55"/><circle cx="110.93" cy="213.02" r="1.55"/><circle cx="111.61" cy="214.90" r="1.55"/><circle cx="112.30" cy="214.00" r="1.55"/><circle cx="112.98" cy="213.83" r="1.55"/><circle cx="113.66" cy="214.52" r="1.55"/><circle cx="114.34" cy="213.58" r="1.55"/><circle cx="115.03" cy="213.29" r="1.55"/><circle cx="115.71" cy="213.46" r="1.55"/><circle cx="116.39" cy="213.79" r="1.55"/><circle cx="117.07" cy="215.12" r="1.55"/><circle cx="117.76" cy="215.52" r="1.55"/><circle cx="118.44" cy="214.67" r="1.55"/><circle cx="119.12" cy="215.01" r="1.55"/><circle cx="119.80" cy="215.34" r="1.55"/><circle cx="120.49" cy="213.77" r="1.55"/><circle cx="121.17" cy="215.38" r="1.55"/><circle cx="121.85" cy="213.98" r="1.55"/><circle cx="122.54" cy="213.75" r="1.55"/><circle cx="123.22" cy="215.76" r="1.55"/><circle cx="123.90" cy="213.91" r="1.55"/><circle cx="124.58" cy="215.19" r="1.55"/><circle cx="125.27" cy="215.69" r="1.55"/><circle cx="125.95" cy="215.80" r="1.55"/><circle cx="126.63" cy="216.20" r="1.55"/><circle cx="127.31" cy="215.15" r="1.55"/><circle cx="128.00" cy="215.47" r="1.55"/><circle cx="128.68" cy="214.40" r="1.55"/><circle cx="129.36" cy="214.49" r="1.55"/><circle cx="130.04" cy="216.40" r="1.55"/><circle cx="130.73" cy="215.62" r="1.55"/><circle cx="131.41" cy="215.70" r="1.55"/><circle cx="132.09" cy="216.25" r="1.55"/><circle cx="132.77" cy="216.13" r="1.55"/><circle cx="133.46" cy="216.15" r="1.55"/><circle cx="134.14" cy="215.17" r="1.55"/><circle cx="134.82" cy="216.09" r="1.55"/><circle cx="135.50" cy="216.70" r="1.55"/><circle cx="136.19" cy="216.51" r="1.55"/><circle cx="136.87" cy="216.05" r="1.55"/><circle cx="137.55" cy="215.82" r="1.55"/><circle cx="138.23" cy="216.65" r="1.55"/><circle cx="138.92" cy="215.63" r="1.55"/><circle cx="139.60" cy="216.86" r="1.55"/><circle cx="140.28" cy="215.84" r="1.55"/><circle cx="140.96" cy="216.06" r="1.55"/><circle cx="141.65" cy="217.16" r="1.55"/><circle cx="142.33" cy="215.85" r="1.55"/><circle cx="143.01" cy="216.77" r="1.55"/><circle cx="143.69" cy="216.49" r="1.55"/><circle cx="144.38" cy="216.42" r="1.55"/><circle cx="145.06" cy="216.42" r="1.55"/><circle cx="145.74" cy="216.93" r="1.55"/><circle cx="146.42" cy="217.92" r="1.55"/><circle cx="147.11" cy="216.24" r="1.55"/><circle cx="147.79" cy="216.14" r="1.55"/><circle cx="148.47" cy="217.09" r="1.55"/><circle cx="149.15" cy="216.94" r="1.55"/><circle cx="149.84" cy="217.76" r="1.55"/><circle cx="150.52" cy="216.32" r="1.55"/><circle cx="151.20" cy="216.89" r="1.55"/><circle cx="151.88" cy="218.07" r="1.55"/><circle cx="152.57" cy="216.71" r="1.55"/><circle cx="153.25" cy="216.38" r="1.55"/><circle cx="153.93" cy="217.98" r="1.55"/><circle cx="154.61" cy="216.49" r="1.55"/><circle cx="155.30" cy="217.79" r="1.55"/><circle cx="155.98" cy="218.58" r="1.55"/><circle cx="156.66" cy="217.36" r="1.55"/><circle cx="157.34" cy="218.34" r="1.55"/><circle cx="158.03" cy="217.46" r="1.55"/><circle cx="158.71" cy="217.89" r="1.55"/><circle cx="159.39" cy="219.09" r="1.55"/><circle cx="160.07" cy="218.16" r="1.55"/></g>
<path d="M41.80,153.90 H160.12 V250.90 H41.80 Z" fill="none" stroke="#444" stroke-width="0.9"/>
<line x1="39.30" y1="247.40" x2="41.80" y2="247.40" stroke="#333" stroke-width="0.8" />
<text x="35.80" y="249.53" font-size="6.2" text-anchor="end" font-weight="bold" fill="#111" stroke="#111" stroke-width="0.1" >0</text>
<line x1="39.30" y1="228.70" x2="41.80" y2="228.70" stroke="#333" stroke-width="0.8" />
<text x="35.80" y="230.83" font-size="6.2" text-anchor="end" font-weight="bold" fill="#111" stroke="#111" stroke-width="0.1" >500</text>
<line x1="39.30" y1="210.00" x2="41.80" y2="210.00" stroke="#333" stroke-width="0.8" />
<text x="35.80" y="212.13" font-size="6.2" text-anchor="end" font-weight="bold" fill="#111" stroke="#111" stroke-width="0.1" >1000</text>
<line x1="39.30" y1="191.30" x2="41.80" y2="191.30" stroke="#333" stroke-width="0.8" />
<text x="35.80" y="193.43" font-size="6.2" text-anchor="end" font-weight="bold" fill="#111" stroke="#111" stroke-width="0.1" >1500</text>
<line x1="39.30" y1="172.60" x2="41.80" y2="172.60" stroke="#333" stroke-width="0.8" />
<text x="35.80" y="174.73" font-size="6.2" text-anchor="end" font-weight="bold" fill="#111" stroke="#111" stroke-width="0.1" >2000</text>
<line x1="39.30" y1="153.90" x2="41.80" y2="153.90" stroke="#333" stroke-width="0.8" />
<text x="35.80" y="156.03" font-size="6.2" text-anchor="end" font-weight="bold" fill="#111" stroke="#111" stroke-width="0.1" >2500</text>
<line x1="42.00" y1="250.90" x2="42.00" y2="253.40" stroke="#333" stroke-width="0.8" />
<text x="42.00" y="262.74" font-size="6.5" text-anchor="middle" font-weight="bold" fill="#111" stroke="#111" stroke-width="0.1" >0</text>
<line x1="68.25" y1="250.90" x2="68.25" y2="253.40" stroke="#333" stroke-width="0.8" />
<text x="68.25" y="262.74" font-size="6.5" text-anchor="middle" font-weight="bold" fill="#111" stroke="#111" stroke-width="0.1" >100</text>
<line x1="94.50" y1="250.90" x2="94.50" y2="253.40" stroke="#333" stroke-width="0.8" />
<text x="94.50" y="262.74" font-size="6.5" text-anchor="middle" font-weight="bold" fill="#111" stroke="#111" stroke-width="0.1" >200</text>
<line x1="120.75" y1="250.90" x2="120.75" y2="253.40" stroke="#333" stroke-width="0.8" />
<text x="120.75" y="262.74" font-size="6.5" text-anchor="middle" font-weight="bold" fill="#111" stroke="#111" stroke-width="0.1" >300</text>
<line x1="147.00" y1="250.90" x2="147.00" y2="253.40" stroke="#333" stroke-width="0.8" />
<text x="147.00" y="262.74" font-size="6.5" text-anchor="middle" font-weight="bold" fill="#111" stroke="#111" stroke-width="0.1" >400</text>
<text x="104.60" y="270.82" font-size="7.9" text-anchor="middle" font-weight="normal" fill="#111" stroke="#111" stroke-width="0.22" >Time (s)</text>
<text x="0" y="2.61" font-size="7.6" text-anchor="middle" font-weight="normal" fill="#111" stroke="#111" stroke-width="0.22" transform="translate(15.80,198.65) rotate(-90)" >Fluo-4 fluorescence (f.a.u.)</text>
<text x="102.00" y="150.85" font-size="7.7" text-anchor="middle" font-weight="normal" fill="#111" stroke="#111" stroke-width="0.22" >MCU siRNA</text>
<path d="M52.94,163.20 L57.26,163.20 L55.10,168.00 Z" fill="#1a1a1a"/>
<text x="55.70" y="162.20" font-size="6.4" text-anchor="start" font-weight="normal" fill="#111" stroke="#111" stroke-width="0.22" >Glutamate</text>
<text x="11.50" y="133.81" font-size="10.5" text-anchor="start" font-weight="normal" fill="#222" stroke="#222" stroke-width="0.22" >b</text>
<defs>
<filter id="bl" x="-20%" y="-100%" width="140%" height="300%"><feGaussianBlur stdDeviation="0.8"/></filter>
<filter id="sm" x="-50%" y="-50%" width="200%" height="200%"><feGaussianBlur stdDeviation="2.5"/></filter>
<filter id="bl2" x="-20%" y="-100%" width="140%" height="300%"><feGaussianBlur stdDeviation="0.45"/></filter>
</defs>
<rect x="260.20" y="33.30" width="143.60" height="22.00" fill="#b2b2b2" stroke="#3c3c3c" stroke-width="1.0" />
<g filter="url(#bl)"><rect x="260.25" y="45.10" width="15.50" height="2.60" rx="1.30" fill="#1c1c1c" opacity="0.85"/><rect x="279.25" y="44.20" width="15.50" height="3.20" rx="1.60" fill="#1c1c1c" opacity="0.92"/><rect x="297.75" y="43.90" width="15.50" height="3.20" rx="1.60" fill="#1c1c1c" opacity="0.92"/><rect x="316.00" y="43.30" width="15.00" height="3.20" rx="1.60" fill="#1c1c1c" opacity="0.95"/><rect x="335.00" y="45.30" width="13.00" height="1.80" rx="0.90" fill="#1c1c1c" opacity="0.14"/><rect x="355.00" y="45.00" width="9.00" height="1.60" rx="0.80" fill="#1c1c1c" opacity="0.10"/><rect x="372.50" y="43.30" width="12.00" height="1.80" rx="0.90" fill="#1c1c1c" opacity="0.24"/></g>
<text x="252.60" y="49.58" font-size="7.8" text-anchor="end" font-weight="normal" fill="#111" stroke="#111" stroke-width="0.22" >MCU (40 kDa)</text>
<path d="M255.10,45.11 L259.80,46.90 L255.10,48.69 Z" fill="#1a1a1a" stroke="#1a1a1a" stroke-width="0.5" stroke-linejoin="round"/>
<line x1="403.80" y1="35.80" x2="406.80" y2="35.80" stroke="#333" stroke-width="0.8" />
<text x="408.30" y="38.45" font-size="7.7" text-anchor="start" font-weight="normal" fill="#111" stroke="#111" stroke-width="0.22" >50</text>
<rect x="260.20" y="58.10" width="143.60" height="19.40" fill="#adadad" stroke="#3c3c3c" stroke-width="1.0" />
<g filter="url(#bl)"><rect x="259.75" y="63.10" width="16.50" height="2.60" rx="1.30" fill="#1c1c1c" opacity="0.85"/><rect x="259.75" y="67.00" width="16.50" height="2.80" rx="1.40" fill="#1c1c1c" opacity="0.90"/><rect x="279.25" y="63.70" width="15.50" height="2.20" rx="1.10" fill="#1c1c1c" opacity="0.60"/><rect x="279.25" y="67.20" width="15.50" height="2.60" rx="1.30" fill="#1c1c1c" opacity="0.72"/><rect x="297.50" y="63.60" width="16.00" height="2.40" rx="1.20" fill="#1c1c1c" opacity="0.72"/><rect x="297.50" y="67.40" width="16.00" height="2.80" rx="1.40" fill="#1c1c1c" opacity="0.85"/><rect x="317.00" y="65.10" width="13.00" height="1.80" rx="0.90" fill="#1c1c1c" opacity="0.28"/><rect x="317.00" y="68.00" width="13.00" height="2.00" rx="1.00" fill="#1c1c1c" opacity="0.36"/><rect x="333.50" y="63.80" width="16.00" height="2.40" rx="1.20" fill="#1c1c1c" opacity="0.85"/><rect x="333.50" y="67.40" width="16.00" height="2.80" rx="1.40" fill="#1c1c1c" opacity="0.92"/><rect x="351.50" y="63.80" width="16.00" height="2.40" rx="1.20" fill="#1c1c1c" opacity="0.85"/><rect x="351.50" y="67.40" width="16.00" height="2.80" rx="1.40" fill="#1c1c1c" opacity="0.92"/><rect x="370.75" y="64.70" width="15.50" height="2.20" rx="1.10" fill="#1c1c1c" opacity="0.75"/><rect x="370.75" y="68.30" width="15.50" height="2.60" rx="1.30" fill="#1c1c1c" opacity="0.90"/><rect x="388.00" y="65.00" width="15.00" height="2.00" rx="1.00" fill="#1c1c1c" opacity="0.50"/><rect x="388.00" y="68.50" width="15.00" height="3.00" rx="1.50" fill="#1c1c1c" opacity="0.82"/></g>
<text x="252.60" y="68.48" font-size="7.8" text-anchor="end" font-weight="normal" fill="#111" stroke="#111" stroke-width="0.22" >p-CaMKII (50 kDa)</text>
<path d="M255.10,64.01 L259.80,65.80 L255.10,67.59 Z" fill="#1a1a1a" stroke="#1a1a1a" stroke-width="0.5" stroke-linejoin="round"/>
<line x1="403.80" y1="68.80" x2="406.80" y2="68.80" stroke="#333" stroke-width="0.8" />
<text x="408.30" y="71.45" font-size="7.7" text-anchor="start" font-weight="normal" fill="#111" stroke="#111" stroke-width="0.22" >50</text>
<rect x="260.20" y="83.90" width="143.60" height="19.40" fill="#bdbdbd" stroke="#3c3c3c" stroke-width="1.0" />
<g filter="url(#bl)"><rect x="259.50" y="90.40" width="17.00" height="4.00" rx="2.00" fill="#1c1c1c" opacity="0.85"/><rect x="278.50" y="90.40" width="17.00" height="4.80" rx="2.40" fill="#1c1c1c" opacity="0.90"/><rect x="297.00" y="90.60" width="17.00" height="5.20" rx="2.60" fill="#1c1c1c" opacity="0.90"/><rect x="315.00" y="91.00" width="17.00" height="5.20" rx="2.60" fill="#1c1c1c" opacity="0.92"/><rect x="333.00" y="91.10" width="17.00" height="4.60" rx="2.30" fill="#1c1c1c" opacity="0.88"/><rect x="351.00" y="91.10" width="17.00" height="4.60" rx="2.30" fill="#1c1c1c" opacity="0.88"/><rect x="370.00" y="91.30" width="17.00" height="4.40" rx="2.20" fill="#1c1c1c" opacity="0.88"/><rect x="387.25" y="91.90" width="16.50" height="4.60" rx="2.30" fill="#1c1c1c" opacity="0.90"/></g>
<text x="252.60" y="94.08" font-size="7.8" text-anchor="end" font-weight="normal" fill="#111" stroke="#111" stroke-width="0.22" >CaMKII (50 kDa)</text>
<path d="M255.10,89.61 L259.80,91.40 L255.10,93.19 Z" fill="#1a1a1a" stroke="#1a1a1a" stroke-width="0.5" stroke-linejoin="round"/>
<line x1="403.80" y1="95.90" x2="406.80" y2="95.90" stroke="#333" stroke-width="0.8" />
<text x="408.30" y="98.55" font-size="7.7" text-anchor="start" font-weight="normal" fill="#111" stroke="#111" stroke-width="0.22" >50</text>
<rect x="260.20" y="106.10" width="143.60" height="23.20" fill="#b5b5b5" stroke="#3c3c3c" stroke-width="1.0" />
<g filter="url(#bl)"><rect x="261.00" y="117.50" width="14.00" height="2.20" rx="1.10" fill="#1c1c1c" opacity="0.28"/><rect x="281.00" y="118.10" width="12.00" height="1.80" rx="0.90" fill="#1c1c1c" opacity="0.14"/><rect x="299.50" y="118.10" width="12.00" height="1.80" rx="0.90" fill="#1c1c1c" opacity="0.14"/><rect x="317.00" y="117.30" width="13.00" height="2.00" rx="1.00" fill="#1c1c1c" opacity="0.30"/><rect x="333.50" y="114.50" width="16.00" height="3.00" rx="1.50" fill="#1c1c1c" opacity="0.78"/><rect x="351.50" y="114.70" width="16.00" height="3.00" rx="1.50" fill="#1c1c1c" opacity="0.75"/><rect x="370.50" y="114.90" width="16.00" height="3.00" rx="1.50" fill="#1c1c1c" opacity="0.78"/><rect x="388.00" y="115.40" width="15.00" height="2.80" rx="1.40" fill="#1c1c1c" opacity="0.60"/></g>
<text x="252.60" y="121.28" font-size="7.8" text-anchor="end" font-weight="normal" fill="#111" stroke="#111" stroke-width="0.22" >p-AMPK (63 kDa)</text>
<path d="M255.10,116.81 L259.80,118.60 L255.10,120.39 Z" fill="#1a1a1a" stroke="#1a1a1a" stroke-width="0.5" stroke-linejoin="round"/>
<line x1="403.80" y1="111.30" x2="406.80" y2="111.30" stroke="#333" stroke-width="0.8" />
<text x="408.30" y="113.95" font-size="7.7" text-anchor="start" font-weight="normal" fill="#111" stroke="#111" stroke-width="0.22" >75</text>
<rect x="260.20" y="132.40" width="143.60" height="22.20" fill="#b9b9b9" stroke="#3c3c3c" stroke-width="1.0" />
<g filter="url(#bl)"><rect x="259.50" y="139.90" width="17.00" height="4.20" rx="2.10" fill="#1c1c1c" opacity="0.92"/><rect x="278.50" y="139.70" width="17.00" height="4.60" rx="2.30" fill="#1c1c1c" opacity="0.92"/><rect x="297.25" y="141.30" width="16.50" height="3.80" rx="1.90" fill="#1c1c1c" opacity="0.90"/><rect x="315.25" y="141.40" width="16.50" height="4.00" rx="2.00" fill="#1c1c1c" opacity="0.90"/><rect x="333.25" y="141.50" width="16.50" height="4.00" rx="2.00" fill="#1c1c1c" opacity="0.90"/><rect x="351.25" y="141.40" width="16.50" height="4.00" rx="2.00" fill="#1c1c1c" opacity="0.90"/><rect x="370.25" y="141.50" width="16.50" height="4.00" rx="2.00" fill="#1c1c1c" opacity="0.90"/><rect x="388.00" y="142.50" width="15.00" height="3.60" rx="1.80" fill="#1c1c1c" opacity="0.85"/></g>
<text x="252.60" y="146.08" font-size="7.8" text-anchor="end" font-weight="normal" fill="#111" stroke="#111" stroke-width="0.22" >AMPK (63 kDa)</text>
<path d="M255.10,141.61 L259.80,143.40 L255.10,145.19 Z" fill="#1a1a1a" stroke="#1a1a1a" stroke-width="0.5" stroke-linejoin="round"/>
<line x1="403.80" y1="140.30" x2="406.80" y2="140.30" stroke="#333" stroke-width="0.8" />
<text x="408.30" y="142.95" font-size="7.7" text-anchor="start" font-weight="normal" fill="#111" stroke="#111" stroke-width="0.22" >75</text>
<rect x="260.20" y="160.90" width="143.60" height="22.20" fill="#b8b8b8" stroke="#3c3c3c" stroke-width="1.0" />
<g filter="url(#bl)"><rect x="261.00" y="166.20" width="14.00" height="1.60" rx="0.80" fill="#1c1c1c" opacity="0.50"/><rect x="281.00" y="166.70" width="12.00" height="1.40" rx="0.70" fill="#1c1c1c" opacity="0.18"/><rect x="300.00" y="167.20" width="11.00" height="1.20" rx="0.60" fill="#1c1c1c" opacity="0.08"/><rect x="318.00" y="167.00" width="11.00" height="1.20" rx="0.60" fill="#1c1c1c" opacity="0.10"/><rect x="335.00" y="166.80" width="13.00" height="1.60" rx="0.80" fill="#1c1c1c" opacity="0.28"/><rect x="353.00" y="166.80" width="13.00" height="1.60" rx="0.80" fill="#1c1c1c" opacity="0.35"/><rect x="371.50" y="166.90" width="14.00" height="1.80" rx="0.90" fill="#1c1c1c" opacity="0.50"/><rect x="388.50" y="167.70" width="14.00" height="1.80" rx="0.90" fill="#1c1c1c" opacity="0.55"/></g>
<text x="252.60" y="170.88" font-size="7.8" text-anchor="end" font-weight="normal" fill="#111" stroke="#111" stroke-width="0.22" >p-ACC (265 kDa)</text>
<path d="M255.10,166.41 L259.80,168.20 L255.10,169.99 Z" fill="#1a1a1a" stroke="#1a1a1a" stroke-width="0.5" stroke-linejoin="round"/>
<line x1="403.80" y1="174.90" x2="406.80" y2="174.90" stroke="#333" stroke-width="0.8" />
<text x="408.30" y="177.55" font-size="7.7" text-anchor="start" font-weight="normal" fill="#111" stroke="#111" stroke-width="0.22" >250</text>
<rect x="260.20" y="186.70" width="143.60" height="22.80" fill="#bfbfbf" stroke="#3c3c3c" stroke-width="1.0" />
<g filter="url(#bl)"><rect x="259.50" y="197.90" width="17.00" height="3.80" rx="1.90" fill="#1c1c1c" opacity="0.90"/><rect x="278.50" y="196.90" width="17.00" height="3.80" rx="1.90" fill="#1c1c1c" opacity="0.90"/><rect x="297.00" y="195.70" width="17.00" height="3.80" rx="1.90" fill="#1c1c1c" opacity="0.90"/><rect x="315.00" y="196.10" width="17.00" height="3.80" rx="1.90" fill="#1c1c1c" opacity="0.90"/><rect x="333.00" y="195.30" width="17.00" height="3.80" rx="1.90" fill="#1c1c1c" opacity="0.90"/><rect x="351.00" y="194.50" width="17.00" height="3.80" rx="1.90" fill="#1c1c1c" opacity="0.90"/><rect x="370.00" y="193.90" width="17.00" height="3.80" rx="1.90" fill="#1c1c1c" opacity="0.90"/><rect x="387.50" y="193.20" width="16.00" height="4.00" rx="2.00" fill="#1c1c1c" opacity="0.90"/></g>
<text x="252.60" y="196.38" font-size="7.8" text-anchor="end" font-weight="normal" fill="#111" stroke="#111" stroke-width="0.22" >ACC (265 kDa)</text>
<path d="M255.10,191.91 L259.80,193.70 L255.10,195.49 Z" fill="#1a1a1a" stroke="#1a1a1a" stroke-width="0.5" stroke-linejoin="round"/>
<line x1="403.80" y1="199.90" x2="406.80" y2="199.90" stroke="#333" stroke-width="0.8" />
<text x="408.30" y="202.55" font-size="7.7" text-anchor="start" font-weight="normal" fill="#111" stroke="#111" stroke-width="0.22" >250</text>
<rect x="260.20" y="212.30" width="143.60" height="21.30" fill="#b3b3b3" stroke="#3c3c3c" stroke-width="1.0" />
<g filter="url(#bl)"><rect x="260.50" y="225.50" width="15.00" height="1.80" rx="0.90" fill="#1c1c1c" opacity="0.75"/><rect x="279.50" y="223.90" width="15.00" height="1.80" rx="0.90" fill="#1c1c1c" opacity="0.55"/><rect x="298.00" y="223.70" width="15.00" height="1.80" rx="0.90" fill="#1c1c1c" opacity="0.60"/><rect x="316.00" y="223.70" width="15.00" height="1.80" rx="0.90" fill="#1c1c1c" opacity="0.60"/><rect x="334.50" y="224.00" width="14.00" height="1.60" rx="0.80" fill="#1c1c1c" opacity="0.45"/><rect x="352.50" y="223.60" width="14.00" height="1.60" rx="0.80" fill="#1c1c1c" opacity="0.40"/><rect x="372.00" y="223.65" width="13.00" height="1.50" rx="0.75" fill="#1c1c1c" opacity="0.25"/><rect x="389.00" y="221.85" width="13.00" height="1.50" rx="0.75" fill="#1c1c1c" opacity="0.25"/></g>
<text x="252.60" y="229.18" font-size="7.8" text-anchor="end" font-weight="normal" fill="#111" stroke="#111" stroke-width="0.22" >FAS (273 kDa)</text>
<path d="M255.10,224.71 L259.80,226.50 L255.10,228.29 Z" fill="#1a1a1a" stroke="#1a1a1a" stroke-width="0.5" stroke-linejoin="round"/>
<line x1="403.80" y1="231.00" x2="406.80" y2="231.00" stroke="#333" stroke-width="0.8" />
<text x="408.30" y="233.65" font-size="7.7" text-anchor="start" font-weight="normal" fill="#111" stroke="#111" stroke-width="0.22" >250</text>
<rect x="260.20" y="237.00" width="143.60" height="20.40" fill="#bbbbbb" stroke="#3c3c3c" stroke-width="1.0" />
<g filter="url(#bl)"><rect x="259.00" y="247.70" width="18.00" height="5.60" rx="2.80" fill="#1c1c1c" opacity="1.00"/><rect x="278.00" y="247.20" width="18.00" height="5.60" rx="2.80" fill="#1c1c1c" opacity="1.00"/><rect x="296.50" y="247.00" width="18.00" height="5.60" rx="2.80" fill="#1c1c1c" opacity="1.00"/><rect x="314.50" y="246.80" width="18.00" height="5.60" rx="2.80" fill="#1c1c1c" opacity="1.00"/><rect x="332.50" y="246.20" width="18.00" height="5.60" rx="2.80" fill="#1c1c1c" opacity="1.00"/><rect x="350.50" y="245.50" width="18.00" height="5.60" rx="2.80" fill="#1c1c1c" opacity="1.00"/><rect x="369.50" y="244.80" width="18.00" height="5.60" rx="2.80" fill="#1c1c1c" opacity="1.00"/><rect x="387.00" y="243.90" width="17.00" height="5.80" rx="2.90" fill="#1c1c1c" opacity="1.00"/></g>
<text x="252.60" y="254.58" font-size="7.8" text-anchor="end" font-weight="normal" fill="#111" stroke="#111" stroke-width="0.22" >&#946;-actin (42 kDa)</text>
<path d="M255.10,250.11 L259.80,251.90 L255.10,253.69 Z" fill="#1a1a1a" stroke="#1a1a1a" stroke-width="0.5" stroke-linejoin="round"/>
<line x1="403.80" y1="254.90" x2="406.80" y2="254.90" stroke="#333" stroke-width="0.8" />
<text x="408.30" y="257.55" font-size="7.7" text-anchor="start" font-weight="normal" fill="#111" stroke="#111" stroke-width="0.22" >37</text>
<g filter="url(#sm)" opacity="0.22"><rect x="296" y="85" width="34" height="10" fill="#555"/><rect x="262" y="96" width="60" height="6" fill="#777"/></g>
<g filter="url(#sm)" opacity="0.25"><rect x="370" y="86" width="22" height="6" fill="#fff"/></g>
<text x="296.50" y="10.25" font-size="7.7" text-anchor="middle" font-weight="normal" fill="#111" stroke="#111" stroke-width="0.22" >Scr siRNA</text>
<text x="368.20" y="10.25" font-size="7.7" text-anchor="middle" font-weight="normal" fill="#111" stroke="#111" stroke-width="0.22" >+MCU siRNA</text>
<path d="M262.4,14.6 V12.4 H330.5 V14.6" fill="none" stroke="#333" stroke-width="0.8"/>
<path d="M333.9,14.6 V12.4 H402.8 V14.6" fill="none" stroke="#333" stroke-width="0.8"/>
<text x="263.50" y="23.67" font-size="6.3" text-anchor="end" font-weight="normal" fill="#111" stroke="#111" stroke-width="0.22" >rTat</text>
<text x="263.50" y="31.07" font-size="6.3" text-anchor="end" font-weight="normal" fill="#111" stroke="#111" stroke-width="0.22" >Cocaine</text>
<text x="268.70" y="23.54" font-size="6.5" text-anchor="middle" font-weight="normal" fill="#111" stroke="#111" stroke-width="0.22" >-</text>
<text x="268.70" y="30.94" font-size="6.5" text-anchor="middle" font-weight="normal" fill="#111" stroke="#111" stroke-width="0.22" >-</text>
<text x="288.40" y="23.54" font-size="6.5" text-anchor="middle" font-weight="normal" fill="#111" stroke="#111" stroke-width="0.22" >+</text>
<text x="288.40" y="30.94" font-size="6.5" text-anchor="middle" font-weight="normal" fill="#111" stroke="#111" stroke-width="0.22" >-</text>
<text x="306.40" y="23.54" font-size="6.5" text-anchor="middle" font-weight="normal" fill="#111" stroke="#111" stroke-width="0.22" >-</text>
<text x="306.40" y="30.94" font-size="6.5" text-anchor="middle" font-weight="normal" fill="#111" stroke="#111" stroke-width="0.22" >+</text>
<text x="324.60" y="23.54" font-size="6.5" text-anchor="middle" font-weight="normal" fill="#111" stroke="#111" stroke-width="0.22" >+</text>
<text x="324.60" y="30.94" font-size="6.5" text-anchor="middle" font-weight="normal" fill="#111" stroke="#111" stroke-width="0.22" >+</text>
<text x="341.90" y="23.54" font-size="6.5" text-anchor="middle" font-weight="normal" fill="#111" stroke="#111" stroke-width="0.22" >-</text>
<text x="341.90" y="30.94" font-size="6.5" text-anchor="middle" font-weight="normal" fill="#111" stroke="#111" stroke-width="0.22" >-</text>
<text x="359.40" y="23.54" font-size="6.5" text-anchor="middle" font-weight="normal" fill="#111" stroke="#111" stroke-width="0.22" >+</text>
<text x="359.40" y="30.94" font-size="6.5" text-anchor="middle" font-weight="normal" fill="#111" stroke="#111" stroke-width="0.22" >-</text>
<text x="379.10" y="23.54" font-size="6.5" text-anchor="middle" font-weight="normal" fill="#111" stroke="#111" stroke-width="0.22" >-</text>
<text x="379.10" y="30.94" font-size="6.5" text-anchor="middle" font-weight="normal" fill="#111" stroke="#111" stroke-width="0.22" >+</text>
<text x="395.20" y="23.54" font-size="6.5" text-anchor="middle" font-weight="normal" fill="#111" stroke="#111" stroke-width="0.22" >+</text>
<text x="395.20" y="30.94" font-size="6.5" text-anchor="middle" font-weight="normal" fill="#111" stroke="#111" stroke-width="0.22" >+</text>
<text x="188.00" y="42.11" font-size="10.5" text-anchor="start" font-weight="normal" fill="#111" stroke="#111" stroke-width="0.22" >c</text>
<rect x="478.20" y="48.30" width="102.90" height="13.30" fill="#b0b0b0" stroke="#3c3c3c" stroke-width="1.0" />
<g filter="url(#bl2)"><rect x="480.20" y="54.85" width="9.00" height="1.30" rx="0.65" fill="#1c1c1c" opacity="0.25"/><rect x="492.60" y="54.70" width="10.00" height="1.40" rx="0.70" fill="#1c1c1c" opacity="0.38"/><rect x="506.20" y="54.30" width="10.00" height="1.80" rx="0.90" fill="#1c1c1c" opacity="0.80"/><rect x="519.30" y="54.50" width="9.00" height="1.60" rx="0.80" fill="#1c1c1c" opacity="0.62"/><rect x="533.20" y="55.50" width="7.00" height="1.00" rx="0.50" fill="#1c1c1c" opacity="0.08"/><rect x="544.50" y="55.20" width="8.00" height="1.20" rx="0.60" fill="#1c1c1c" opacity="0.20"/><rect x="557.40" y="55.30" width="8.00" height="1.00" rx="0.50" fill="#1c1c1c" opacity="0.10"/><rect x="569.50" y="54.60" width="9.00" height="1.40" rx="0.70" fill="#1c1c1c" opacity="0.30"/></g>
<rect x="478.20" y="63.00" width="102.90" height="15.30" fill="#acacac" stroke="#3c3c3c" stroke-width="1.0" />
<g filter="url(#bl)"><rect x="490.10" y="66.90" width="15.00" height="7.00" rx="3.50" fill="#1c1c1c" opacity="1.00"/><rect x="503.70" y="66.20" width="15.00" height="8.40" rx="4.20" fill="#1c1c1c" opacity="1.00"/><rect x="516.80" y="66.60" width="14.00" height="7.60" rx="3.80" fill="#1c1c1c" opacity="1.00"/><rect x="545.00" y="70.00" width="7.00" height="1.00" rx="0.50" fill="#1c1c1c" opacity="0.08"/><rect x="557.40" y="69.60" width="8.00" height="1.40" rx="0.70" fill="#1c1c1c" opacity="0.15"/></g>
<g filter="url(#bl2)"><rect x="479.5" y="68.9" width="11.5" height="2.0" rx="1" fill="#1c1c1c" opacity="0.95"/><rect x="479" y="63.6" width="6" height="4" fill="#505050" opacity="0.5"/></g>
<rect x="478.20" y="80.90" width="102.90" height="14.90" fill="#b2b2b2" stroke="#3c3c3c" stroke-width="1.0" />
<g filter="url(#bl2)"><rect x="477.95" y="86.60" width="13.50" height="2.60" rx="1.30" fill="#1c1c1c" opacity="0.85"/><rect x="490.85" y="86.60" width="13.50" height="2.60" rx="1.30" fill="#1c1c1c" opacity="0.85"/><rect x="504.45" y="86.60" width="13.50" height="2.60" rx="1.30" fill="#1c1c1c" opacity="0.85"/><rect x="517.05" y="86.60" width="13.50" height="2.60" rx="1.30" fill="#1c1c1c" opacity="0.85"/><rect x="529.95" y="86.60" width="13.50" height="2.60" rx="1.30" fill="#1c1c1c" opacity="0.85"/><rect x="541.75" y="86.60" width="13.50" height="2.60" rx="1.30" fill="#1c1c1c" opacity="0.85"/><rect x="554.65" y="86.60" width="13.50" height="2.60" rx="1.30" fill="#1c1c1c" opacity="0.85"/><rect x="567.25" y="86.60" width="13.50" height="2.60" rx="1.30" fill="#1c1c1c" opacity="0.85"/></g>
<text x="471.00" y="58.37" font-size="6.6" text-anchor="end" font-weight="normal" fill="#111" stroke="#111" stroke-width="0.22" >CPT1</text>
<text x="474.00" y="65.17" font-size="6.3" text-anchor="end" font-weight="normal" fill="#111" stroke="#111" stroke-width="0.22" >(88 kDa)</text>
<path d="M472.90,54.72 L477.50,56.10 L472.90,57.48 Z" fill="#1a1a1a" stroke="#1a1a1a" stroke-width="0.5" stroke-linejoin="round"/>
<text x="471.00" y="72.77" font-size="6.6" text-anchor="end" font-weight="normal" fill="#111" stroke="#111" stroke-width="0.22" >CPT2</text>
<text x="474.00" y="79.77" font-size="6.3" text-anchor="end" font-weight="normal" fill="#111" stroke="#111" stroke-width="0.22" >(74 kDa)</text>
<path d="M472.90,69.12 L477.50,70.50 L472.90,71.88 Z" fill="#1a1a1a" stroke="#1a1a1a" stroke-width="0.5" stroke-linejoin="round"/>
<text x="471.00" y="90.07" font-size="6.6" text-anchor="end" font-weight="normal" fill="#111" stroke="#111" stroke-width="0.22" >GAPDH</text>
<text x="474.00" y="97.97" font-size="6.3" text-anchor="end" font-weight="normal" fill="#111" stroke="#111" stroke-width="0.22" >(35.8 kDa)</text>
<path d="M472.90,86.42 L477.50,87.80 L472.90,89.18 Z" fill="#1a1a1a" stroke="#1a1a1a" stroke-width="0.5" stroke-linejoin="round"/>
<line x1="581.10" y1="49.90" x2="583.50" y2="49.90" stroke="#333" stroke-width="0.7" />
<text x="583.70" y="52.17" font-size="6.6" text-anchor="start" font-weight="normal" fill="#111" stroke="#111" stroke-width="0.22" >100</text>
<line x1="581.10" y1="58.20" x2="583.50" y2="58.20" stroke="#333" stroke-width="0.7" />
<text x="583.70" y="60.47" font-size="6.6" text-anchor="start" font-weight="normal" fill="#111" stroke="#111" stroke-width="0.22" >75</text>
<line x1="581.10" y1="68.80" x2="583.50" y2="68.80" stroke="#333" stroke-width="0.7" />
<text x="583.70" y="71.07" font-size="6.6" text-anchor="start" font-weight="normal" fill="#111" stroke="#111" stroke-width="0.22" >75</text>
<line x1="581.10" y1="87.30" x2="583.50" y2="87.30" stroke="#333" stroke-width="0.7" />
<text x="583.70" y="89.57" font-size="6.6" text-anchor="start" font-weight="normal" fill="#111" stroke="#111" stroke-width="0.22" >37</text>
<text x="503.00" y="28.21" font-size="7.6" text-anchor="middle" font-weight="normal" fill="#111" stroke="#111" stroke-width="0.22" >Scr siRNA</text>
<text x="556.40" y="28.21" font-size="7.6" text-anchor="middle" font-weight="normal" fill="#111" stroke="#111" stroke-width="0.22" >+MCU siRNA</text>
<line x1="483.50" y1="30.30" x2="526.80" y2="30.30" stroke="#333" stroke-width="0.8" />
<line x1="535.00" y1="30.30" x2="578.80" y2="30.30" stroke="#333" stroke-width="0.8" />
<text x="477.30" y="39.11" font-size="7.6" text-anchor="end" font-weight="normal" fill="#111" stroke="#111" stroke-width="0.22" >rTat</text>
<text x="474.70" y="46.71" font-size="7.6" text-anchor="end" font-weight="normal" fill="#111" stroke="#111" stroke-width="0.22" >Cocaine</text>
<text x="484.70" y="38.71" font-size="7.0" text-anchor="middle" font-weight="normal" fill="#111" stroke="#111" stroke-width="0.22" >-</text>
<text x="484.70" y="46.31" font-size="7.0" text-anchor="middle" font-weight="normal" fill="#111" stroke="#111" stroke-width="0.22" >-</text>
<text x="497.60" y="38.71" font-size="7.0" text-anchor="middle" font-weight="normal" fill="#111" stroke="#111" stroke-width="0.22" >+</text>
<text x="497.60" y="46.31" font-size="7.0" text-anchor="middle" font-weight="normal" fill="#111" stroke="#111" stroke-width="0.22" >-</text>
<text x="511.20" y="38.71" font-size="7.0" text-anchor="middle" font-weight="normal" fill="#111" stroke="#111" stroke-width="0.22" >-</text>
<text x="511.20" y="46.31" font-size="7.0" text-anchor="middle" font-weight="normal" fill="#111" stroke="#111" stroke-width="0.22" >+</text>
<text x="523.80" y="38.71" font-size="7.0" text-anchor="middle" font-weight="normal" fill="#111" stroke="#111" stroke-width="0.22" >+</text>
<text x="523.80" y="46.31" font-size="7.0" text-anchor="middle" font-weight="normal" fill="#111" stroke="#111" stroke-width="0.22" >+</text>
<text x="536.70" y="38.71" font-size="7.0" text-anchor="middle" font-weight="normal" fill="#111" stroke="#111" stroke-width="0.22" >-</text>
<text x="536.70" y="46.31" font-size="7.0" text-anchor="middle" font-weight="normal" fill="#111" stroke="#111" stroke-width="0.22" >-</text>
<text x="548.50" y="38.71" font-size="7.0" text-anchor="middle" font-weight="normal" fill="#111" stroke="#111" stroke-width="0.22" >+</text>
<text x="548.50" y="46.31" font-size="7.0" text-anchor="middle" font-weight="normal" fill="#111" stroke="#111" stroke-width="0.22" >-</text>
<text x="561.40" y="38.71" font-size="7.0" text-anchor="middle" font-weight="normal" fill="#111" stroke="#111" stroke-width="0.22" >-</text>
<text x="561.40" y="46.31" font-size="7.0" text-anchor="middle" font-weight="normal" fill="#111" stroke="#111" stroke-width="0.22" >+</text>
<text x="574.00" y="38.71" font-size="7.0" text-anchor="middle" font-weight="normal" fill="#111" stroke="#111" stroke-width="0.22" >+</text>
<text x="574.00" y="46.31" font-size="7.0" text-anchor="middle" font-weight="normal" fill="#111" stroke="#111" stroke-width="0.22" >+</text>
<text x="427.00" y="28.81" font-size="10.5" text-anchor="start" font-weight="normal" fill="#111" stroke="#111" stroke-width="0.22" >d</text>
<text x="663.50" y="102.95" font-size="7.7" text-anchor="end" font-weight="normal" fill="#8a1f30" stroke="#8a1f30" stroke-width="0.22" >Control</text>
<text x="663.50" y="111.15" font-size="7.7" text-anchor="end" font-weight="normal" fill="#f0a050" stroke="#f0a050" stroke-width="0.22" >rTat</text>
<text x="663.50" y="118.95" font-size="7.7" text-anchor="end" font-weight="normal" fill="#7f8f2c" stroke="#7f8f2c" stroke-width="0.22" >Cocaine</text>
<text x="663.50" y="127.15" font-size="7.7" text-anchor="end" font-weight="normal" fill="#386630" stroke="#386630" stroke-width="0.22" >rTat + Cocaine</text>
<defs>
<pattern id="pR" width="2" height="2" patternUnits="userSpaceOnUse"><rect width="2" height="2" fill="#e6aeb6"/><rect width="1" height="1" fill="#9c3646"/><rect x="1" y="1" width="1" height="1" fill="#9c3646"/></pattern>
<pattern id="pO" width="2" height="2" patternUnits="userSpaceOnUse"><rect width="2" height="2" fill="#ffdcae"/><rect width="1" height="1" fill="#f4a552"/><rect x="1" y="1" width="1" height="1" fill="#f4a552"/></pattern>
<pattern id="pY" width="2" height="2" patternUnits="userSpaceOnUse"><rect width="2" height="2" fill="#e6e2a4"/><rect width="1" height="1" fill="#b2ae4c"/><rect x="1" y="1" width="1" height="1" fill="#b2ae4c"/></pattern>
<pattern id="pG" width="2" height="2" patternUnits="userSpaceOnUse"><rect width="2" height="2" fill="#b2e2a2"/><rect width="1" height="1" fill="#4aa440"/><rect x="1" y="1" width="1" height="1" fill="#4aa440"/></pattern>
<pattern id="pY2" width="2" height="2" patternUnits="userSpaceOnUse"><rect width="2" height="2" fill="#f6f2ac"/><rect width="1" height="1" fill="#d8d255"/><rect x="1" y="1" width="1" height="1" fill="#d8d255"/></pattern>
</defs>
<rect x="470.40" y="191.90" width="11.00" height="41.60" fill="url(#pR)" stroke="#8e2a3a" stroke-width="0.8" />
<line x1="475.90" y1="191.50" x2="475.90" y2="189.40" stroke="#8e2a3a" stroke-width="0.9" />
<line x1="473.70" y1="189.40" x2="478.10" y2="189.40" stroke="#8e2a3a" stroke-width="0.9" />
<rect x="483.30" y="174.40" width="11.00" height="59.10" fill="url(#pO)" stroke="#f0964a" stroke-width="0.8" />
<line x1="488.80" y1="174.00" x2="488.80" y2="171.55" stroke="#f0964a" stroke-width="0.9" />
<line x1="486.60" y1="171.55" x2="491.00" y2="171.55" stroke="#f0964a" stroke-width="0.9" />
<rect x="496.30" y="143.95" width="11.00" height="89.55" fill="url(#pY)" stroke="#a4a03a" stroke-width="0.8" />
<line x1="501.80" y1="143.55" x2="501.80" y2="138.65" stroke="#a4a03a" stroke-width="0.9" />
<line x1="499.60" y1="138.65" x2="504.00" y2="138.65" stroke="#a4a03a" stroke-width="0.9" />
<rect x="509.30" y="168.80" width="11.00" height="64.70" fill="url(#pG)" stroke="#3e9a36" stroke-width="0.8" />
<line x1="514.80" y1="168.40" x2="514.80" y2="165.95" stroke="#3e9a36" stroke-width="0.9" />
<line x1="512.60" y1="165.95" x2="517.00" y2="165.95" stroke="#3e9a36" stroke-width="0.9" />
<rect x="535.10" y="208.00" width="11.00" height="25.50" fill="url(#pR)" stroke="#8e2a3a" stroke-width="0.8" />
<line x1="540.60" y1="207.60" x2="540.60" y2="205.85" stroke="#8e2a3a" stroke-width="0.9" />
<line x1="538.40" y1="205.85" x2="542.80" y2="205.85" stroke="#8e2a3a" stroke-width="0.9" />
<rect x="548.30" y="191.90" width="11.00" height="41.60" fill="url(#pO)" stroke="#f0964a" stroke-width="0.8" />
<line x1="553.80" y1="191.50" x2="553.80" y2="190.80" stroke="#f0964a" stroke-width="0.9" />
<line x1="551.60" y1="190.80" x2="556.00" y2="190.80" stroke="#f0964a" stroke-width="0.9" />
<rect x="561.40" y="212.90" width="11.00" height="20.60" fill="url(#pY2)" stroke="#d0c840" stroke-width="0.8" />
<line x1="566.90" y1="212.50" x2="566.90" y2="210.75" stroke="#d0c840" stroke-width="0.9" />
<line x1="564.70" y1="210.75" x2="569.10" y2="210.75" stroke="#d0c840" stroke-width="0.9" />
<rect x="573.90" y="191.20" width="11.00" height="42.30" fill="url(#pG)" stroke="#3e9a36" stroke-width="0.8" />
<line x1="579.40" y1="190.80" x2="579.40" y2="190.10" stroke="#3e9a36" stroke-width="0.9" />
<line x1="577.20" y1="190.10" x2="581.60" y2="190.10" stroke="#3e9a36" stroke-width="0.9" />
<path d="M463.20,128.50 H591.70 V233.50 H463.20 Z" fill="none" stroke="#222" stroke-width="0.9"/>
<line x1="460.70" y1="233.50" x2="463.20" y2="233.50" stroke="#222" stroke-width="0.8" />
<text x="457.30" y="235.94" font-size="7.1" text-anchor="end" font-weight="bold" fill="#222" stroke="#222" stroke-width="0.1" >0.0</text>
<line x1="460.70" y1="216.00" x2="463.20" y2="216.00" stroke="#222" stroke-width="0.8" />
<text x="457.30" y="218.44" font-size="7.1" text-anchor="end" font-weight="bold" fill="#222" stroke="#222" stroke-width="0.1" >0.5</text>
<line x1="460.70" y1="198.50" x2="463.20" y2="198.50" stroke="#222" stroke-width="0.8" />
<text x="457.30" y="200.94" font-size="7.1" text-anchor="end" font-weight="bold" fill="#222" stroke="#222" stroke-width="0.1" >1.0</text>
<line x1="460.70" y1="181.00" x2="463.20" y2="181.00" stroke="#222" stroke-width="0.8" />
<text x="457.30" y="183.44" font-size="7.1" text-anchor="end" font-weight="bold" fill="#222" stroke="#222" stroke-width="0.1" >1.5</text>
<line x1="460.70" y1="163.50" x2="463.20" y2="163.50" stroke="#222" stroke-width="0.8" />
<text x="457.30" y="165.94" font-size="7.1" text-anchor="end" font-weight="bold" fill="#222" stroke="#222" stroke-width="0.1" >2.0</text>
<line x1="460.70" y1="146.00" x2="463.20" y2="146.00" stroke="#222" stroke-width="0.8" />
<text x="457.30" y="148.44" font-size="7.1" text-anchor="end" font-weight="bold" fill="#222" stroke="#222" stroke-width="0.1" >2.5</text>
<line x1="460.70" y1="128.50" x2="463.20" y2="128.50" stroke="#222" stroke-width="0.8" />
<text x="457.30" y="130.94" font-size="7.1" text-anchor="end" font-weight="bold" fill="#222" stroke="#222" stroke-width="0.1" >3.0</text>
<text x="0" y="2.61" font-size="7.6" text-anchor="middle" font-weight="normal" fill="#111" stroke="#111" stroke-width="0.22" transform="translate(440.30,181.00) rotate(-90)" >Normalized CPT1 levels</text>
<text x="531.70" y="124.55" font-size="7.7" text-anchor="middle" font-weight="normal" fill="#111" stroke="#111" stroke-width="0.22" >CPT1 levels</text>
<text x="437.00" y="126.84" font-size="10.0" text-anchor="start" font-weight="normal" fill="#111" stroke="#111" stroke-width="0.22" >e</text>
<line x1="502.20" y1="134.30" x2="561.90" y2="134.30" stroke="#333" stroke-width="0.85" />
<line x1="515.70" y1="157.10" x2="574.60" y2="157.10" stroke="#333" stroke-width="0.85" />
<path d="M527.55,130.55 L527.55,133.25 M526.38,131.22 L528.72,132.58 M528.72,131.22 L526.38,132.58 M531.70,130.55 L531.70,133.25 M530.53,131.22 L532.87,132.58 M532.87,131.22 L530.53,132.58 M535.85,130.55 L535.85,133.25 M534.68,131.22 L537.02,132.58 M537.02,131.22 L534.68,132.58" stroke="#7a7a7a" stroke-width="0.95" fill="none"/>
<path d="M540.25,154.05 L540.25,156.75 M539.08,154.72 L541.42,156.08 M541.42,154.72 L539.08,156.08 M544.40,154.05 L544.40,156.75 M543.23,154.72 L545.57,156.08 M545.57,154.72 L543.23,156.08 M548.55,154.05 L548.55,156.75 M547.38,154.72 L549.72,156.08 M549.72,154.72 L547.38,156.08" stroke="#7a7a7a" stroke-width="0.95" fill="none"/>
<path d="M486.73,166.05 L486.73,168.75 M485.56,166.72 L487.89,168.08 M487.89,166.72 L485.56,168.08 M490.88,166.05 L490.88,168.75 M489.71,166.72 L492.04,168.08 M492.04,166.72 L489.71,168.08" stroke="#7a7a7a" stroke-width="0.95" fill="none"/>
<path d="M513.02,160.75 L513.02,163.45 M511.86,161.42 L514.19,162.78 M514.19,161.42 L511.86,162.78 M517.18,160.75 L517.18,163.45 M516.01,161.42 L518.34,162.78 M518.34,161.42 L516.01,162.78" stroke="#7a7a7a" stroke-width="0.95" fill="none"/>
<path d="M497.65,144.95 L497.65,147.65 M496.48,145.62 L498.82,146.98 M498.82,145.62 L496.48,146.98 M501.80,144.95 L501.80,147.65 M500.63,145.62 L502.97,146.98 M502.97,145.62 L500.63,146.98 M505.95,144.95 L505.95,147.65 M504.78,145.62 L507.12,146.98 M507.12,145.62 L504.78,146.98" stroke="#555" stroke-width="0.95" fill="none"/>
<path d="M549.35,186.05 L549.35,188.75 M548.18,186.72 L550.52,188.08 M550.52,186.72 L548.18,188.08 M553.50,186.05 L553.50,188.75 M552.33,186.72 L554.67,188.08 M554.67,186.72 L552.33,188.08 M557.65,186.05 L557.65,188.75 M556.48,186.72 L558.82,188.08 M558.82,186.72 L556.48,188.08" stroke="#7a7a7a" stroke-width="0.95" fill="none"/>
<line x1="471.00" y1="235.70" x2="523.00" y2="235.70" stroke="#8a8a8a" stroke-width="1.3" />
<line x1="530.50" y1="235.70" x2="579.00" y2="235.70" stroke="#8a8a8a" stroke-width="1.3" />
<text x="497.00" y="244.75" font-size="7.7" text-anchor="middle" font-weight="normal" fill="#111" stroke="#111" stroke-width="0.22" >Scr siRNA</text>
<text x="554.75" y="244.75" font-size="7.7" text-anchor="middle" font-weight="normal" fill="#111" stroke="#111" stroke-width="0.22" >+MCU siRNA</text>
<rect x="27.80" y="388.80" width="10.00" height="4.70" fill="url(#pR)" stroke="#8e2a3a" stroke-width="0.8" />
<rect x="39.00" y="357.61" width="10.00" height="35.89" fill="url(#pO)" stroke="#f0964a" stroke-width="0.8" />
<line x1="44.00" y1="357.21" x2="44.00" y2="355.51" stroke="#f0964a" stroke-width="0.9" />
<line x1="41.80" y1="355.51" x2="46.20" y2="355.51" stroke="#f0964a" stroke-width="0.9" />
<rect x="51.30" y="318.87" width="10.00" height="74.63" fill="url(#pY)" stroke="#a4a03a" stroke-width="0.8" />
<line x1="56.30" y1="318.47" x2="56.30" y2="316.95" stroke="#a4a03a" stroke-width="0.9" />
<line x1="54.10" y1="316.95" x2="58.50" y2="316.95" stroke="#a4a03a" stroke-width="0.9" />
<rect x="63.50" y="311.69" width="10.00" height="81.81" fill="url(#pG)" stroke="#3e9a36" stroke-width="0.8" />
<rect x="92.40" y="393.52" width="10.00" height="-0.02" fill="url(#pR)" stroke="#8e2a3a" stroke-width="0.8" />
<rect x="103.40" y="393.52" width="10.00" height="-0.02" fill="url(#pO)" stroke="#f0964a" stroke-width="0.8" />
<rect x="114.40" y="393.52" width="10.00" height="-0.02" fill="url(#pY2)" stroke="#d0c840" stroke-width="0.8" />
<rect x="125.40" y="393.90" width="10.00" height="-0.40" fill="url(#pG)" stroke="#3e9a36" stroke-width="0.8" />
<path d="M21.20,299.00 H140.50 V393.50 H21.20 Z" fill="none" stroke="#222" stroke-width="0.9"/>
<line x1="21.20" y1="299.00" x2="140.50" y2="299.00" stroke="#8a8a8a" stroke-width="1.4" />
<line x1="18.70" y1="393.50" x2="21.20" y2="393.50" stroke="#222" stroke-width="0.8" />
<text x="15.80" y="395.77" font-size="6.6" text-anchor="end" font-weight="bold" fill="#222" stroke="#222" stroke-width="0.1" >0</text>
<line x1="18.70" y1="374.60" x2="21.20" y2="374.60" stroke="#222" stroke-width="0.8" />
<text x="15.80" y="376.87" font-size="6.6" text-anchor="end" font-weight="bold" fill="#222" stroke="#222" stroke-width="0.1" >1</text>
<line x1="18.70" y1="355.70" x2="21.20" y2="355.70" stroke="#222" stroke-width="0.8" />
<text x="15.80" y="357.97" font-size="6.6" text-anchor="end" font-weight="bold" fill="#222" stroke="#222" stroke-width="0.1" >2</text>
<line x1="18.70" y1="336.80" x2="21.20" y2="336.80" stroke="#222" stroke-width="0.8" />
<text x="15.80" y="339.07" font-size="6.6" text-anchor="end" font-weight="bold" fill="#222" stroke="#222" stroke-width="0.1" >3</text>
<line x1="18.70" y1="317.90" x2="21.20" y2="317.90" stroke="#222" stroke-width="0.8" />
<text x="15.80" y="320.17" font-size="6.6" text-anchor="end" font-weight="bold" fill="#222" stroke="#222" stroke-width="0.1" >4</text>
<line x1="18.70" y1="299.00" x2="21.20" y2="299.00" stroke="#222" stroke-width="0.8" />
<text x="15.80" y="301.27" font-size="6.6" text-anchor="end" font-weight="bold" fill="#222" stroke="#222" stroke-width="0.1" >5</text>
<text x="0" y="2.68" font-size="7.8" text-anchor="middle" font-weight="normal" fill="#111" stroke="#111" stroke-width="0.22" transform="translate(5.00,342.00) rotate(-90)" >Normalized CPT2 levels</text>
<text x="79.50" y="295.65" font-size="7.7" text-anchor="middle" font-weight="normal" fill="#111" stroke="#111" stroke-width="0.22" >CPT2 levels</text>
<text x="1.60" y="290.44" font-size="10.0" text-anchor="start" font-weight="normal" fill="#111" stroke="#111" stroke-width="0.22" >f</text>
<path d="M41.72,348.15 L41.72,350.85 M40.56,348.82 L42.89,350.18 M42.89,348.82 L40.56,350.18 M45.88,348.15 L45.88,350.85 M44.71,348.82 L47.04,350.18 M47.04,348.82 L44.71,350.18" stroke="#7a7a7a" stroke-width="0.95" fill="none"/>
<path d="M52.45,310.45 L52.45,313.15 M51.28,311.12 L53.62,312.48 M53.62,311.12 L51.28,312.48 M56.60,310.45 L56.60,313.15 M55.43,311.12 L57.77,312.48 M57.77,311.12 L55.43,312.48 M60.75,310.45 L60.75,313.15 M59.58,311.12 L61.92,312.48 M61.92,311.12 L59.58,312.48" stroke="#7a7a7a" stroke-width="0.95" fill="none"/>
<path d="M64.85,304.65 L64.85,307.35 M63.68,305.32 L66.02,306.68 M66.02,305.32 L63.68,306.68 M69.00,304.65 L69.00,307.35 M67.83,305.32 L70.17,306.68 M70.17,305.32 L67.83,306.68 M73.15,304.65 L73.15,307.35 M71.98,305.32 L74.32,306.68 M74.32,305.32 L71.98,306.68" stroke="#7a7a7a" stroke-width="0.95" fill="none"/>
<line x1="26.30" y1="395.50" x2="72.30" y2="395.50" stroke="#555" stroke-width="0.8" />
<line x1="92.80" y1="395.50" x2="130.60" y2="395.50" stroke="#555" stroke-width="0.8" />
<text x="49.30" y="404.35" font-size="7.7" text-anchor="middle" font-weight="normal" fill="#111" stroke="#111" stroke-width="0.22" >Scr siRNA</text>
<text x="111.70" y="404.35" font-size="7.7" text-anchor="middle" font-weight="normal" fill="#111" stroke="#111" stroke-width="0.22" >+MCU siRNA</text>
<line x1="226.40" y1="290.50" x2="226.40" y2="405.20" stroke="#e2404e" stroke-width="0.8" stroke-dasharray="2.0,2.0"/>
<text x="227.90" y="299.04" font-size="6.8" text-anchor="start" font-weight="normal" fill="#222" stroke="#222" stroke-width="0.22" >A</text>
<line x1="264.60" y1="290.50" x2="264.60" y2="405.20" stroke="#e2404e" stroke-width="0.8" stroke-dasharray="2.0,2.0"/>
<text x="266.10" y="299.04" font-size="6.8" text-anchor="start" font-weight="normal" fill="#222" stroke="#222" stroke-width="0.22" >B</text>
<line x1="301.40" y1="290.50" x2="301.40" y2="405.20" stroke="#e2404e" stroke-width="0.8" stroke-dasharray="2.0,2.0"/>
<text x="302.90" y="299.04" font-size="6.8" text-anchor="start" font-weight="normal" fill="#222" stroke="#222" stroke-width="0.22" >C</text>
<path d="M201.75,358.60 L213.80,359.36 L225.86,359.74 L237.91,381.52 L249.96,385.34 L262.01,386.10 L274.06,310.46 L286.11,318.10 L298.17,325.74 L310.22,389.92 L322.27,389.92 L334.32,389.16" fill="none" stroke="#f08a20" stroke-width="0.8"/>
<line x1="201.75" y1="354.78" x2="201.75" y2="362.42" stroke="#f08a20" stroke-width="0.7" />
<line x1="199.55" y1="354.78" x2="203.95" y2="354.78" stroke="#f08a20" stroke-width="0.7" />
<line x1="199.55" y1="362.42" x2="203.95" y2="362.42" stroke="#f08a20" stroke-width="0.7" />
<circle cx="201.75" cy="358.60" r="2.15" fill="#f08a20"/>
<line x1="213.80" y1="355.92" x2="213.80" y2="362.80" stroke="#f08a20" stroke-width="0.7" />
<line x1="211.60" y1="355.92" x2="216.00" y2="355.92" stroke="#f08a20" stroke-width="0.7" />
<line x1="211.60" y1="362.80" x2="216.00" y2="362.80" stroke="#f08a20" stroke-width="0.7" />
<circle cx="213.80" cy="359.36" r="2.15" fill="#f08a20"/>
<line x1="225.86" y1="356.30" x2="225.86" y2="363.18" stroke="#f08a20" stroke-width="0.7" />
<line x1="223.66" y1="356.30" x2="228.06" y2="356.30" stroke="#f08a20" stroke-width="0.7" />
<line x1="223.66" y1="363.18" x2="228.06" y2="363.18" stroke="#f08a20" stroke-width="0.7" />
<circle cx="225.86" cy="359.74" r="2.15" fill="#f08a20"/>
<line x1="237.91" y1="378.84" x2="237.91" y2="384.19" stroke="#f08a20" stroke-width="0.7" />
<line x1="235.71" y1="378.84" x2="240.11" y2="378.84" stroke="#f08a20" stroke-width="0.7" />
<line x1="235.71" y1="384.19" x2="240.11" y2="384.19" stroke="#f08a20" stroke-width="0.7" />
<circle cx="237.91" cy="381.52" r="2.15" fill="#f08a20"/>
<line x1="249.96" y1="383.04" x2="249.96" y2="387.63" stroke="#f08a20" stroke-width="0.7" />
<line x1="247.76" y1="383.04" x2="252.16" y2="383.04" stroke="#f08a20" stroke-width="0.7" />
<line x1="247.76" y1="387.63" x2="252.16" y2="387.63" stroke="#f08a20" stroke-width="0.7" />
<circle cx="249.96" cy="385.34" r="2.15" fill="#f08a20"/>
<line x1="262.01" y1="383.81" x2="262.01" y2="388.39" stroke="#f08a20" stroke-width="0.7" />
<line x1="259.81" y1="383.81" x2="264.21" y2="383.81" stroke="#f08a20" stroke-width="0.7" />
<line x1="259.81" y1="388.39" x2="264.21" y2="388.39" stroke="#f08a20" stroke-width="0.7" />
<circle cx="262.01" cy="386.10" r="2.15" fill="#f08a20"/>
<line x1="274.06" y1="307.79" x2="274.06" y2="313.14" stroke="#f08a20" stroke-width="0.7" />
<line x1="271.86" y1="307.79" x2="276.26" y2="307.79" stroke="#f08a20" stroke-width="0.7" />
<line x1="271.86" y1="313.14" x2="276.26" y2="313.14" stroke="#f08a20" stroke-width="0.7" />
<circle cx="274.06" cy="310.46" r="2.15" fill="#f08a20"/>
<line x1="286.11" y1="316.19" x2="286.11" y2="320.01" stroke="#f08a20" stroke-width="0.7" />
<line x1="283.91" y1="316.19" x2="288.31" y2="316.19" stroke="#f08a20" stroke-width="0.7" />
<line x1="283.91" y1="320.01" x2="288.31" y2="320.01" stroke="#f08a20" stroke-width="0.7" />
<circle cx="286.11" cy="318.10" r="2.15" fill="#f08a20"/>
<line x1="298.17" y1="323.83" x2="298.17" y2="327.65" stroke="#f08a20" stroke-width="0.7" />
<line x1="295.97" y1="323.83" x2="300.37" y2="323.83" stroke="#f08a20" stroke-width="0.7" />
<line x1="295.97" y1="327.65" x2="300.37" y2="327.65" stroke="#f08a20" stroke-width="0.7" />
<circle cx="298.17" cy="325.74" r="2.15" fill="#f08a20"/>
<line x1="310.22" y1="386.86" x2="310.22" y2="392.98" stroke="#f08a20" stroke-width="0.7" />
<line x1="308.02" y1="386.86" x2="312.42" y2="386.86" stroke="#f08a20" stroke-width="0.7" />
<line x1="308.02" y1="392.98" x2="312.42" y2="392.98" stroke="#f08a20" stroke-width="0.7" />
<circle cx="310.22" cy="389.92" r="2.15" fill="#f08a20"/>
<line x1="322.27" y1="386.86" x2="322.27" y2="392.98" stroke="#f08a20" stroke-width="0.7" />
<line x1="320.07" y1="386.86" x2="324.47" y2="386.86" stroke="#f08a20" stroke-width="0.7" />
<line x1="320.07" y1="392.98" x2="324.47" y2="392.98" stroke="#f08a20" stroke-width="0.7" />
<circle cx="322.27" cy="389.92" r="2.15" fill="#f08a20"/>
<line x1="334.32" y1="385.72" x2="334.32" y2="392.59" stroke="#f08a20" stroke-width="0.7" />
<line x1="332.12" y1="385.72" x2="336.52" y2="385.72" stroke="#f08a20" stroke-width="0.7" />
<line x1="332.12" y1="392.59" x2="336.52" y2="392.59" stroke="#f08a20" stroke-width="0.7" />
<circle cx="334.32" cy="389.16" r="2.15" fill="#f08a20"/>
<path d="M201.75,369.67 L213.80,370.06 L225.86,370.06 L237.91,386.10 L249.96,387.25 L262.01,388.01 L274.06,334.91 L286.11,339.50 L298.17,345.23 L310.22,392.98 L322.27,392.98 L334.32,392.98" fill="none" stroke="#9a9a10" stroke-width="0.8"/>
<line x1="201.75" y1="367.38" x2="201.75" y2="371.97" stroke="#9a9a10" stroke-width="0.7" />
<line x1="199.55" y1="367.38" x2="203.95" y2="367.38" stroke="#9a9a10" stroke-width="0.7" />
<line x1="199.55" y1="371.97" x2="203.95" y2="371.97" stroke="#9a9a10" stroke-width="0.7" />
<circle cx="201.75" cy="369.67" r="2.15" fill="#9a9a10"/>
<line x1="213.80" y1="367.76" x2="213.80" y2="372.35" stroke="#9a9a10" stroke-width="0.7" />
<line x1="211.60" y1="367.76" x2="216.00" y2="367.76" stroke="#9a9a10" stroke-width="0.7" />
<line x1="211.60" y1="372.35" x2="216.00" y2="372.35" stroke="#9a9a10" stroke-width="0.7" />
<circle cx="213.80" cy="370.06" r="2.15" fill="#9a9a10"/>
<line x1="225.86" y1="367.76" x2="225.86" y2="372.35" stroke="#9a9a10" stroke-width="0.7" />
<line x1="223.66" y1="367.76" x2="228.06" y2="367.76" stroke="#9a9a10" stroke-width="0.7" />
<line x1="223.66" y1="372.35" x2="228.06" y2="372.35" stroke="#9a9a10" stroke-width="0.7" />
<circle cx="225.86" cy="370.06" r="2.15" fill="#9a9a10"/>
<line x1="237.91" y1="384.19" x2="237.91" y2="388.01" stroke="#9a9a10" stroke-width="0.7" />
<line x1="235.71" y1="384.19" x2="240.11" y2="384.19" stroke="#9a9a10" stroke-width="0.7" />
<line x1="235.71" y1="388.01" x2="240.11" y2="388.01" stroke="#9a9a10" stroke-width="0.7" />
<circle cx="237.91" cy="386.10" r="2.15" fill="#9a9a10"/>
<line x1="249.96" y1="385.34" x2="249.96" y2="389.16" stroke="#9a9a10" stroke-width="0.7" />
<line x1="247.76" y1="385.34" x2="252.16" y2="385.34" stroke="#9a9a10" stroke-width="0.7" />
<line x1="247.76" y1="389.16" x2="252.16" y2="389.16" stroke="#9a9a10" stroke-width="0.7" />
<circle cx="249.96" cy="387.25" r="2.15" fill="#9a9a10"/>
<line x1="262.01" y1="386.48" x2="262.01" y2="389.54" stroke="#9a9a10" stroke-width="0.7" />
<line x1="259.81" y1="386.48" x2="264.21" y2="386.48" stroke="#9a9a10" stroke-width="0.7" />
<line x1="259.81" y1="389.54" x2="264.21" y2="389.54" stroke="#9a9a10" stroke-width="0.7" />
<circle cx="262.01" cy="388.01" r="2.15" fill="#9a9a10"/>
<line x1="274.06" y1="332.62" x2="274.06" y2="337.20" stroke="#9a9a10" stroke-width="0.7" />
<line x1="271.86" y1="332.62" x2="276.26" y2="332.62" stroke="#9a9a10" stroke-width="0.7" />
<line x1="271.86" y1="337.20" x2="276.26" y2="337.20" stroke="#9a9a10" stroke-width="0.7" />
<circle cx="274.06" cy="334.91" r="2.15" fill="#9a9a10"/>
<line x1="286.11" y1="337.59" x2="286.11" y2="341.41" stroke="#9a9a10" stroke-width="0.7" />
<line x1="283.91" y1="337.59" x2="288.31" y2="337.59" stroke="#9a9a10" stroke-width="0.7" />
<line x1="283.91" y1="341.41" x2="288.31" y2="341.41" stroke="#9a9a10" stroke-width="0.7" />
<circle cx="286.11" cy="339.50" r="2.15" fill="#9a9a10"/>
<line x1="298.17" y1="343.32" x2="298.17" y2="347.14" stroke="#9a9a10" stroke-width="0.7" />
<line x1="295.97" y1="343.32" x2="300.37" y2="343.32" stroke="#9a9a10" stroke-width="0.7" />
<line x1="295.97" y1="347.14" x2="300.37" y2="347.14" stroke="#9a9a10" stroke-width="0.7" />
<circle cx="298.17" cy="345.23" r="2.15" fill="#9a9a10"/>
<line x1="310.22" y1="390.68" x2="310.22" y2="395.27" stroke="#9a9a10" stroke-width="0.7" />
<line x1="308.02" y1="390.68" x2="312.42" y2="390.68" stroke="#9a9a10" stroke-width="0.7" />
<line x1="308.02" y1="395.27" x2="312.42" y2="395.27" stroke="#9a9a10" stroke-width="0.7" />
<circle cx="310.22" cy="392.98" r="2.15" fill="#9a9a10"/>
<line x1="322.27" y1="391.07" x2="322.27" y2="394.89" stroke="#9a9a10" stroke-width="0.7" />
<line x1="320.07" y1="391.07" x2="324.47" y2="391.07" stroke="#9a9a10" stroke-width="0.7" />
<line x1="320.07" y1="394.89" x2="324.47" y2="394.89" stroke="#9a9a10" stroke-width="0.7" />
<circle cx="322.27" cy="392.98" r="2.15" fill="#9a9a10"/>
<line x1="334.32" y1="391.07" x2="334.32" y2="394.89" stroke="#9a9a10" stroke-width="0.7" />
<line x1="332.12" y1="391.07" x2="336.52" y2="391.07" stroke="#9a9a10" stroke-width="0.7" />
<line x1="332.12" y1="394.89" x2="336.52" y2="394.89" stroke="#9a9a10" stroke-width="0.7" />
<circle cx="334.32" cy="392.98" r="2.15" fill="#9a9a10"/>
<path d="M201.75,374.26 L213.80,374.64 L225.86,375.02 L237.91,387.63 L249.96,388.77 L262.01,389.16 L274.06,349.05 L286.11,352.87 L298.17,355.92 L310.22,391.83 L322.27,391.83 L334.32,392.59" fill="none" stroke="#7a1414" stroke-width="0.8"/>
<line x1="201.75" y1="371.58" x2="201.75" y2="376.93" stroke="#7a1414" stroke-width="0.7" />
<line x1="199.55" y1="371.58" x2="203.95" y2="371.58" stroke="#7a1414" stroke-width="0.7" />
<line x1="199.55" y1="376.93" x2="203.95" y2="376.93" stroke="#7a1414" stroke-width="0.7" />
<circle cx="201.75" cy="374.26" r="2.15" fill="#7a1414"/>
<line x1="213.80" y1="371.97" x2="213.80" y2="377.31" stroke="#7a1414" stroke-width="0.7" />
<line x1="211.60" y1="371.97" x2="216.00" y2="371.97" stroke="#7a1414" stroke-width="0.7" />
<line x1="211.60" y1="377.31" x2="216.00" y2="377.31" stroke="#7a1414" stroke-width="0.7" />
<circle cx="213.80" cy="374.64" r="2.15" fill="#7a1414"/>
<line x1="225.86" y1="372.73" x2="225.86" y2="377.31" stroke="#7a1414" stroke-width="0.7" />
<line x1="223.66" y1="372.73" x2="228.06" y2="372.73" stroke="#7a1414" stroke-width="0.7" />
<line x1="223.66" y1="377.31" x2="228.06" y2="377.31" stroke="#7a1414" stroke-width="0.7" />
<circle cx="225.86" cy="375.02" r="2.15" fill="#7a1414"/>
<line x1="237.91" y1="385.72" x2="237.91" y2="389.54" stroke="#7a1414" stroke-width="0.7" />
<line x1="235.71" y1="385.72" x2="240.11" y2="385.72" stroke="#7a1414" stroke-width="0.7" />
<line x1="235.71" y1="389.54" x2="240.11" y2="389.54" stroke="#7a1414" stroke-width="0.7" />
<circle cx="237.91" cy="387.63" r="2.15" fill="#7a1414"/>
<line x1="249.96" y1="386.86" x2="249.96" y2="390.68" stroke="#7a1414" stroke-width="0.7" />
<line x1="247.76" y1="386.86" x2="252.16" y2="386.86" stroke="#7a1414" stroke-width="0.7" />
<line x1="247.76" y1="390.68" x2="252.16" y2="390.68" stroke="#7a1414" stroke-width="0.7" />
<circle cx="249.96" cy="388.77" r="2.15" fill="#7a1414"/>
<line x1="262.01" y1="387.25" x2="262.01" y2="391.07" stroke="#7a1414" stroke-width="0.7" />
<line x1="259.81" y1="387.25" x2="264.21" y2="387.25" stroke="#7a1414" stroke-width="0.7" />
<line x1="259.81" y1="391.07" x2="264.21" y2="391.07" stroke="#7a1414" stroke-width="0.7" />
<circle cx="262.01" cy="389.16" r="2.15" fill="#7a1414"/>
<line x1="274.06" y1="346.75" x2="274.06" y2="351.34" stroke="#7a1414" stroke-width="0.7" />
<line x1="271.86" y1="346.75" x2="276.26" y2="346.75" stroke="#7a1414" stroke-width="0.7" />
<line x1="271.86" y1="351.34" x2="276.26" y2="351.34" stroke="#7a1414" stroke-width="0.7" />
<circle cx="274.06" cy="349.05" r="2.15" fill="#7a1414"/>
<line x1="286.11" y1="350.96" x2="286.11" y2="354.78" stroke="#7a1414" stroke-width="0.7" />
<line x1="283.91" y1="350.96" x2="288.31" y2="350.96" stroke="#7a1414" stroke-width="0.7" />
<line x1="283.91" y1="354.78" x2="288.31" y2="354.78" stroke="#7a1414" stroke-width="0.7" />
<circle cx="286.11" cy="352.87" r="2.15" fill="#7a1414"/>
<line x1="298.17" y1="354.01" x2="298.17" y2="357.83" stroke="#7a1414" stroke-width="0.7" />
<line x1="295.97" y1="354.01" x2="300.37" y2="354.01" stroke="#7a1414" stroke-width="0.7" />
<line x1="295.97" y1="357.83" x2="300.37" y2="357.83" stroke="#7a1414" stroke-width="0.7" />
<circle cx="298.17" cy="355.92" r="2.15" fill="#7a1414"/>
<line x1="310.22" y1="386.48" x2="310.22" y2="397.18" stroke="#7a1414" stroke-width="0.7" />
<line x1="308.02" y1="386.48" x2="312.42" y2="386.48" stroke="#7a1414" stroke-width="0.7" />
<line x1="308.02" y1="397.18" x2="312.42" y2="397.18" stroke="#7a1414" stroke-width="0.7" />
<circle cx="310.22" cy="391.83" r="2.15" fill="#7a1414"/>
<line x1="322.27" y1="389.92" x2="322.27" y2="393.74" stroke="#7a1414" stroke-width="0.7" />
<line x1="320.07" y1="389.92" x2="324.47" y2="389.92" stroke="#7a1414" stroke-width="0.7" />
<line x1="320.07" y1="393.74" x2="324.47" y2="393.74" stroke="#7a1414" stroke-width="0.7" />
<circle cx="322.27" cy="391.83" r="2.15" fill="#7a1414"/>
<line x1="334.32" y1="390.68" x2="334.32" y2="394.50" stroke="#7a1414" stroke-width="0.7" />
<line x1="332.12" y1="390.68" x2="336.52" y2="390.68" stroke="#7a1414" stroke-width="0.7" />
<line x1="332.12" y1="394.50" x2="336.52" y2="394.50" stroke="#7a1414" stroke-width="0.7" />
<circle cx="334.32" cy="392.59" r="2.15" fill="#7a1414"/>
<path d="M201.75,363.18 L213.80,363.94 L225.86,363.94 L237.91,384.57 L249.96,386.86 L262.01,387.63 L274.06,312.37 L286.11,318.49 L298.17,326.13 L310.22,391.07 L322.27,390.68 L334.32,390.68" fill="none" stroke="#2a9a1a" stroke-width="0.8"/>
<line x1="201.75" y1="361.65" x2="201.75" y2="364.71" stroke="#2a9a1a" stroke-width="0.7" />
<line x1="199.55" y1="361.65" x2="203.95" y2="361.65" stroke="#2a9a1a" stroke-width="0.7" />
<line x1="199.55" y1="364.71" x2="203.95" y2="364.71" stroke="#2a9a1a" stroke-width="0.7" />
<circle cx="201.75" cy="363.18" r="2.15" fill="#2a9a1a"/>
<line x1="213.80" y1="362.42" x2="213.80" y2="365.47" stroke="#2a9a1a" stroke-width="0.7" />
<line x1="211.60" y1="362.42" x2="216.00" y2="362.42" stroke="#2a9a1a" stroke-width="0.7" />
<line x1="211.60" y1="365.47" x2="216.00" y2="365.47" stroke="#2a9a1a" stroke-width="0.7" />
<circle cx="213.80" cy="363.94" r="2.15" fill="#2a9a1a"/>
<line x1="225.86" y1="362.42" x2="225.86" y2="365.47" stroke="#2a9a1a" stroke-width="0.7" />
<line x1="223.66" y1="362.42" x2="228.06" y2="362.42" stroke="#2a9a1a" stroke-width="0.7" />
<line x1="223.66" y1="365.47" x2="228.06" y2="365.47" stroke="#2a9a1a" stroke-width="0.7" />
<circle cx="225.86" cy="363.94" r="2.15" fill="#2a9a1a"/>
<line x1="237.91" y1="383.04" x2="237.91" y2="386.10" stroke="#2a9a1a" stroke-width="0.7" />
<line x1="235.71" y1="383.04" x2="240.11" y2="383.04" stroke="#2a9a1a" stroke-width="0.7" />
<line x1="235.71" y1="386.10" x2="240.11" y2="386.10" stroke="#2a9a1a" stroke-width="0.7" />
<circle cx="237.91" cy="384.57" r="2.15" fill="#2a9a1a"/>
<line x1="249.96" y1="385.34" x2="249.96" y2="388.39" stroke="#2a9a1a" stroke-width="0.7" />
<line x1="247.76" y1="385.34" x2="252.16" y2="385.34" stroke="#2a9a1a" stroke-width="0.7" />
<line x1="247.76" y1="388.39" x2="252.16" y2="388.39" stroke="#2a9a1a" stroke-width="0.7" />
<circle cx="249.96" cy="386.86" r="2.15" fill="#2a9a1a"/>
<line x1="262.01" y1="386.10" x2="262.01" y2="389.16" stroke="#2a9a1a" stroke-width="0.7" />
<line x1="259.81" y1="386.10" x2="264.21" y2="386.10" stroke="#2a9a1a" stroke-width="0.7" />
<line x1="259.81" y1="389.16" x2="264.21" y2="389.16" stroke="#2a9a1a" stroke-width="0.7" />
<circle cx="262.01" cy="387.63" r="2.15" fill="#2a9a1a"/>
<line x1="274.06" y1="310.46" x2="274.06" y2="314.28" stroke="#2a9a1a" stroke-width="0.7" />
<line x1="271.86" y1="310.46" x2="276.26" y2="310.46" stroke="#2a9a1a" stroke-width="0.7" />
<line x1="271.86" y1="314.28" x2="276.26" y2="314.28" stroke="#2a9a1a" stroke-width="0.7" />
<circle cx="274.06" cy="312.37" r="2.15" fill="#2a9a1a"/>
<line x1="286.11" y1="316.58" x2="286.11" y2="320.40" stroke="#2a9a1a" stroke-width="0.7" />
<line x1="283.91" y1="316.58" x2="288.31" y2="316.58" stroke="#2a9a1a" stroke-width="0.7" />
<line x1="283.91" y1="320.40" x2="288.31" y2="320.40" stroke="#2a9a1a" stroke-width="0.7" />
<circle cx="286.11" cy="318.49" r="2.15" fill="#2a9a1a"/>
<line x1="298.17" y1="324.22" x2="298.17" y2="328.04" stroke="#2a9a1a" stroke-width="0.7" />
<line x1="295.97" y1="324.22" x2="300.37" y2="324.22" stroke="#2a9a1a" stroke-width="0.7" />
<line x1="295.97" y1="328.04" x2="300.37" y2="328.04" stroke="#2a9a1a" stroke-width="0.7" />
<circle cx="298.17" cy="326.13" r="2.15" fill="#2a9a1a"/>
<line x1="310.22" y1="388.77" x2="310.22" y2="393.36" stroke="#2a9a1a" stroke-width="0.7" />
<line x1="308.02" y1="388.77" x2="312.42" y2="388.77" stroke="#2a9a1a" stroke-width="0.7" />
<line x1="308.02" y1="393.36" x2="312.42" y2="393.36" stroke="#2a9a1a" stroke-width="0.7" />
<circle cx="310.22" cy="391.07" r="2.15" fill="#2a9a1a"/>
<line x1="322.27" y1="388.77" x2="322.27" y2="392.59" stroke="#2a9a1a" stroke-width="0.7" />
<line x1="320.07" y1="388.77" x2="324.47" y2="388.77" stroke="#2a9a1a" stroke-width="0.7" />
<line x1="320.07" y1="392.59" x2="324.47" y2="392.59" stroke="#2a9a1a" stroke-width="0.7" />
<circle cx="322.27" cy="390.68" r="2.15" fill="#2a9a1a"/>
<line x1="334.32" y1="388.77" x2="334.32" y2="392.59" stroke="#2a9a1a" stroke-width="0.7" />
<line x1="332.12" y1="388.77" x2="336.52" y2="388.77" stroke="#2a9a1a" stroke-width="0.7" />
<line x1="332.12" y1="392.59" x2="336.52" y2="392.59" stroke="#2a9a1a" stroke-width="0.7" />
<circle cx="334.32" cy="390.68" r="2.15" fill="#2a9a1a"/>
<path d="M194.90,290.50 H339.00 V405.20 H194.90 Z" fill="none" stroke="#111" stroke-width="1.1"/>
<line x1="191.90" y1="405.20" x2="194.90" y2="405.20" stroke="#111" stroke-width="1.0" />
<text x="186.60" y="408.33" font-size="9.1" text-anchor="end" font-weight="bold" fill="#111" stroke="#111" stroke-width="0.1" >0</text>
<line x1="191.90" y1="386.10" x2="194.90" y2="386.10" stroke="#111" stroke-width="1.0" />
<text x="186.60" y="389.23" font-size="9.1" text-anchor="end" font-weight="bold" fill="#111" stroke="#111" stroke-width="0.1" >50</text>
<line x1="191.90" y1="367.00" x2="194.90" y2="367.00" stroke="#111" stroke-width="1.0" />
<text x="186.60" y="370.13" font-size="9.1" text-anchor="end" font-weight="bold" fill="#111" stroke="#111" stroke-width="0.1" >100</text>
<line x1="191.90" y1="347.90" x2="194.90" y2="347.90" stroke="#111" stroke-width="1.0" />
<text x="186.60" y="351.03" font-size="9.1" text-anchor="end" font-weight="bold" fill="#111" stroke="#111" stroke-width="0.1" >150</text>
<line x1="191.90" y1="328.80" x2="194.90" y2="328.80" stroke="#111" stroke-width="1.0" />
<text x="186.60" y="331.93" font-size="9.1" text-anchor="end" font-weight="bold" fill="#111" stroke="#111" stroke-width="0.1" >200</text>
<line x1="191.90" y1="309.70" x2="194.90" y2="309.70" stroke="#111" stroke-width="1.0" />
<text x="186.60" y="312.83" font-size="9.1" text-anchor="end" font-weight="bold" fill="#111" stroke="#111" stroke-width="0.1" >250</text>
<line x1="191.90" y1="290.60" x2="194.90" y2="290.60" stroke="#111" stroke-width="1.0" />
<text x="186.60" y="293.73" font-size="9.1" text-anchor="end" font-weight="bold" fill="#111" stroke="#111" stroke-width="0.1" >300</text>
<line x1="197.80" y1="405.20" x2="197.80" y2="408.20" stroke="#111" stroke-width="1.0" />
<text x="197.80" y="422.06" font-size="8.9" text-anchor="middle" font-weight="bold" fill="#111" stroke="#111" stroke-width="0.1" >0</text>
<line x1="220.85" y1="405.20" x2="220.85" y2="408.20" stroke="#111" stroke-width="1.0" />
<text x="220.85" y="422.06" font-size="8.9" text-anchor="middle" font-weight="bold" fill="#111" stroke="#111" stroke-width="0.1" >7</text>
<line x1="243.90" y1="405.20" x2="243.90" y2="408.20" stroke="#111" stroke-width="1.0" />
<text x="243.90" y="422.06" font-size="8.9" text-anchor="middle" font-weight="bold" fill="#111" stroke="#111" stroke-width="0.1" >14</text>
<line x1="266.95" y1="405.20" x2="266.95" y2="408.20" stroke="#111" stroke-width="1.0" />
<text x="266.95" y="422.06" font-size="8.9" text-anchor="middle" font-weight="bold" fill="#111" stroke="#111" stroke-width="0.1" >21</text>
<line x1="290.00" y1="405.20" x2="290.00" y2="408.20" stroke="#111" stroke-width="1.0" />
<text x="290.00" y="422.06" font-size="8.9" text-anchor="middle" font-weight="bold" fill="#111" stroke="#111" stroke-width="0.1" >28</text>
<line x1="313.05" y1="405.20" x2="313.05" y2="408.20" stroke="#111" stroke-width="1.0" />
<text x="313.05" y="422.06" font-size="8.9" text-anchor="middle" font-weight="bold" fill="#111" stroke="#111" stroke-width="0.1" >35</text>
<line x1="336.10" y1="405.20" x2="336.10" y2="408.20" stroke="#111" stroke-width="1.0" />
<text x="336.10" y="422.06" font-size="8.9" text-anchor="middle" font-weight="bold" fill="#111" stroke="#111" stroke-width="0.1" >42</text>
<text x="272.30" y="431.61" font-size="7.6" text-anchor="middle" font-weight="normal" fill="#111" stroke="#111" stroke-width="0.22" >Time (min)</text>
<text x="0" y="2.72" font-size="7.9" text-anchor="middle" font-weight="normal" fill="#111" stroke="#111" stroke-width="0.22" transform="translate(164.80,343.35) rotate(-90)" >OCR (pMol/min)</text>
<text x="271.30" y="286.91" font-size="7.6" text-anchor="middle" font-weight="normal" fill="#111" stroke="#111" stroke-width="0.22" >Scr siRNA</text>
<text x="159.30" y="292.04" font-size="10.0" text-anchor="start" font-weight="normal" fill="#111" stroke="#111" stroke-width="0.22" >g</text>
<line x1="406.40" y1="290.40" x2="406.40" y2="405.20" stroke="#e2404e" stroke-width="0.8" stroke-dasharray="2.0,2.0"/>
<text x="407.90" y="298.94" font-size="6.8" text-anchor="start" font-weight="normal" fill="#222" stroke="#222" stroke-width="0.22" >A</text>
<line x1="444.20" y1="290.40" x2="444.20" y2="405.20" stroke="#e2404e" stroke-width="0.8" stroke-dasharray="2.0,2.0"/>
<text x="445.70" y="298.94" font-size="6.8" text-anchor="start" font-weight="normal" fill="#222" stroke="#222" stroke-width="0.22" >B</text>
<line x1="481.00" y1="290.40" x2="481.00" y2="405.20" stroke="#e2404e" stroke-width="0.8" stroke-dasharray="2.0,2.0"/>
<text x="482.50" y="298.94" font-size="6.8" text-anchor="start" font-weight="normal" fill="#222" stroke="#222" stroke-width="0.22" >C</text>
<path d="M380.14,341.91 L392.17,339.61 L404.19,340.76 L416.22,355.74 L428.25,358.05 L440.27,359.20 L452.30,326.93 L464.32,318.86 L476.35,303.88 L488.37,371.88 L500.40,371.88 L512.43,373.03" fill="none" stroke="#f08a20" stroke-width="0.8"/>
<line x1="380.14" y1="338.46" x2="380.14" y2="345.37" stroke="#f08a20" stroke-width="0.7" />
<line x1="377.94" y1="338.46" x2="382.34" y2="338.46" stroke="#f08a20" stroke-width="0.7" />
<line x1="377.94" y1="345.37" x2="382.34" y2="345.37" stroke="#f08a20" stroke-width="0.7" />
<circle cx="380.14" cy="341.91" r="2.15" fill="#f08a20"/>
<line x1="392.17" y1="336.15" x2="392.17" y2="343.06" stroke="#f08a20" stroke-width="0.7" />
<line x1="389.97" y1="336.15" x2="394.37" y2="336.15" stroke="#f08a20" stroke-width="0.7" />
<line x1="389.97" y1="343.06" x2="394.37" y2="343.06" stroke="#f08a20" stroke-width="0.7" />
<circle cx="392.17" cy="339.61" r="2.15" fill="#f08a20"/>
<line x1="404.19" y1="337.30" x2="404.19" y2="344.22" stroke="#f08a20" stroke-width="0.7" />
<line x1="401.99" y1="337.30" x2="406.39" y2="337.30" stroke="#f08a20" stroke-width="0.7" />
<line x1="401.99" y1="344.22" x2="406.39" y2="344.22" stroke="#f08a20" stroke-width="0.7" />
<circle cx="404.19" cy="340.76" r="2.15" fill="#f08a20"/>
<line x1="416.22" y1="352.29" x2="416.22" y2="359.20" stroke="#f08a20" stroke-width="0.7" />
<line x1="414.02" y1="352.29" x2="418.42" y2="352.29" stroke="#f08a20" stroke-width="0.7" />
<line x1="414.02" y1="359.20" x2="418.42" y2="359.20" stroke="#f08a20" stroke-width="0.7" />
<circle cx="416.22" cy="355.74" r="2.15" fill="#f08a20"/>
<line x1="428.25" y1="354.59" x2="428.25" y2="361.50" stroke="#f08a20" stroke-width="0.7" />
<line x1="426.05" y1="354.59" x2="430.45" y2="354.59" stroke="#f08a20" stroke-width="0.7" />
<line x1="426.05" y1="361.50" x2="430.45" y2="361.50" stroke="#f08a20" stroke-width="0.7" />
<circle cx="428.25" cy="358.05" r="2.15" fill="#f08a20"/>
<line x1="440.27" y1="355.74" x2="440.27" y2="362.66" stroke="#f08a20" stroke-width="0.7" />
<line x1="438.07" y1="355.74" x2="442.47" y2="355.74" stroke="#f08a20" stroke-width="0.7" />
<line x1="438.07" y1="362.66" x2="442.47" y2="362.66" stroke="#f08a20" stroke-width="0.7" />
<circle cx="440.27" cy="359.20" r="2.15" fill="#f08a20"/>
<line x1="452.30" y1="323.47" x2="452.30" y2="330.39" stroke="#f08a20" stroke-width="0.7" />
<line x1="450.10" y1="323.47" x2="454.50" y2="323.47" stroke="#f08a20" stroke-width="0.7" />
<line x1="450.10" y1="330.39" x2="454.50" y2="330.39" stroke="#f08a20" stroke-width="0.7" />
<circle cx="452.30" cy="326.93" r="2.15" fill="#f08a20"/>
<line x1="464.32" y1="316.56" x2="464.32" y2="321.17" stroke="#f08a20" stroke-width="0.7" />
<line x1="462.12" y1="316.56" x2="466.52" y2="316.56" stroke="#f08a20" stroke-width="0.7" />
<line x1="462.12" y1="321.17" x2="466.52" y2="321.17" stroke="#f08a20" stroke-width="0.7" />
<circle cx="464.32" cy="318.86" r="2.15" fill="#f08a20"/>
<line x1="476.35" y1="300.42" x2="476.35" y2="307.34" stroke="#f08a20" stroke-width="0.7" />
<line x1="474.15" y1="300.42" x2="478.55" y2="300.42" stroke="#f08a20" stroke-width="0.7" />
<line x1="474.15" y1="307.34" x2="478.55" y2="307.34" stroke="#f08a20" stroke-width="0.7" />
<circle cx="476.35" cy="303.88" r="2.15" fill="#f08a20"/>
<line x1="488.37" y1="367.27" x2="488.37" y2="376.49" stroke="#f08a20" stroke-width="0.7" />
<line x1="486.17" y1="367.27" x2="490.57" y2="367.27" stroke="#f08a20" stroke-width="0.7" />
<line x1="486.17" y1="376.49" x2="490.57" y2="376.49" stroke="#f08a20" stroke-width="0.7" />
<circle cx="488.37" cy="371.88" r="2.15" fill="#f08a20"/>
<line x1="500.40" y1="368.42" x2="500.40" y2="375.33" stroke="#f08a20" stroke-width="0.7" />
<line x1="498.20" y1="368.42" x2="502.60" y2="368.42" stroke="#f08a20" stroke-width="0.7" />
<line x1="498.20" y1="375.33" x2="502.60" y2="375.33" stroke="#f08a20" stroke-width="0.7" />
<circle cx="500.40" cy="371.88" r="2.15" fill="#f08a20"/>
<line x1="512.43" y1="369.57" x2="512.43" y2="376.49" stroke="#f08a20" stroke-width="0.7" />
<line x1="510.23" y1="369.57" x2="514.63" y2="369.57" stroke="#f08a20" stroke-width="0.7" />
<line x1="510.23" y1="376.49" x2="514.63" y2="376.49" stroke="#f08a20" stroke-width="0.7" />
<circle cx="512.43" cy="373.03" r="2.15" fill="#f08a20"/>
<path d="M380.14,347.10 L392.17,346.52 L404.19,345.37 L416.22,356.89 L428.25,356.32 L440.27,358.05 L452.30,346.52 L464.32,336.15 L476.35,323.47 L488.37,373.03 L500.40,373.03 L512.43,374.18" fill="none" stroke="#7a1414" stroke-width="0.8"/>
<line x1="380.14" y1="344.79" x2="380.14" y2="349.40" stroke="#7a1414" stroke-width="0.7" />
<line x1="377.94" y1="344.79" x2="382.34" y2="344.79" stroke="#7a1414" stroke-width="0.7" />
<line x1="377.94" y1="349.40" x2="382.34" y2="349.40" stroke="#7a1414" stroke-width="0.7" />
<circle cx="380.14" cy="347.10" r="2.15" fill="#7a1414"/>
<line x1="392.17" y1="344.22" x2="392.17" y2="348.83" stroke="#7a1414" stroke-width="0.7" />
<line x1="389.97" y1="344.22" x2="394.37" y2="344.22" stroke="#7a1414" stroke-width="0.7" />
<line x1="389.97" y1="348.83" x2="394.37" y2="348.83" stroke="#7a1414" stroke-width="0.7" />
<circle cx="392.17" cy="346.52" r="2.15" fill="#7a1414"/>
<line x1="404.19" y1="343.06" x2="404.19" y2="347.68" stroke="#7a1414" stroke-width="0.7" />
<line x1="401.99" y1="343.06" x2="406.39" y2="343.06" stroke="#7a1414" stroke-width="0.7" />
<line x1="401.99" y1="347.68" x2="406.39" y2="347.68" stroke="#7a1414" stroke-width="0.7" />
<circle cx="404.19" cy="345.37" r="2.15" fill="#7a1414"/>
<line x1="416.22" y1="353.44" x2="416.22" y2="360.35" stroke="#7a1414" stroke-width="0.7" />
<line x1="414.02" y1="353.44" x2="418.42" y2="353.44" stroke="#7a1414" stroke-width="0.7" />
<line x1="414.02" y1="360.35" x2="418.42" y2="360.35" stroke="#7a1414" stroke-width="0.7" />
<circle cx="416.22" cy="356.89" r="2.15" fill="#7a1414"/>
<line x1="428.25" y1="352.86" x2="428.25" y2="359.78" stroke="#7a1414" stroke-width="0.7" />
<line x1="426.05" y1="352.86" x2="430.45" y2="352.86" stroke="#7a1414" stroke-width="0.7" />
<line x1="426.05" y1="359.78" x2="430.45" y2="359.78" stroke="#7a1414" stroke-width="0.7" />
<circle cx="428.25" cy="356.32" r="2.15" fill="#7a1414"/>
<line x1="440.27" y1="354.59" x2="440.27" y2="361.50" stroke="#7a1414" stroke-width="0.7" />
<line x1="438.07" y1="354.59" x2="442.47" y2="354.59" stroke="#7a1414" stroke-width="0.7" />
<line x1="438.07" y1="361.50" x2="442.47" y2="361.50" stroke="#7a1414" stroke-width="0.7" />
<circle cx="440.27" cy="358.05" r="2.15" fill="#7a1414"/>
<line x1="452.30" y1="343.07" x2="452.30" y2="349.98" stroke="#7a1414" stroke-width="0.7" />
<line x1="450.10" y1="343.07" x2="454.50" y2="343.07" stroke="#7a1414" stroke-width="0.7" />
<line x1="450.10" y1="349.98" x2="454.50" y2="349.98" stroke="#7a1414" stroke-width="0.7" />
<circle cx="452.30" cy="346.52" r="2.15" fill="#7a1414"/>
<line x1="464.32" y1="332.69" x2="464.32" y2="339.61" stroke="#7a1414" stroke-width="0.7" />
<line x1="462.12" y1="332.69" x2="466.52" y2="332.69" stroke="#7a1414" stroke-width="0.7" />
<line x1="462.12" y1="339.61" x2="466.52" y2="339.61" stroke="#7a1414" stroke-width="0.7" />
<circle cx="464.32" cy="336.15" r="2.15" fill="#7a1414"/>
<line x1="476.35" y1="318.86" x2="476.35" y2="328.08" stroke="#7a1414" stroke-width="0.7" />
<line x1="474.15" y1="318.86" x2="478.55" y2="318.86" stroke="#7a1414" stroke-width="0.7" />
<line x1="474.15" y1="328.08" x2="478.55" y2="328.08" stroke="#7a1414" stroke-width="0.7" />
<circle cx="476.35" cy="323.47" r="2.15" fill="#7a1414"/>
<line x1="488.37" y1="369.57" x2="488.37" y2="376.49" stroke="#7a1414" stroke-width="0.7" />
<line x1="486.17" y1="369.57" x2="490.57" y2="369.57" stroke="#7a1414" stroke-width="0.7" />
<line x1="486.17" y1="376.49" x2="490.57" y2="376.49" stroke="#7a1414" stroke-width="0.7" />
<circle cx="488.37" cy="373.03" r="2.15" fill="#7a1414"/>
<line x1="500.40" y1="369.57" x2="500.40" y2="376.49" stroke="#7a1414" stroke-width="0.7" />
<line x1="498.20" y1="369.57" x2="502.60" y2="369.57" stroke="#7a1414" stroke-width="0.7" />
<line x1="498.20" y1="376.49" x2="502.60" y2="376.49" stroke="#7a1414" stroke-width="0.7" />
<circle cx="500.40" cy="373.03" r="2.15" fill="#7a1414"/>
<line x1="512.43" y1="370.73" x2="512.43" y2="377.64" stroke="#7a1414" stroke-width="0.7" />
<line x1="510.23" y1="370.73" x2="514.63" y2="370.73" stroke="#7a1414" stroke-width="0.7" />
<line x1="510.23" y1="377.64" x2="514.63" y2="377.64" stroke="#7a1414" stroke-width="0.7" />
<circle cx="512.43" cy="374.18" r="2.15" fill="#7a1414"/>
<path d="M380.14,340.76 L392.17,338.46 L404.19,339.61 L416.22,355.74 L428.25,358.05 L440.27,361.50 L452.30,321.17 L464.32,310.80 L476.35,302.73 L488.37,371.88 L500.40,371.88 L512.43,373.03" fill="none" stroke="#9a9a10" stroke-width="0.8"/>
<line x1="380.14" y1="336.15" x2="380.14" y2="345.37" stroke="#9a9a10" stroke-width="0.7" />
<line x1="377.94" y1="336.15" x2="382.34" y2="336.15" stroke="#9a9a10" stroke-width="0.7" />
<line x1="377.94" y1="345.37" x2="382.34" y2="345.37" stroke="#9a9a10" stroke-width="0.7" />
<circle cx="380.14" cy="340.76" r="2.15" fill="#9a9a10"/>
<line x1="392.17" y1="333.85" x2="392.17" y2="343.07" stroke="#9a9a10" stroke-width="0.7" />
<line x1="389.97" y1="333.85" x2="394.37" y2="333.85" stroke="#9a9a10" stroke-width="0.7" />
<line x1="389.97" y1="343.07" x2="394.37" y2="343.07" stroke="#9a9a10" stroke-width="0.7" />
<circle cx="392.17" cy="338.46" r="2.15" fill="#9a9a10"/>
<line x1="404.19" y1="336.15" x2="404.19" y2="343.06" stroke="#9a9a10" stroke-width="0.7" />
<line x1="401.99" y1="336.15" x2="406.39" y2="336.15" stroke="#9a9a10" stroke-width="0.7" />
<line x1="401.99" y1="343.06" x2="406.39" y2="343.06" stroke="#9a9a10" stroke-width="0.7" />
<circle cx="404.19" cy="339.61" r="2.15" fill="#9a9a10"/>
<line x1="416.22" y1="351.13" x2="416.22" y2="360.35" stroke="#9a9a10" stroke-width="0.7" />
<line x1="414.02" y1="351.13" x2="418.42" y2="351.13" stroke="#9a9a10" stroke-width="0.7" />
<line x1="414.02" y1="360.35" x2="418.42" y2="360.35" stroke="#9a9a10" stroke-width="0.7" />
<circle cx="416.22" cy="355.74" r="2.15" fill="#9a9a10"/>
<line x1="428.25" y1="353.44" x2="428.25" y2="362.66" stroke="#9a9a10" stroke-width="0.7" />
<line x1="426.05" y1="353.44" x2="430.45" y2="353.44" stroke="#9a9a10" stroke-width="0.7" />
<line x1="426.05" y1="362.66" x2="430.45" y2="362.66" stroke="#9a9a10" stroke-width="0.7" />
<circle cx="428.25" cy="358.05" r="2.15" fill="#9a9a10"/>
<line x1="440.27" y1="356.89" x2="440.27" y2="366.12" stroke="#9a9a10" stroke-width="0.7" />
<line x1="438.07" y1="356.89" x2="442.47" y2="356.89" stroke="#9a9a10" stroke-width="0.7" />
<line x1="438.07" y1="366.12" x2="442.47" y2="366.12" stroke="#9a9a10" stroke-width="0.7" />
<circle cx="440.27" cy="361.50" r="2.15" fill="#9a9a10"/>
<line x1="452.30" y1="317.71" x2="452.30" y2="324.62" stroke="#9a9a10" stroke-width="0.7" />
<line x1="450.10" y1="317.71" x2="454.50" y2="317.71" stroke="#9a9a10" stroke-width="0.7" />
<line x1="450.10" y1="324.62" x2="454.50" y2="324.62" stroke="#9a9a10" stroke-width="0.7" />
<circle cx="452.30" cy="321.17" r="2.15" fill="#9a9a10"/>
<line x1="464.32" y1="308.49" x2="464.32" y2="313.10" stroke="#9a9a10" stroke-width="0.7" />
<line x1="462.12" y1="308.49" x2="466.52" y2="308.49" stroke="#9a9a10" stroke-width="0.7" />
<line x1="462.12" y1="313.10" x2="466.52" y2="313.10" stroke="#9a9a10" stroke-width="0.7" />
<circle cx="464.32" cy="310.80" r="2.15" fill="#9a9a10"/>
<line x1="476.35" y1="299.27" x2="476.35" y2="306.19" stroke="#9a9a10" stroke-width="0.7" />
<line x1="474.15" y1="299.27" x2="478.55" y2="299.27" stroke="#9a9a10" stroke-width="0.7" />
<line x1="474.15" y1="306.19" x2="478.55" y2="306.19" stroke="#9a9a10" stroke-width="0.7" />
<circle cx="476.35" cy="302.73" r="2.15" fill="#9a9a10"/>
<line x1="488.37" y1="367.27" x2="488.37" y2="376.49" stroke="#9a9a10" stroke-width="0.7" />
<line x1="486.17" y1="367.27" x2="490.57" y2="367.27" stroke="#9a9a10" stroke-width="0.7" />
<line x1="486.17" y1="376.49" x2="490.57" y2="376.49" stroke="#9a9a10" stroke-width="0.7" />
<circle cx="488.37" cy="371.88" r="2.15" fill="#9a9a10"/>
<line x1="500.40" y1="367.27" x2="500.40" y2="376.49" stroke="#9a9a10" stroke-width="0.7" />
<line x1="498.20" y1="367.27" x2="502.60" y2="367.27" stroke="#9a9a10" stroke-width="0.7" />
<line x1="498.20" y1="376.49" x2="502.60" y2="376.49" stroke="#9a9a10" stroke-width="0.7" />
<circle cx="500.40" cy="371.88" r="2.15" fill="#9a9a10"/>
<line x1="512.43" y1="368.42" x2="512.43" y2="377.64" stroke="#9a9a10" stroke-width="0.7" />
<line x1="510.23" y1="368.42" x2="514.63" y2="368.42" stroke="#9a9a10" stroke-width="0.7" />
<line x1="510.23" y1="377.64" x2="514.63" y2="377.64" stroke="#9a9a10" stroke-width="0.7" />
<circle cx="512.43" cy="373.03" r="2.15" fill="#9a9a10"/>
<path d="M380.14,353.44 L392.17,352.29 L404.19,358.62 L416.22,371.88 L428.25,374.76 L440.27,373.61 L452.30,340.18 L464.32,332.69 L476.35,343.06 L488.37,382.83 L500.40,382.25 L512.43,382.25" fill="none" stroke="#2a9a1a" stroke-width="0.8"/>
<line x1="380.14" y1="351.13" x2="380.14" y2="355.74" stroke="#2a9a1a" stroke-width="0.7" />
<line x1="377.94" y1="351.13" x2="382.34" y2="351.13" stroke="#2a9a1a" stroke-width="0.7" />
<line x1="377.94" y1="355.74" x2="382.34" y2="355.74" stroke="#2a9a1a" stroke-width="0.7" />
<circle cx="380.14" cy="353.44" r="2.15" fill="#2a9a1a"/>
<line x1="392.17" y1="349.98" x2="392.17" y2="354.59" stroke="#2a9a1a" stroke-width="0.7" />
<line x1="389.97" y1="349.98" x2="394.37" y2="349.98" stroke="#2a9a1a" stroke-width="0.7" />
<line x1="389.97" y1="354.59" x2="394.37" y2="354.59" stroke="#2a9a1a" stroke-width="0.7" />
<circle cx="392.17" cy="352.29" r="2.15" fill="#2a9a1a"/>
<line x1="404.19" y1="356.90" x2="404.19" y2="360.35" stroke="#2a9a1a" stroke-width="0.7" />
<line x1="401.99" y1="356.90" x2="406.39" y2="356.90" stroke="#2a9a1a" stroke-width="0.7" />
<line x1="401.99" y1="360.35" x2="406.39" y2="360.35" stroke="#2a9a1a" stroke-width="0.7" />
<circle cx="404.19" cy="358.62" r="2.15" fill="#2a9a1a"/>
<line x1="416.22" y1="370.15" x2="416.22" y2="373.61" stroke="#2a9a1a" stroke-width="0.7" />
<line x1="414.02" y1="370.15" x2="418.42" y2="370.15" stroke="#2a9a1a" stroke-width="0.7" />
<line x1="414.02" y1="373.61" x2="418.42" y2="373.61" stroke="#2a9a1a" stroke-width="0.7" />
<circle cx="416.22" cy="371.88" r="2.15" fill="#2a9a1a"/>
<line x1="428.25" y1="373.03" x2="428.25" y2="376.49" stroke="#2a9a1a" stroke-width="0.7" />
<line x1="426.05" y1="373.03" x2="430.45" y2="373.03" stroke="#2a9a1a" stroke-width="0.7" />
<line x1="426.05" y1="376.49" x2="430.45" y2="376.49" stroke="#2a9a1a" stroke-width="0.7" />
<circle cx="428.25" cy="374.76" r="2.15" fill="#2a9a1a"/>
<line x1="440.27" y1="371.88" x2="440.27" y2="375.33" stroke="#2a9a1a" stroke-width="0.7" />
<line x1="438.07" y1="371.88" x2="442.47" y2="371.88" stroke="#2a9a1a" stroke-width="0.7" />
<line x1="438.07" y1="375.33" x2="442.47" y2="375.33" stroke="#2a9a1a" stroke-width="0.7" />
<circle cx="440.27" cy="373.61" r="2.15" fill="#2a9a1a"/>
<line x1="452.30" y1="337.88" x2="452.30" y2="342.49" stroke="#2a9a1a" stroke-width="0.7" />
<line x1="450.10" y1="337.88" x2="454.50" y2="337.88" stroke="#2a9a1a" stroke-width="0.7" />
<line x1="450.10" y1="342.49" x2="454.50" y2="342.49" stroke="#2a9a1a" stroke-width="0.7" />
<circle cx="452.30" cy="340.18" r="2.15" fill="#2a9a1a"/>
<line x1="464.32" y1="330.39" x2="464.32" y2="335.00" stroke="#2a9a1a" stroke-width="0.7" />
<line x1="462.12" y1="330.39" x2="466.52" y2="330.39" stroke="#2a9a1a" stroke-width="0.7" />
<line x1="462.12" y1="335.00" x2="466.52" y2="335.00" stroke="#2a9a1a" stroke-width="0.7" />
<circle cx="464.32" cy="332.69" r="2.15" fill="#2a9a1a"/>
<line x1="476.35" y1="340.76" x2="476.35" y2="345.37" stroke="#2a9a1a" stroke-width="0.7" />
<line x1="474.15" y1="340.76" x2="478.55" y2="340.76" stroke="#2a9a1a" stroke-width="0.7" />
<line x1="474.15" y1="345.37" x2="478.55" y2="345.37" stroke="#2a9a1a" stroke-width="0.7" />
<circle cx="476.35" cy="343.06" r="2.15" fill="#2a9a1a"/>
<line x1="488.37" y1="380.52" x2="488.37" y2="385.13" stroke="#2a9a1a" stroke-width="0.7" />
<line x1="486.17" y1="380.52" x2="490.57" y2="380.52" stroke="#2a9a1a" stroke-width="0.7" />
<line x1="486.17" y1="385.13" x2="490.57" y2="385.13" stroke="#2a9a1a" stroke-width="0.7" />
<circle cx="488.37" cy="382.83" r="2.15" fill="#2a9a1a"/>
<line x1="500.40" y1="380.52" x2="500.40" y2="383.98" stroke="#2a9a1a" stroke-width="0.7" />
<line x1="498.20" y1="380.52" x2="502.60" y2="380.52" stroke="#2a9a1a" stroke-width="0.7" />
<line x1="498.20" y1="383.98" x2="502.60" y2="383.98" stroke="#2a9a1a" stroke-width="0.7" />
<circle cx="500.40" cy="382.25" r="2.15" fill="#2a9a1a"/>
<line x1="512.43" y1="380.52" x2="512.43" y2="383.98" stroke="#2a9a1a" stroke-width="0.7" />
<line x1="510.23" y1="380.52" x2="514.63" y2="380.52" stroke="#2a9a1a" stroke-width="0.7" />
<line x1="510.23" y1="383.98" x2="514.63" y2="383.98" stroke="#2a9a1a" stroke-width="0.7" />
<circle cx="512.43" cy="382.25" r="2.15" fill="#2a9a1a"/>
<path d="M373.10,290.40 H517.40 V405.20 H373.10 Z" fill="none" stroke="#111" stroke-width="1.1"/>
<line x1="370.10" y1="405.30" x2="373.10" y2="405.30" stroke="#111" stroke-width="1.0" />
<text x="364.80" y="408.43" font-size="9.1" text-anchor="end" font-weight="bold" fill="#111" stroke="#111" stroke-width="0.1" >0</text>
<line x1="370.10" y1="382.25" x2="373.10" y2="382.25" stroke="#111" stroke-width="1.0" />
<text x="364.80" y="385.38" font-size="9.1" text-anchor="end" font-weight="bold" fill="#111" stroke="#111" stroke-width="0.1" >20</text>
<line x1="370.10" y1="359.20" x2="373.10" y2="359.20" stroke="#111" stroke-width="1.0" />
<text x="364.80" y="362.33" font-size="9.1" text-anchor="end" font-weight="bold" fill="#111" stroke="#111" stroke-width="0.1" >40</text>
<line x1="370.10" y1="336.15" x2="373.10" y2="336.15" stroke="#111" stroke-width="1.0" />
<text x="364.80" y="339.28" font-size="9.1" text-anchor="end" font-weight="bold" fill="#111" stroke="#111" stroke-width="0.1" >60</text>
<line x1="370.10" y1="313.10" x2="373.10" y2="313.10" stroke="#111" stroke-width="1.0" />
<text x="364.80" y="316.23" font-size="9.1" text-anchor="end" font-weight="bold" fill="#111" stroke="#111" stroke-width="0.1" >80</text>
<line x1="370.10" y1="290.05" x2="373.10" y2="290.05" stroke="#111" stroke-width="1.0" />
<text x="364.80" y="293.18" font-size="9.1" text-anchor="end" font-weight="bold" fill="#111" stroke="#111" stroke-width="0.1" >100</text>
<line x1="376.20" y1="405.20" x2="376.20" y2="408.20" stroke="#111" stroke-width="1.0" />
<text x="376.20" y="422.06" font-size="8.9" text-anchor="middle" font-weight="bold" fill="#111" stroke="#111" stroke-width="0.1" >0</text>
<line x1="399.20" y1="405.20" x2="399.20" y2="408.20" stroke="#111" stroke-width="1.0" />
<text x="399.20" y="422.06" font-size="8.9" text-anchor="middle" font-weight="bold" fill="#111" stroke="#111" stroke-width="0.1" >7</text>
<line x1="422.20" y1="405.20" x2="422.20" y2="408.20" stroke="#111" stroke-width="1.0" />
<text x="422.20" y="422.06" font-size="8.9" text-anchor="middle" font-weight="bold" fill="#111" stroke="#111" stroke-width="0.1" >14</text>
<line x1="445.20" y1="405.20" x2="445.20" y2="408.20" stroke="#111" stroke-width="1.0" />
<text x="445.20" y="422.06" font-size="8.9" text-anchor="middle" font-weight="bold" fill="#111" stroke="#111" stroke-width="0.1" >21</text>
<line x1="468.20" y1="405.20" x2="468.20" y2="408.20" stroke="#111" stroke-width="1.0" />
<text x="468.20" y="422.06" font-size="8.9" text-anchor="middle" font-weight="bold" fill="#111" stroke="#111" stroke-width="0.1" >28</text>
<line x1="491.20" y1="405.20" x2="491.20" y2="408.20" stroke="#111" stroke-width="1.0" />
<text x="491.20" y="422.06" font-size="8.9" text-anchor="middle" font-weight="bold" fill="#111" stroke="#111" stroke-width="0.1" >35</text>
<line x1="514.20" y1="405.20" x2="514.20" y2="408.20" stroke="#111" stroke-width="1.0" />
<text x="514.20" y="422.06" font-size="8.9" text-anchor="middle" font-weight="bold" fill="#111" stroke="#111" stroke-width="0.1" >42</text>
<text x="456.20" y="431.61" font-size="7.6" text-anchor="middle" font-weight="normal" fill="#111" stroke="#111" stroke-width="0.22" >Time (min)</text>
<text x="0" y="2.72" font-size="7.9" text-anchor="middle" font-weight="normal" fill="#111" stroke="#111" stroke-width="0.22" transform="translate(345.30,343.30) rotate(-90)" >OCR (pMol/min)</text>
<text x="446.60" y="286.81" font-size="7.6" text-anchor="middle" font-weight="normal" fill="#111" stroke="#111" stroke-width="0.22" >MCU siRNA</text>
<text x="342.60" y="291.64" font-size="10.0" text-anchor="start" font-weight="normal" fill="#111" stroke="#111" stroke-width="0.22" >h</text>
<rect x="566.60" y="352.02" width="10.40" height="51.48" fill="url(#pR)" stroke="#8e2a3a" stroke-width="0.8" />
<line x1="571.80" y1="351.62" x2="571.80" y2="345.40" stroke="#8e2a3a" stroke-width="0.9" />
<line x1="569.60" y1="345.40" x2="574.00" y2="345.40" stroke="#8e2a3a" stroke-width="0.9" />
<rect x="578.90" y="325.05" width="10.40" height="78.45" fill="url(#pO)" stroke="#f0964a" stroke-width="0.8" />
<line x1="584.10" y1="324.65" x2="584.10" y2="319.46" stroke="#f0964a" stroke-width="0.9" />
<line x1="581.90" y1="319.46" x2="586.30" y2="319.46" stroke="#f0964a" stroke-width="0.9" />
<rect x="591.50" y="343.72" width="10.40" height="59.78" fill="url(#pY)" stroke="#a4a03a" stroke-width="0.8" />
<line x1="596.70" y1="343.32" x2="596.70" y2="339.18" stroke="#a4a03a" stroke-width="0.9" />
<line x1="594.50" y1="339.18" x2="598.90" y2="339.18" stroke="#a4a03a" stroke-width="0.9" />
<rect x="604.40" y="331.79" width="10.40" height="71.71" fill="url(#pG)" stroke="#3e9a36" stroke-width="0.8" />
<line x1="609.60" y1="331.39" x2="609.60" y2="329.84" stroke="#3e9a36" stroke-width="0.9" />
<line x1="607.40" y1="329.84" x2="611.80" y2="329.84" stroke="#3e9a36" stroke-width="0.9" />
<rect x="629.80" y="377.96" width="10.40" height="25.54" fill="url(#pR)" stroke="#8e2a3a" stroke-width="0.8" />
<line x1="635.00" y1="377.56" x2="635.00" y2="371.34" stroke="#8e2a3a" stroke-width="0.9" />
<line x1="632.80" y1="371.34" x2="637.20" y2="371.34" stroke="#8e2a3a" stroke-width="0.9" />
<rect x="641.90" y="374.85" width="10.40" height="28.65" fill="url(#pO)" stroke="#f0964a" stroke-width="0.8" />
<line x1="647.10" y1="374.45" x2="647.10" y2="369.26" stroke="#f0964a" stroke-width="0.9" />
<line x1="644.90" y1="369.26" x2="649.30" y2="369.26" stroke="#f0964a" stroke-width="0.9" />
<rect x="654.00" y="373.81" width="10.40" height="29.69" fill="url(#pY2)" stroke="#d0c840" stroke-width="0.8" />
<line x1="659.20" y1="373.41" x2="659.20" y2="367.19" stroke="#d0c840" stroke-width="0.9" />
<line x1="657.00" y1="367.19" x2="661.40" y2="367.19" stroke="#d0c840" stroke-width="0.9" />
<rect x="666.90" y="382.11" width="10.40" height="21.39" fill="url(#pG)" stroke="#3e9a36" stroke-width="0.8" />
<line x1="672.10" y1="381.71" x2="672.10" y2="378.60" stroke="#3e9a36" stroke-width="0.9" />
<line x1="669.90" y1="378.60" x2="674.30" y2="378.60" stroke="#3e9a36" stroke-width="0.9" />
<path d="M559.30,299.70 H684.30 V403.60 H559.30 Z" fill="none" stroke="#222" stroke-width="0.9"/>
<line x1="557.10" y1="403.50" x2="559.30" y2="403.50" stroke="#222" stroke-width="0.8" />
<text x="553.90" y="405.60" font-size="6.1" text-anchor="end" font-weight="bold" fill="#222" stroke="#222" stroke-width="0.1" >0</text>
<line x1="557.10" y1="382.75" x2="559.30" y2="382.75" stroke="#222" stroke-width="0.8" />
<text x="553.90" y="384.85" font-size="6.1" text-anchor="end" font-weight="bold" fill="#222" stroke="#222" stroke-width="0.1" >20</text>
<line x1="557.10" y1="362.00" x2="559.30" y2="362.00" stroke="#222" stroke-width="0.8" />
<text x="553.90" y="364.10" font-size="6.1" text-anchor="end" font-weight="bold" fill="#222" stroke="#222" stroke-width="0.1" >40</text>
<line x1="557.10" y1="341.25" x2="559.30" y2="341.25" stroke="#222" stroke-width="0.8" />
<text x="553.90" y="343.35" font-size="6.1" text-anchor="end" font-weight="bold" fill="#222" stroke="#222" stroke-width="0.1" >60</text>
<line x1="557.10" y1="320.50" x2="559.30" y2="320.50" stroke="#222" stroke-width="0.8" />
<text x="553.90" y="322.60" font-size="6.1" text-anchor="end" font-weight="bold" fill="#222" stroke="#222" stroke-width="0.1" >80</text>
<line x1="557.10" y1="299.75" x2="559.30" y2="299.75" stroke="#222" stroke-width="0.8" />
<text x="553.90" y="301.85" font-size="6.1" text-anchor="end" font-weight="bold" fill="#222" stroke="#222" stroke-width="0.1" >100</text>
<text x="0" y="2.75" font-size="8.0" text-anchor="middle" font-weight="normal" fill="#111" stroke="#111" stroke-width="0.22" transform="translate(538.30,346.00) rotate(-90)" >OCR (pMol/min)</text>
<text x="623.80" y="298.05" font-size="7.7" text-anchor="middle" font-weight="normal" fill="#111" stroke="#111" stroke-width="0.22" >Basal OCR</text>
<text x="535.80" y="290.94" font-size="10.0" text-anchor="start" font-weight="normal" fill="#111" stroke="#111" stroke-width="0.22" >i</text>
<line x1="580.00" y1="309.50" x2="644.80" y2="309.50" stroke="#444" stroke-width="0.8" />
<path d="M610.55,306.05 L610.55,308.75 M609.38,306.72 L611.72,308.07 M611.72,306.72 L609.38,308.07 M614.70,306.05 L614.70,308.75 M613.53,306.72 L615.87,308.07 M615.87,306.72 L613.53,308.07 M618.85,306.05 L618.85,308.75 M617.68,306.72 L620.02,308.07 M620.02,306.72 L617.68,308.07" stroke="#7a7a7a" stroke-width="0.95" fill="none"/>
<line x1="596.20" y1="316.50" x2="655.20" y2="316.50" stroke="#444" stroke-width="0.8" />
<path d="M621.25,312.95 L621.25,315.65 M620.08,313.62 L622.42,314.98 M622.42,313.62 L620.08,314.98 M625.40,312.95 L625.40,315.65 M624.23,313.62 L626.57,314.98 M626.57,313.62 L624.23,314.98 M629.55,312.95 L629.55,315.65 M628.38,313.62 L630.72,314.98 M630.72,313.62 L628.38,314.98" stroke="#7a7a7a" stroke-width="0.95" fill="none"/>
<line x1="609.10" y1="323.30" x2="668.80" y2="323.30" stroke="#444" stroke-width="0.8" />
<path d="M633.25,320.15 L633.25,322.85 M632.08,320.82 L634.42,322.18 M634.42,320.82 L632.08,322.18 M637.40,320.15 L637.40,322.85 M636.23,320.82 L638.57,322.18 M638.57,320.82 L636.23,322.18 M641.55,320.15 L641.55,322.85 M640.38,320.82 L642.72,322.18 M642.72,320.82 L640.38,322.18" stroke="#7a7a7a" stroke-width="0.95" fill="none"/>
<path d="M582.22,315.85 L582.22,318.55 M581.06,316.52 L583.39,317.88 M583.39,316.52 L581.06,317.88 M586.38,315.85 L586.38,318.55 M585.21,316.52 L587.54,317.88 M587.54,316.52 L585.21,317.88" stroke="#7a7a7a" stroke-width="0.95" fill="none"/>
<path d="M596.60,335.25 L596.60,337.95 M595.43,335.93 L597.77,337.28 M597.77,335.93 L595.43,337.28" stroke="#7a7a7a" stroke-width="0.95" fill="none"/>
<path d="M606.32,326.65 L606.32,329.35 M605.16,327.32 L607.49,328.68 M607.49,327.32 L605.16,328.68 M610.48,326.65 L610.48,329.35 M609.31,327.32 L611.64,328.68 M611.64,327.32 L609.31,328.68" stroke="#7a7a7a" stroke-width="0.95" fill="none"/>
<line x1="565.20" y1="407.70" x2="614.60" y2="407.70" stroke="#555" stroke-width="0.8" />
<line x1="628.70" y1="407.70" x2="678.10" y2="407.70" stroke="#555" stroke-width="0.8" />
<text x="589.90" y="416.75" font-size="7.7" text-anchor="middle" font-weight="normal" fill="#111" stroke="#111" stroke-width="0.22" >Scr siRNA</text>
<text x="653.40" y="416.75" font-size="7.7" text-anchor="middle" font-weight="normal" fill="#111" stroke="#111" stroke-width="0.22" >+MCU siRNA</text>
<rect x="34.60" y="507.79" width="10.40" height="48.21" fill="url(#pR)" stroke="#8e2a3a" stroke-width="0.8" />
<line x1="39.80" y1="507.39" x2="39.80" y2="503.46" stroke="#8e2a3a" stroke-width="0.9" />
<line x1="37.60" y1="503.46" x2="42.00" y2="503.46" stroke="#8e2a3a" stroke-width="0.9" />
<rect x="46.40" y="476.37" width="10.40" height="79.63" fill="url(#pO)" stroke="#f0964a" stroke-width="0.8" />
<line x1="51.60" y1="475.97" x2="51.60" y2="470.07" stroke="#f0964a" stroke-width="0.9" />
<line x1="49.40" y1="470.07" x2="53.80" y2="470.07" stroke="#f0964a" stroke-width="0.9" />
<rect x="59.50" y="496.01" width="10.40" height="59.99" fill="url(#pY)" stroke="#a4a03a" stroke-width="0.8" />
<line x1="64.70" y1="495.61" x2="64.70" y2="490.70" stroke="#a4a03a" stroke-width="0.9" />
<line x1="62.50" y1="490.70" x2="66.90" y2="490.70" stroke="#a4a03a" stroke-width="0.9" />
<rect x="71.90" y="473.91" width="10.40" height="82.09" fill="url(#pG)" stroke="#3e9a36" stroke-width="0.8" />
<line x1="77.10" y1="473.51" x2="77.10" y2="467.62" stroke="#3e9a36" stroke-width="0.9" />
<line x1="74.90" y1="467.62" x2="79.30" y2="467.62" stroke="#3e9a36" stroke-width="0.9" />
<rect x="97.10" y="534.80" width="10.40" height="21.20" fill="url(#pR)" stroke="#8e2a3a" stroke-width="0.8" />
<line x1="102.30" y1="534.40" x2="102.30" y2="531.45" stroke="#8e2a3a" stroke-width="0.9" />
<line x1="100.10" y1="531.45" x2="104.50" y2="531.45" stroke="#8e2a3a" stroke-width="0.9" />
<rect x="109.40" y="526.94" width="10.40" height="29.06" fill="url(#pO)" stroke="#f0964a" stroke-width="0.8" />
<line x1="114.60" y1="526.54" x2="114.60" y2="524.58" stroke="#f0964a" stroke-width="0.9" />
<line x1="112.40" y1="524.58" x2="116.80" y2="524.58" stroke="#f0964a" stroke-width="0.9" />
<rect x="122.00" y="526.94" width="10.40" height="29.06" fill="url(#pY2)" stroke="#d0c840" stroke-width="0.8" />
<line x1="127.20" y1="526.54" x2="127.20" y2="523.59" stroke="#d0c840" stroke-width="0.9" />
<line x1="125.00" y1="523.59" x2="129.40" y2="523.59" stroke="#d0c840" stroke-width="0.9" />
<rect x="134.90" y="539.71" width="10.40" height="16.29" fill="url(#pG)" stroke="#3e9a36" stroke-width="0.8" />
<line x1="140.10" y1="539.31" x2="140.10" y2="537.83" stroke="#3e9a36" stroke-width="0.9" />
<line x1="137.90" y1="537.83" x2="142.30" y2="537.83" stroke="#3e9a36" stroke-width="0.9" />
<path d="M27.60,452.50 H152.30 V556.10 H27.60 Z" fill="none" stroke="#222" stroke-width="0.9"/>
<line x1="25.20" y1="556.00" x2="27.60" y2="556.00" stroke="#222" stroke-width="0.8" />
<text x="21.90" y="558.24" font-size="6.5" text-anchor="end" font-weight="bold" fill="#222" stroke="#222" stroke-width="0.1" >0</text>
<line x1="25.20" y1="531.45" x2="27.60" y2="531.45" stroke="#222" stroke-width="0.8" />
<text x="21.90" y="533.69" font-size="6.5" text-anchor="end" font-weight="bold" fill="#222" stroke="#222" stroke-width="0.1" >50</text>
<line x1="25.20" y1="506.90" x2="27.60" y2="506.90" stroke="#222" stroke-width="0.8" />
<text x="21.90" y="509.14" font-size="6.5" text-anchor="end" font-weight="bold" fill="#222" stroke="#222" stroke-width="0.1" >100</text>
<line x1="25.20" y1="482.35" x2="27.60" y2="482.35" stroke="#222" stroke-width="0.8" />
<text x="21.90" y="484.59" font-size="6.5" text-anchor="end" font-weight="bold" fill="#222" stroke="#222" stroke-width="0.1" >150</text>
<line x1="25.20" y1="457.80" x2="27.60" y2="457.80" stroke="#222" stroke-width="0.8" />
<text x="21.90" y="460.04" font-size="6.5" text-anchor="end" font-weight="bold" fill="#222" stroke="#222" stroke-width="0.1" >200</text>
<text x="0" y="3.10" font-size="9.0" text-anchor="middle" font-weight="normal" fill="#111" stroke="#111" stroke-width="0.22" transform="translate(4.00,506.00) rotate(-90)" >OCR (pMol/min)</text>
<text x="95.40" y="448.11" font-size="7.6" text-anchor="middle" font-weight="normal" fill="#111" stroke="#111" stroke-width="0.22" >Maximal OCR</text>
<text x="1.80" y="461.10" font-size="9.6" text-anchor="start" font-weight="normal" fill="#111" stroke="#111" stroke-width="0.22" >j</text>
<line x1="68.00" y1="456.90" x2="127.40" y2="456.90" stroke="#999" stroke-width="1.0" />
<path d="M93.05,453.45 L93.05,456.15 M91.88,454.12 L94.22,455.48 M94.22,454.12 L91.88,455.48 M97.20,453.45 L97.20,456.15 M96.03,454.12 L98.37,455.48 M98.37,454.12 L96.03,455.48 M101.35,453.45 L101.35,456.15 M100.18,454.12 L102.52,455.48 M102.52,454.12 L100.18,455.48" stroke="#7a7a7a" stroke-width="0.95" fill="none"/>
<line x1="80.90" y1="461.40" x2="140.30" y2="461.40" stroke="#444" stroke-width="0.8" />
<path d="M100.35,458.25 L100.35,460.95 M99.18,458.93 L101.52,460.28 M101.52,458.93 L99.18,460.28 M104.50,458.25 L104.50,460.95 M103.33,458.93 L105.67,460.28 M105.67,458.93 L103.33,460.28 M108.65,458.25 L108.65,460.95 M107.48,458.93 L109.82,460.28 M109.82,458.93 L107.48,460.28" stroke="#7a7a7a" stroke-width="0.95" fill="none"/>
<path d="M49.82,465.15 L49.82,467.85 M48.66,465.82 L50.99,467.18 M50.99,465.82 L48.66,467.18 M53.98,465.15 L53.98,467.85 M52.81,465.82 L55.14,467.18 M55.14,465.82 L52.81,467.18" stroke="#7a7a7a" stroke-width="0.95" fill="none"/>
<path d="M64.80,482.65 L64.80,485.35 M63.63,483.32 L65.97,484.68 M65.97,483.32 L63.63,484.68" stroke="#7a7a7a" stroke-width="0.95" fill="none"/>
<path d="M75.12,462.55 L75.12,465.25 M73.96,463.22 L76.29,464.57 M76.29,463.22 L73.96,464.57 M79.28,462.55 L79.28,465.25 M78.11,463.22 L80.44,464.57 M80.44,463.22 L78.11,464.57" stroke="#333" stroke-width="0.95" fill="none"/>
<path d="M110.65,517.65 L110.65,520.35 M109.48,518.33 L111.82,519.67 M111.82,518.33 L109.48,519.67 M114.80,517.65 L114.80,520.35 M113.63,518.33 L115.97,519.67 M115.97,518.33 L113.63,519.67 M118.95,517.65 L118.95,520.35 M117.78,518.33 L120.12,519.67 M120.12,518.33 L117.78,519.67" stroke="#7a7a7a" stroke-width="0.95" fill="none"/>
<line x1="33.90" y1="558.60" x2="82.30" y2="558.60" stroke="#555" stroke-width="0.8" />
<line x1="96.60" y1="558.60" x2="145.70" y2="558.60" stroke="#555" stroke-width="0.8" />
<text x="58.10" y="567.15" font-size="7.7" text-anchor="middle" font-weight="normal" fill="#111" stroke="#111" stroke-width="0.22" >Scr siRNA</text>
<text x="121.15" y="567.15" font-size="7.7" text-anchor="middle" font-weight="normal" fill="#111" stroke="#111" stroke-width="0.22" >+MCU siRNA</text>
<rect x="204.50" y="517.55" width="10.80" height="38.75" fill="url(#pR)" stroke="#8e2a3a" stroke-width="0.8" />
<line x1="209.90" y1="517.15" x2="209.90" y2="507.56" stroke="#8e2a3a" stroke-width="0.9" />
<line x1="207.70" y1="507.56" x2="212.10" y2="507.56" stroke="#8e2a3a" stroke-width="0.9" />
<rect x="217.40" y="487.19" width="10.80" height="69.11" fill="url(#pO)" stroke="#f0964a" stroke-width="0.8" />
<line x1="222.80" y1="486.79" x2="222.80" y2="475.60" stroke="#f0964a" stroke-width="0.9" />
<line x1="220.60" y1="475.60" x2="225.00" y2="475.60" stroke="#f0964a" stroke-width="0.9" />
<rect x="230.60" y="503.97" width="10.80" height="52.33" fill="url(#pY)" stroke="#a4a03a" stroke-width="0.8" />
<line x1="236.00" y1="503.57" x2="236.00" y2="493.98" stroke="#a4a03a" stroke-width="0.9" />
<line x1="233.80" y1="493.98" x2="238.20" y2="493.98" stroke="#a4a03a" stroke-width="0.9" />
<rect x="242.60" y="477.60" width="10.80" height="78.70" fill="url(#pG)" stroke="#3e9a36" stroke-width="0.8" />
<line x1="248.00" y1="477.20" x2="248.00" y2="468.41" stroke="#3e9a36" stroke-width="0.9" />
<line x1="245.80" y1="468.41" x2="250.20" y2="468.41" stroke="#3e9a36" stroke-width="0.9" />
<rect x="268.10" y="540.72" width="10.80" height="15.58" fill="url(#pR)" stroke="#8e2a3a" stroke-width="0.8" />
<line x1="273.50" y1="540.32" x2="273.50" y2="535.53" stroke="#8e2a3a" stroke-width="0.9" />
<line x1="271.30" y1="535.53" x2="275.70" y2="535.53" stroke="#8e2a3a" stroke-width="0.9" />
<rect x="280.50" y="530.33" width="10.80" height="25.97" fill="url(#pO)" stroke="#f0964a" stroke-width="0.8" />
<line x1="285.90" y1="529.93" x2="285.90" y2="525.94" stroke="#f0964a" stroke-width="0.9" />
<line x1="283.70" y1="525.94" x2="288.10" y2="525.94" stroke="#f0964a" stroke-width="0.9" />
<rect x="293.30" y="531.13" width="10.80" height="25.17" fill="url(#pY2)" stroke="#d0c840" stroke-width="0.8" />
<line x1="298.70" y1="530.73" x2="298.70" y2="525.94" stroke="#d0c840" stroke-width="0.9" />
<line x1="296.50" y1="525.94" x2="300.90" y2="525.94" stroke="#d0c840" stroke-width="0.9" />
<rect x="305.70" y="545.51" width="10.80" height="10.79" fill="url(#pG)" stroke="#3e9a36" stroke-width="0.8" />
<line x1="311.10" y1="545.11" x2="311.10" y2="542.72" stroke="#3e9a36" stroke-width="0.9" />
<line x1="308.90" y1="542.72" x2="313.30" y2="542.72" stroke="#3e9a36" stroke-width="0.9" />
<path d="M198.80,452.80 H322.60 V556.40 H198.80 Z" fill="none" stroke="#222" stroke-width="0.9"/>
<line x1="195.80" y1="556.30" x2="198.80" y2="556.30" stroke="#222" stroke-width="0.8" />
<text x="192.50" y="558.50" font-size="6.4" text-anchor="end" font-weight="bold" fill="#222" stroke="#222" stroke-width="0.1" >0</text>
<line x1="195.80" y1="540.32" x2="198.80" y2="540.32" stroke="#222" stroke-width="0.8" />
<text x="192.50" y="542.52" font-size="6.4" text-anchor="end" font-weight="bold" fill="#222" stroke="#222" stroke-width="0.1" >20</text>
<line x1="195.80" y1="524.34" x2="198.80" y2="524.34" stroke="#222" stroke-width="0.8" />
<text x="192.50" y="526.54" font-size="6.4" text-anchor="end" font-weight="bold" fill="#222" stroke="#222" stroke-width="0.1" >40</text>
<line x1="195.80" y1="508.36" x2="198.80" y2="508.36" stroke="#222" stroke-width="0.8" />
<text x="192.50" y="510.56" font-size="6.4" text-anchor="end" font-weight="bold" fill="#222" stroke="#222" stroke-width="0.1" >60</text>
<line x1="195.80" y1="492.38" x2="198.80" y2="492.38" stroke="#222" stroke-width="0.8" />
<text x="192.50" y="494.58" font-size="6.4" text-anchor="end" font-weight="bold" fill="#222" stroke="#222" stroke-width="0.1" >80</text>
<line x1="195.80" y1="476.40" x2="198.80" y2="476.40" stroke="#222" stroke-width="0.8" />
<text x="192.50" y="478.60" font-size="6.4" text-anchor="end" font-weight="bold" fill="#222" stroke="#222" stroke-width="0.1" >100</text>
<line x1="195.80" y1="460.42" x2="198.80" y2="460.42" stroke="#222" stroke-width="0.8" />
<text x="192.50" y="462.62" font-size="6.4" text-anchor="end" font-weight="bold" fill="#222" stroke="#222" stroke-width="0.1" >120</text>
<text x="0" y="3.10" font-size="9.0" text-anchor="middle" font-weight="normal" fill="#111" stroke="#111" stroke-width="0.22" transform="translate(175.20,505.80) rotate(-90)" >OCR (pMol/min)</text>
<text x="264.10" y="448.21" font-size="7.6" text-anchor="middle" font-weight="normal" fill="#111" stroke="#111" stroke-width="0.22" >Spare capacity</text>
<text x="175.20" y="461.10" font-size="9.0" text-anchor="start" font-weight="normal" fill="#111" stroke="#111" stroke-width="0.22" >k</text>
<line x1="235.70" y1="457.50" x2="294.50" y2="457.50" stroke="#555" stroke-width="0.8" />
<path d="M260.35,454.45 L260.35,457.15 M259.18,455.12 L261.52,456.48 M261.52,455.12 L259.18,456.48 M264.50,454.45 L264.50,457.15 M263.33,455.12 L265.67,456.48 M265.67,455.12 L263.33,456.48 M268.65,454.45 L268.65,457.15 M267.48,455.12 L269.82,456.48 M269.82,455.12 L267.48,456.48" stroke="#7a7a7a" stroke-width="0.95" fill="none"/>
<line x1="248.60" y1="462.30" x2="308.20" y2="462.30" stroke="#555" stroke-width="0.8" />
<path d="M267.95,459.25 L267.95,461.95 M266.78,459.93 L269.12,461.28 M269.12,459.93 L266.78,461.28 M272.10,459.25 L272.10,461.95 M270.93,459.93 L273.27,461.28 M273.27,459.93 L270.93,461.28 M276.25,459.25 L276.25,461.95 M275.08,459.93 L277.42,461.28 M277.42,459.93 L275.08,461.28" stroke="#7a7a7a" stroke-width="0.95" fill="none"/>
<path d="M221.93,470.45 L221.93,473.15 M220.76,471.12 L223.09,472.48 M223.09,471.12 L220.76,472.48 M226.07,470.45 L226.07,473.15 M224.91,471.12 L227.24,472.48 M227.24,471.12 L224.91,472.48" stroke="#7a7a7a" stroke-width="0.95" fill="none"/>
<path d="M235.50,488.35 L235.50,491.05 M234.33,489.02 L236.67,490.38 M236.67,489.02 L234.33,490.38" stroke="#7a7a7a" stroke-width="0.95" fill="none"/>
<path d="M245.93,464.15 L245.93,466.85 M244.76,464.82 L247.09,466.18 M247.09,464.82 L244.76,466.18 M250.07,464.15 L250.07,466.85 M248.91,464.82 L251.24,466.18 M251.24,464.82 L248.91,466.18" stroke="#333" stroke-width="0.95" fill="none"/>
<path d="M281.85,520.15 L281.85,522.85 M280.68,520.83 L283.02,522.17 M283.02,520.83 L280.68,522.17 M286.00,520.15 L286.00,522.85 M284.83,520.83 L287.17,522.17 M287.17,520.83 L284.83,522.17 M290.15,520.15 L290.15,522.85 M288.98,520.83 L291.32,522.17 M291.32,520.83 L288.98,522.17" stroke="#7a7a7a" stroke-width="0.95" fill="none"/>
<line x1="204.00" y1="558.60" x2="254.00" y2="558.60" stroke="#555" stroke-width="0.8" />
<line x1="267.70" y1="558.60" x2="317.00" y2="558.60" stroke="#555" stroke-width="0.8" />
<text x="229.00" y="567.15" font-size="7.7" text-anchor="middle" font-weight="normal" fill="#111" stroke="#111" stroke-width="0.22" >Scr siRNA</text>
<text x="292.35" y="567.15" font-size="7.7" text-anchor="middle" font-weight="normal" fill="#111" stroke="#111" stroke-width="0.22" >+MCU siRNA</text>
<rect x="359.20" y="516.24" width="10.40" height="39.96" fill="url(#pR)" stroke="#8e2a3a" stroke-width="0.8" />
<line x1="364.40" y1="515.84" x2="364.40" y2="504.45" stroke="#8e2a3a" stroke-width="0.9" />
<line x1="362.20" y1="504.45" x2="366.60" y2="504.45" stroke="#8e2a3a" stroke-width="0.9" />
<rect x="371.50" y="487.25" width="10.40" height="68.94" fill="url(#pO)" stroke="#f0964a" stroke-width="0.8" />
<line x1="376.70" y1="486.86" x2="376.70" y2="473.40" stroke="#f0964a" stroke-width="0.9" />
<line x1="374.50" y1="473.40" x2="378.90" y2="473.40" stroke="#f0964a" stroke-width="0.9" />
<rect x="384.00" y="503.82" width="10.40" height="52.38" fill="url(#pY)" stroke="#a4a03a" stroke-width="0.8" />
<line x1="389.20" y1="503.42" x2="389.20" y2="491.00" stroke="#a4a03a" stroke-width="0.9" />
<line x1="387.00" y1="491.00" x2="391.40" y2="491.00" stroke="#a4a03a" stroke-width="0.9" />
<rect x="396.90" y="493.47" width="10.40" height="62.73" fill="url(#pG)" stroke="#3e9a36" stroke-width="0.8" />
<line x1="402.10" y1="493.07" x2="402.10" y2="480.65" stroke="#3e9a36" stroke-width="0.9" />
<line x1="399.90" y1="480.65" x2="404.30" y2="480.65" stroke="#3e9a36" stroke-width="0.9" />
<rect x="419.90" y="545.22" width="10.40" height="10.98" fill="url(#pR)" stroke="#8e2a3a" stroke-width="0.8" />
<line x1="425.10" y1="544.82" x2="425.10" y2="538.61" stroke="#8e2a3a" stroke-width="0.9" />
<line x1="422.90" y1="538.61" x2="427.30" y2="538.61" stroke="#8e2a3a" stroke-width="0.9" />
<rect x="432.30" y="539.52" width="10.40" height="16.68" fill="url(#pO)" stroke="#f0964a" stroke-width="0.8" />
<line x1="437.50" y1="539.12" x2="437.50" y2="533.95" stroke="#f0964a" stroke-width="0.9" />
<line x1="435.30" y1="533.95" x2="439.70" y2="533.95" stroke="#f0964a" stroke-width="0.9" />
<rect x="444.70" y="535.90" width="10.40" height="20.30" fill="url(#pY2)" stroke="#d0c840" stroke-width="0.8" />
<line x1="449.90" y1="535.50" x2="449.90" y2="529.29" stroke="#d0c840" stroke-width="0.9" />
<line x1="447.70" y1="529.29" x2="452.10" y2="529.29" stroke="#d0c840" stroke-width="0.9" />
<rect x="457.30" y="543.14" width="10.40" height="13.05" fill="url(#pG)" stroke="#3e9a36" stroke-width="0.8" />
<line x1="462.50" y1="542.75" x2="462.50" y2="539.64" stroke="#3e9a36" stroke-width="0.9" />
<line x1="460.30" y1="539.64" x2="464.70" y2="539.64" stroke="#3e9a36" stroke-width="0.9" />
<path d="M352.40,452.60 H477.70 V556.30 H352.40 Z" fill="none" stroke="#222" stroke-width="0.9"/>
<line x1="349.80" y1="556.20" x2="352.40" y2="556.20" stroke="#222" stroke-width="0.8" />
<text x="346.80" y="558.44" font-size="6.5" text-anchor="end" font-weight="bold" fill="#222" stroke="#222" stroke-width="0.1" >0</text>
<line x1="349.80" y1="535.50" x2="352.40" y2="535.50" stroke="#222" stroke-width="0.8" />
<text x="346.80" y="537.74" font-size="6.5" text-anchor="end" font-weight="bold" fill="#222" stroke="#222" stroke-width="0.1" >20</text>
<line x1="349.80" y1="514.80" x2="352.40" y2="514.80" stroke="#222" stroke-width="0.8" />
<text x="346.80" y="517.04" font-size="6.5" text-anchor="end" font-weight="bold" fill="#222" stroke="#222" stroke-width="0.1" >40</text>
<line x1="349.80" y1="494.10" x2="352.40" y2="494.10" stroke="#222" stroke-width="0.8" />
<text x="346.80" y="496.34" font-size="6.5" text-anchor="end" font-weight="bold" fill="#222" stroke="#222" stroke-width="0.1" >60</text>
<line x1="349.80" y1="473.40" x2="352.40" y2="473.40" stroke="#222" stroke-width="0.8" />
<text x="346.80" y="475.64" font-size="6.5" text-anchor="end" font-weight="bold" fill="#222" stroke="#222" stroke-width="0.1" >80</text>
<line x1="349.80" y1="452.70" x2="352.40" y2="452.70" stroke="#222" stroke-width="0.8" />
<text x="346.80" y="454.94" font-size="6.5" text-anchor="end" font-weight="bold" fill="#222" stroke="#222" stroke-width="0.1" >100</text>
<text x="0" y="3.10" font-size="9.0" text-anchor="middle" font-weight="normal" fill="#111" stroke="#111" stroke-width="0.22" transform="translate(334.50,506.40) rotate(-90)" >OCR (pMol/min)</text>
<text x="413.40" y="448.95" font-size="7.7" text-anchor="middle" font-weight="normal" fill="#111" stroke="#111" stroke-width="0.22" >ATP coupled respiration</text>
<text x="328.40" y="461.10" font-size="9.6" text-anchor="start" font-weight="normal" fill="#111" stroke="#111" stroke-width="0.22" >l</text>
<line x1="387.70" y1="457.50" x2="447.60" y2="457.50" stroke="#555" stroke-width="0.8" />
<path d="M413.35,454.45 L413.35,457.15 M412.18,455.12 L414.52,456.48 M414.52,455.12 L412.18,456.48 M417.50,454.45 L417.50,457.15 M416.33,455.12 L418.67,456.48 M418.67,455.12 L416.33,456.48 M421.65,454.45 L421.65,457.15 M420.48,455.12 L422.82,456.48 M422.82,455.12 L420.48,456.48" stroke="#7a7a7a" stroke-width="0.95" fill="none"/>
<line x1="400.90" y1="461.80" x2="460.10" y2="461.80" stroke="#555" stroke-width="0.8" />
<path d="M426.35,458.75 L426.35,461.45 M425.18,459.43 L427.52,460.78 M427.52,459.43 L425.18,460.78 M430.50,458.75 L430.50,461.45 M429.33,459.43 L431.67,460.78 M431.67,459.43 L429.33,460.78 M434.65,458.75 L434.65,461.45 M433.48,459.43 L435.82,460.78 M435.82,459.43 L433.48,460.78" stroke="#7a7a7a" stroke-width="0.95" fill="none"/>
<line x1="376.90" y1="466.70" x2="436.20" y2="466.70" stroke="#999" stroke-width="1.0" />
<path d="M402.35,463.65 L402.35,466.35 M401.18,464.32 L403.52,465.68 M403.52,464.32 L401.18,465.68 M406.50,463.65 L406.50,466.35 M405.33,464.32 L407.67,465.68 M407.67,464.32 L405.33,465.68 M410.65,463.65 L410.65,466.35 M409.48,464.32 L411.82,465.68 M411.82,464.32 L409.48,465.68" stroke="#7a7a7a" stroke-width="0.95" fill="none"/>
<path d="M374.53,469.15 L374.53,471.85 M373.36,469.82 L375.69,471.18 M375.69,469.82 L373.36,471.18 M378.68,469.15 L378.68,471.85 M377.51,469.82 L379.84,471.18 M379.84,469.82 L377.51,471.18" stroke="#7a7a7a" stroke-width="0.95" fill="none"/>
<path d="M389.00,485.65 L389.00,488.35 M387.83,486.32 L390.17,487.68 M390.17,486.32 L387.83,487.68" stroke="#7a7a7a" stroke-width="0.95" fill="none"/>
<path d="M399.93,475.65 L399.93,478.35 M398.76,476.32 L401.09,477.68 M401.09,476.32 L398.76,477.68 M404.07,475.65 L404.07,478.35 M402.91,476.32 L405.24,477.68 M405.24,476.32 L402.91,477.68" stroke="#333" stroke-width="0.95" fill="none"/>
<line x1="358.00" y1="558.60" x2="409.00" y2="558.60" stroke="#555" stroke-width="0.8" />
<line x1="417.00" y1="558.60" x2="470.00" y2="558.60" stroke="#555" stroke-width="0.8" />
<text x="383.50" y="567.15" font-size="7.7" text-anchor="middle" font-weight="normal" fill="#111" stroke="#111" stroke-width="0.22" >Scr siRNA</text>
<text x="443.50" y="567.15" font-size="7.7" text-anchor="middle" font-weight="normal" fill="#111" stroke="#111" stroke-width="0.22" >+MCU siRNA</text>
</svg></body></html>
